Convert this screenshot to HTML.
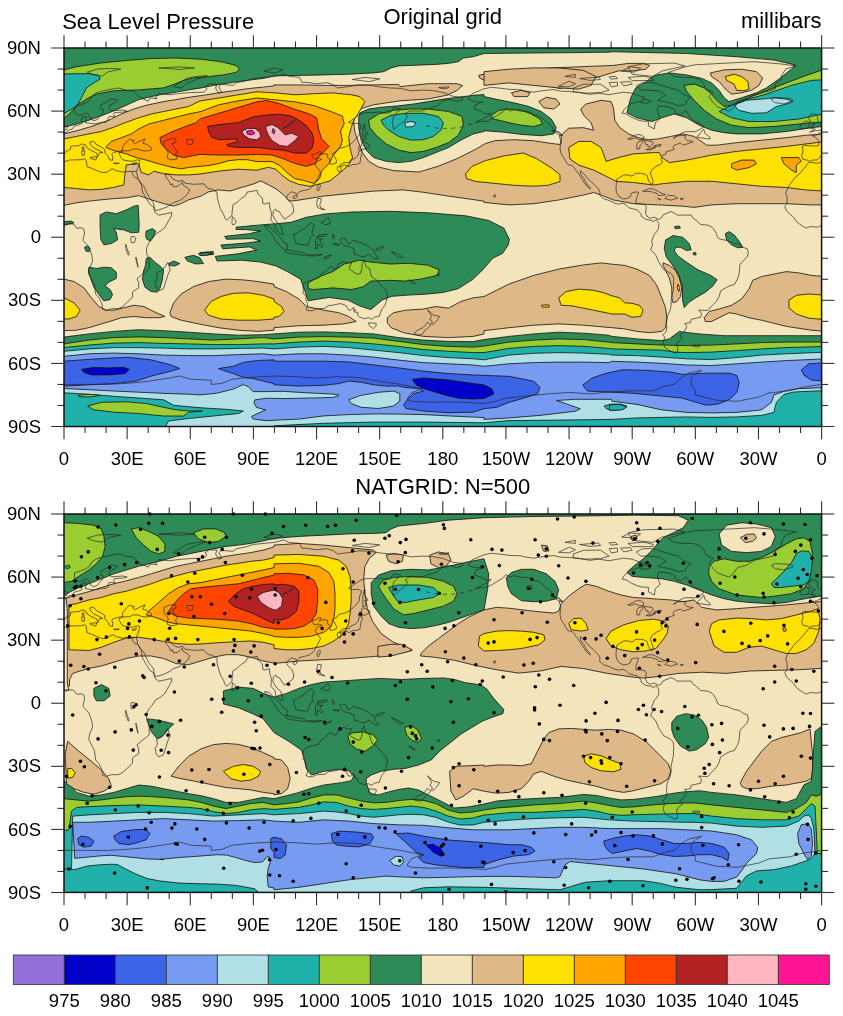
<!DOCTYPE html><html><head><meta charset="utf-8"><style>html,body{margin:0;padding:0;background:#fff}svg{display:block}</style></head><body><svg width="843" height="1016" viewBox="0 0 843 1016" style="font-family:'Liberation Sans',Arial,Helvetica,sans-serif" fill="#000">
<rect width="843" height="1016" fill="#fff"/>
<clipPath id="ct"><rect x="64.0" y="48.0" width="757.60" height="378.50"/></clipPath>
<g clip-path="url(#ct)">
<rect x="64.0" y="48.0" width="757.60" height="378.50" fill="#f3e4bc"/>
<path d="M60.0,40.0 L822.5,43.0 L822.5,126.5 L811.3,127.7 L786.4,131.5 L761.5,133.9 L736.6,133.9 L724.1,132.7 L711.6,130.2 L699.2,125.2 L686.7,117.8 L674.3,114.0 L661.8,117.8 L651.9,121.5 L636.9,117.8 L626.9,112.8 L630.7,97.8 L635.7,87.9 L644.4,82.9 L654.3,75.4 L669.3,72.9 L686.7,74.9 L701.7,78.4 L711.6,82.9 L719.1,90.3 L724.1,97.8 L729.1,101.6 L741.5,97.8 L756.5,92.8 L766.4,87.9 L778.9,79.1 L791.4,69.2 L795.1,64.9 L773.9,60.0 L736.6,56.7 L686.7,53.5 L612.0,51.7 L608.6,52.2 L583.6,52.5 L533.8,53.0 L484.0,53.5 L473.3,56.7 L463.3,58.0 L458.3,61.7 L448.4,63.4 L435.9,64.4 L423.5,64.9 L411.0,65.4 L398.6,65.9 L391.1,67.9 L383.6,71.7 L373.6,72.9 L348.7,74.2 L323.8,74.9 L298.9,75.4 L274.0,75.9 L263.3,78.4 L250.8,79.9 L238.4,81.6 L225.9,83.4 L213.5,85.4 L201.0,87.9 L188.6,89.9 L176.1,92.1 L163.6,94.1 L151.2,96.6 L138.7,99.6 L126.3,105.3 L113.8,110.8 L101.4,115.8 L88.9,120.2 L76.5,124.0 L64.0,127.2 L59.0,127.2 L59.0,43.0 Z" fill="#2e8b57" stroke="#111" stroke-width="0.8"/>
<path d="M59.0,69.9 L64.0,69.9 L76.5,66.7 L101.4,62.9 L126.3,60.5 L151.2,58.5 L176.1,58.0 L201.0,59.2 L220.9,61.7 L235.9,65.4 L239.6,69.2 L235.9,72.4 L223.4,74.9 L208.5,76.6 L193.5,77.9 L183.6,80.4 L174.9,84.1 L163.6,87.9 L138.7,89.9 L113.8,90.8 L96.4,94.1 L86.4,99.1 L78.9,104.0 L74.0,109.0 L69.0,114.0 L64.0,118.2 L59.0,118.2 Z" fill="#9acd32" stroke="#111" stroke-width="0.8"/>
<path d="M59.0,74.2 L74.0,73.7 L88.9,73.7 L98.9,75.4 L100.1,79.1 L93.9,82.9 L86.4,87.9 L82.7,95.3 L78.9,102.8 L74.0,107.8 L67.7,111.5 L64.0,113.3 L59.0,113.3 Z" fill="#20b2aa" stroke="#111" stroke-width="0.8"/>
<path d="M359.9,112.8 L368.7,109.0 L381.1,107.3 L398.6,105.8 L413.5,104.0 L428.4,101.6 L443.4,99.1 L458.3,97.3 L473.3,95.3 L484.0,94.6 L484.0,96.6 L498.9,99.8 L513.9,102.8 L528.8,106.5 L541.3,111.5 L551.3,119.0 L556.2,127.7 L553.8,133.9 L541.3,135.7 L521.4,134.4 L503.9,132.2 L484.0,130.7 L484.0,131.5 L473.3,133.9 L460.8,140.2 L448.4,147.6 L435.9,152.6 L423.5,157.6 L411.0,161.3 L398.6,162.6 L386.1,161.3 L373.6,157.6 L366.2,150.1 L361.2,140.2 L358.7,127.7 L358.7,117.8 Z" fill="#2e8b57" stroke="#111" stroke-width="0.8"/>
<path d="M368.7,120.2 L378.6,114.0 L393.6,110.3 L411.0,109.0 L428.4,109.0 L448.4,111.5 L462.1,116.5 L463.3,125.2 L458.3,135.2 L448.4,142.7 L435.9,147.6 L423.5,151.4 L411.0,152.6 L398.6,150.1 L386.1,143.9 L376.1,135.2 L369.9,127.7 Z" fill="#9acd32" stroke="#111" stroke-width="0.8"/>
<path d="M381.1,120.2 L391.1,115.3 L406.0,113.3 L423.5,113.3 L438.4,116.5 L443.4,122.7 L440.9,130.2 L433.4,136.4 L423.5,139.7 L411.0,140.2 L398.6,136.4 L388.6,130.2 L383.6,125.2 Z" fill="#20b2aa" stroke="#111" stroke-width="0.8"/>
<path d="M404.8,122.7 L411.0,121.5 L416.0,122.7 L413.5,126.5 L406.0,127.2 Z" fill="#b0e0e6" stroke="#111" stroke-width="0.8"/>
<path d="M491.5,115.3 L498.9,110.3 L508.9,109.0 L521.4,110.3 L531.3,114.0 L540.0,119.0 L542.5,124.0 L533.8,126.5 L521.4,125.2 L508.9,122.7 L498.9,120.2 L492.7,119.0 Z" fill="#9acd32" stroke="#111" stroke-width="0.8"/>
<path d="M684.2,85.4 L694.2,84.1 L704.2,87.9 L711.6,94.1 L716.6,100.3 L724.1,106.5 L731.6,105.3 L741.5,100.3 L761.5,92.8 L786.4,82.9 L806.3,75.4 L822.5,69.9 L822.5,122.0 L798.8,124.0 L773.9,126.5 L749.0,127.7 L731.6,125.2 L716.6,119.0 L704.2,110.3 L694.2,100.3 L686.7,91.6 Z" fill="#9acd32" stroke="#111" stroke-width="0.8"/>
<path d="M719.1,111.5 L729.1,106.5 L744.0,100.3 L766.4,94.1 L791.4,85.4 L811.3,80.4 L822.5,79.9 L822.5,114.0 L798.8,119.0 L773.9,121.5 L749.0,121.5 L731.6,117.8 Z" fill="#20b2aa" stroke="#111" stroke-width="0.8"/>
<path d="M736.6,104.0 L746.5,100.3 L761.5,99.1 L773.9,97.8 L786.4,99.1 L792.6,101.6 L786.4,104.0 L776.4,106.5 L766.4,112.8 L751.5,113.3 L739.0,110.3 L735.3,106.5 Z" fill="#b0e0e6" stroke="#111" stroke-width="0.8"/>
<path d="M710.4,72.9 L724.1,69.9 L741.5,69.2 L756.5,71.7 L762.7,77.9 L759.0,85.4 L751.5,90.3 L741.5,92.8 L731.6,94.1 L726.6,90.3 L719.1,81.6 L711.6,76.6 Z" fill="#deb887" stroke="#111" stroke-width="0.8"/>
<path d="M725.3,76.6 L734.1,74.2 L741.5,76.6 L747.8,81.6 L749.0,89.1 L744.0,90.8 L736.6,90.3 L734.1,84.1 L726.6,80.4 Z" fill="#ffe100" stroke="#111" stroke-width="0.8"/>
<path d="M478.8,75.2 L494.9,72.3 L523.4,69.5 L560.0,67.6 L613.5,65.4 L628.5,63.4 L643.4,63.4 L649.7,65.4 L645.9,69.2 L633.5,70.9 L618.5,70.9 L560.0,88.5 L532.9,82.8 L504.4,81.8 L485.4,80.9 L479.7,78.0 Z" fill="#deb887" stroke="#111" stroke-width="0.8"/>
<path d="M484.0,71.7 L508.9,69.2 L533.8,67.9 L558.7,67.9 L583.6,70.4 L596.1,76.6 L591.1,85.4 L578.7,89.1 L558.7,87.9 L533.8,85.4 L508.9,82.9 L484.0,85.4 Z" fill="#deb887" stroke="#111" stroke-width="0.8"/>
<path d="M511.4,92.8 L521.4,90.3 L530.1,92.8 L527.6,96.6 L513.9,96.6 Z" fill="#deb887" stroke="#111" stroke-width="0.8"/>
<path d="M538.8,101.6 L546.3,97.3 L556.2,99.1 L560.0,104.0 L553.8,109.0 L543.8,107.8 Z" fill="#deb887" stroke="#111" stroke-width="0.8"/>
<path d="M59.0,133.9 L64.0,133.9 L78.9,130.2 L93.9,125.7 L108.8,120.2 L121.3,114.0 L133.8,109.0 L146.2,105.3 L163.6,101.6 L176.1,99.6 L188.6,97.3 L203.5,95.3 L218.4,92.8 L233.4,90.8 L248.3,88.6 L263.3,87.1 L274.0,85.9 L274.0,84.9 L298.9,84.9 L323.8,85.4 L348.7,85.4 L373.6,84.9 L398.6,84.4 L400.0,86.6 L428.5,83.7 L456.9,83.7 L462.6,85.6 L456.9,90.4 L447.4,95.1 L428.5,98.9 L400.0,100.8 L373.6,104.8 L359.9,109.0 L355.0,115.3 L353.7,122.7 L355.0,132.7 L358.7,142.7 L362.4,152.6 L368.7,161.3 L378.6,167.1 L393.6,170.6 L419.0,172.0 L438.0,166.3 L456.9,158.7 L475.9,149.2 L485.4,143.5 L494.9,140.7 L513.9,139.7 L532.9,140.7 L551.8,143.5 L560.0,144.5 L561.2,143.9 L561.2,135.2 L568.7,128.2 L583.6,127.7 L593.6,130.2 L591.1,122.7 L583.6,115.3 L580.7,109.0 L586.1,104.0 L601.1,100.3 L611.0,101.6 L613.5,107.8 L614.8,120.2 L619.8,127.7 L628.5,133.9 L638.4,137.7 L648.4,139.7 L658.4,138.9 L670.8,136.4 L683.3,133.9 L694.2,136.4 L706.7,145.2 L716.6,145.2 L736.6,142.7 L761.5,140.2 L786.4,137.7 L806.3,135.2 L826.2,133.9 L826.2,204.9 L811.3,204.9 L786.4,203.7 L761.5,203.7 L736.6,203.7 L711.6,204.9 L694.0,207.4 L683.3,206.2 L658.4,204.9 L633.5,203.7 L613.5,200.0 L601.1,195.0 L593.6,192.5 L583.6,195.0 L558.7,200.0 L533.8,203.7 L508.9,204.9 L484.0,202.4 L484.0,201.1 L448.4,196.1 L423.5,192.3 L403.5,189.9 L373.6,191.1 L348.7,193.6 L323.8,196.1 L296.4,200.5 L289.3,201.1 L284.6,195.8 L277.4,189.8 L269.1,185.1 L260.8,180.9 L253.7,183.9 L241.9,187.4 L230.0,191.0 L218.4,189.9 L208.5,191.9 L201.0,196.1 L188.6,199.8 L181.1,203.6 L173.6,206.0 L163.6,203.6 L151.2,199.8 L138.7,195.6 L126.3,197.8 L113.8,198.6 L101.4,199.8 L88.9,201.1 L76.5,202.8 L64.0,205.3 L59.0,205.3 Z" fill="#deb887" stroke="#111" stroke-width="0.8"/>
<path d="M59.0,138.9 L64.0,138.9 L76.5,136.4 L88.9,133.9 L101.4,131.5 L113.8,127.2 L126.3,122.2 L138.7,117.8 L151.2,114.0 L163.6,111.5 L176.1,109.0 L188.6,106.5 L200.0,100.9 L219.0,98.0 L238.0,94.8 L256.9,91.8 L275.9,92.9 L294.9,94.8 L313.9,93.7 L332.9,92.9 L351.8,94.8 L360.0,96.7 L364.9,101.6 L358.7,112.8 L353.7,120.2 L351.2,127.7 L348.7,137.7 L350.0,147.6 L352.5,157.6 L348.7,165.1 L338.8,173.8 L330.0,180.8 L321.5,183.4 L310.1,186.3 L298.7,184.4 L289.2,180.6 L281.6,174.9 L275.9,169.2 L268.3,167.3 L256.9,170.2 L238.0,169.2 L219.0,171.1 L200.0,174.0 L188.6,174.9 L176.1,174.9 L163.6,173.7 L153.7,171.2 L148.7,174.9 L141.2,172.4 L138.7,163.7 L126.3,164.9 L125.0,173.7 L123.8,184.9 L113.8,187.4 L101.4,189.4 L88.9,189.9 L76.5,188.6 L64.0,187.4 L59.0,187.4 Z" fill="#ffe100" stroke="#111" stroke-width="0.8"/>
<path d="M106.3,146.4 L111.3,141.4 L121.3,137.7 L131.3,133.9 L138.7,129.0 L148.7,124.0 L158.7,121.5 L168.6,119.0 L178.6,116.5 L188.6,114.0 L201.0,111.5 L219.0,104.7 L238.0,100.9 L256.9,98.0 L275.9,99.9 L294.9,101.8 L313.9,105.6 L332.9,112.3 L342.3,116.1 L344.2,123.7 L340.5,131.2 L342.3,140.7 L340.5,146.4 L332.9,155.9 L329.1,163.5 L321.5,171.1 L319.6,178.7 L313.9,183.4 L304.4,180.6 L294.9,178.7 L287.3,173.0 L279.7,165.4 L272.1,161.6 L256.9,161.6 L247.4,159.7 L238.0,159.7 L228.5,160.7 L219.0,163.5 L209.5,165.4 L200.0,166.4 L191.0,167.1 L181.1,168.8 L171.1,167.1 L158.7,163.8 L146.2,160.1 L136.2,157.6 L126.3,153.9 L113.8,150.6 L106.3,147.6 Z" fill="#ffa500" stroke="#111" stroke-width="0.8"/>
<path d="M159.9,137.7 L171.1,132.2 L183.6,127.2 L196.0,122.7 L200.0,118.9 L219.0,113.2 L238.0,107.5 L256.9,101.8 L266.4,100.5 L279.7,103.7 L294.9,109.4 L310.1,114.2 L316.7,118.0 L318.6,129.3 L321.5,138.8 L329.1,146.4 L323.4,152.1 L317.7,157.8 L315.8,163.5 L306.3,166.4 L294.9,163.5 L283.5,158.8 L272.1,155.0 L256.9,154.4 L238.0,155.0 L219.0,155.0 L200.0,154.4 L193.5,155.6 L183.6,157.6 L173.6,155.1 L166.1,148.9 L161.2,143.9 Z" fill="#ff4500" stroke="#111" stroke-width="0.8"/>
<path d="M207.6,126.5 L219.0,124.6 L238.0,122.7 L253.1,117.0 L266.4,115.1 L279.7,114.2 L291.1,116.1 L298.7,119.9 L306.3,125.6 L312.0,133.1 L313.9,140.7 L312.0,148.3 L306.3,153.1 L294.9,153.1 L283.5,150.2 L272.1,149.3 L256.9,147.4 L238.0,147.4 L228.5,146.4 L226.6,144.5 L238.0,141.7 L236.1,138.8 L219.0,139.8 L211.4,136.9 L208.5,131.2 Z" fill="#b22222" stroke="#111" stroke-width="0.8"/>
<path d="M241.8,131.2 L247.4,128.4 L255.0,128.4 L259.8,132.2 L260.7,136.9 L256.9,139.8 L249.3,138.8 L243.7,135.0 Z" fill="#ffb6c1" stroke="#111" stroke-width="0.8"/>
<path d="M246.5,131.2 L252.2,130.3 L255.0,133.1 L251.2,135.0 L247.4,134.1 Z" fill="#ff1493" stroke="#111" stroke-width="0.8"/>
<path d="M265.5,126.5 L272.1,124.6 L277.8,127.4 L281.6,131.2 L285.4,135.0 L291.1,133.1 L298.7,136.0 L294.9,140.7 L287.3,146.4 L279.7,145.5 L272.1,140.7 L268.3,135.0 L266.4,130.3 Z" fill="#ffb6c1" stroke="#111" stroke-width="0.8"/>
<path d="M273.1,128.4 L275.0,131.2 L274.0,134.1 L272.1,132.2 Z" fill="#ff1493" stroke="#111" stroke-width="0.8"/>
<path d="M465.5,173.9 L472.1,166.3 L485.4,160.6 L504.4,155.8 L523.4,153.0 L536.7,158.7 L551.8,168.2 L560.0,174.8 L560.0,181.5 L548.0,185.3 L532.9,186.2 L513.9,185.3 L494.9,183.4 L475.9,181.5 L466.4,178.6 Z" fill="#ffe100" stroke="#111" stroke-width="0.8"/>
<path d="M568.7,147.6 L578.7,141.4 L591.1,141.4 L601.1,147.6 L606.1,161.3 L618.5,157.6 L633.5,153.9 L653.4,152.6 L659.3,152.6 L661.8,157.6 L669.3,162.6 L686.7,160.1 L711.6,155.1 L736.6,151.4 L761.5,148.9 L786.4,146.4 L806.3,143.9 L826.2,141.4 L826.2,191.2 L806.3,190.0 L786.4,187.5 L761.5,186.3 L736.6,183.8 L711.6,181.3 L686.7,181.3 L661.8,183.8 L653.4,185.0 L633.5,182.5 L616.0,181.3 L603.6,175.0 L593.6,170.1 L578.7,165.1 L569.9,158.9 Z" fill="#ffe100" stroke="#111" stroke-width="0.8"/>
<path d="M731.6,163.8 L741.5,160.1 L754.0,160.1 L756.5,163.8 L749.0,167.6 L736.6,170.1 L731.6,167.6 Z" fill="#ffa500" stroke="#111" stroke-width="0.8"/>
<path d="M781.4,157.6 L798.8,157.6 L801.3,161.3 L796.3,165.1 L796.3,172.6 L791.4,170.1 L783.9,163.8 Z" fill="#ffa500" stroke="#111" stroke-width="0.8"/>
<path d="M50.0,400.0 L64.0,337.1 L88.9,333.9 L113.8,331.4 L138.7,329.7 L163.6,330.7 L188.6,332.2 L213.5,333.9 L238.4,335.2 L263.3,334.7 L274.0,333.9 L298.9,332.2 L323.8,331.9 L348.7,332.7 L373.6,333.9 L398.6,337.6 L423.5,340.1 L448.4,341.4 L473.3,341.6 L484.0,339.6 L508.9,336.4 L533.8,333.9 L558.7,332.2 L583.6,333.2 L608.6,335.2 L612.0,336.4 L636.9,338.9 L661.8,340.6 L669.3,338.9 L679.3,331.4 L684.2,332.2 L699.2,333.9 L724.1,335.7 L749.0,335.7 L773.9,335.7 L798.8,335.7 L826.2,335.7 L830.0,440.0 L50.0,440.0 Z" fill="#2e8b57" stroke="#111" stroke-width="0.8"/>
<path d="M50.0,405.0 L64.0,343.9 L88.9,340.1 L113.8,337.6 L138.7,336.9 L163.6,337.6 L188.6,338.9 L213.5,340.1 L238.4,338.9 L263.3,337.6 L274.0,338.9 L298.9,337.1 L323.8,336.6 L348.7,337.1 L373.6,338.1 L398.6,341.4 L423.5,344.6 L448.4,346.4 L473.3,347.1 L484.0,346.1 L508.9,342.1 L533.8,340.1 L558.7,338.9 L583.6,339.6 L608.6,342.1 L612.0,342.6 L636.9,343.9 L661.8,345.1 L686.7,345.6 L711.6,345.1 L736.6,343.9 L761.5,342.6 L786.4,342.1 L826.2,342.1 L830.0,440.0 L50.0,440.0 Z" fill="#9acd32" stroke="#111" stroke-width="0.8"/>
<path d="M50.0,410.0 L64.0,347.6 L88.9,345.1 L113.8,343.1 L138.7,342.6 L163.6,343.4 L188.6,343.9 L213.5,344.6 L238.4,344.6 L263.3,343.9 L274.0,343.9 L298.9,342.1 L323.8,341.1 L348.7,342.1 L373.6,343.9 L398.6,346.4 L423.5,349.6 L448.4,351.3 L473.3,352.6 L484.0,352.6 L508.9,348.4 L533.8,346.4 L558.7,345.6 L583.6,346.4 L608.6,348.4 L612.0,348.9 L636.9,349.6 L661.8,350.1 L674.3,352.1 L686.7,352.6 L711.6,352.1 L736.6,350.6 L761.5,348.9 L786.4,347.6 L826.2,346.4 L830.0,440.0 L50.0,440.0 Z" fill="#20b2aa" stroke="#111" stroke-width="0.8"/>
<path d="M50.0,415.0 L64.0,351.3 L88.9,348.9 L113.8,347.6 L138.7,347.6 L163.6,348.1 L188.6,348.9 L213.5,348.9 L238.4,348.4 L263.3,348.1 L274.0,348.9 L298.9,347.1 L323.8,346.4 L348.7,347.6 L373.6,350.1 L398.6,352.6 L423.5,355.6 L448.4,357.6 L473.3,358.8 L484.0,359.8 L508.9,355.1 L533.8,353.3 L558.7,352.6 L583.6,353.1 L608.6,354.3 L612.0,355.1 L636.9,355.6 L661.8,357.1 L686.7,358.8 L711.6,359.6 L736.6,357.6 L761.5,355.1 L786.4,353.8 L826.2,352.1 L830.0,440.0 L50.0,440.0 Z" fill="#b0e0e6" stroke="#111" stroke-width="0.8"/>
<path d="M50.0,420.0 L64.0,356.3 L88.9,353.8 L113.8,353.1 L138.7,353.8 L163.6,355.1 L188.6,355.6 L213.5,355.6 L238.4,354.6 L263.3,353.8 L274.0,355.1 L298.9,353.8 L323.8,353.8 L348.7,355.1 L373.6,357.1 L398.6,360.1 L423.5,362.6 L448.4,363.8 L473.3,365.0 L484.0,366.3 L508.9,363.8 L533.8,362.6 L558.7,362.1 L583.6,362.1 L608.6,362.6 L612.0,361.3 L636.9,362.1 L661.8,363.3 L686.7,365.0 L711.6,365.5 L736.6,363.8 L761.5,362.1 L786.4,360.6 L826.2,358.8 L826.2,387.5 L798.8,388.7 L786.4,390.5 L773.9,394.9 L771.4,402.4 L761.5,409.9 L736.6,412.4 L711.6,412.9 L686.7,412.4 L661.8,409.9 L636.9,404.4 L612.0,401.2 L611.2,399.3 L599.3,399.3 L575.6,399.3 L556.6,400.5 L563.7,402.9 L580.3,408.8 L575.6,411.2 L540.0,415.4 L508.9,417.9 L484.0,419.4 L484.0,417.6 L473.3,417.1 L448.4,415.9 L423.5,414.6 L398.6,414.1 L373.6,413.9 L348.7,414.6 L323.8,415.9 L298.9,419.1 L283.0,419.8 L266.4,420.7 L253.1,419.0 L251.5,416.5 L258.1,413.2 L265.6,409.9 L256.5,407.4 L254.0,403.2 L254.8,399.9 L266.4,398.2 L283.0,398.6 L299.6,398.2 L316.3,397.9 L332.9,397.4 L338.7,395.7 L338.7,394.9 L332.9,394.1 L316.3,393.3 L299.6,392.4 L283.0,391.3 L266.4,391.6 L253.1,391.6 L248.2,386.6 L243.2,384.6 L233.2,389.1 L216.6,393.3 L200.0,394.9 L188.6,394.2 L163.6,393.4 L138.7,392.2 L113.8,391.0 L88.9,389.7 L64.0,388.5 L50.0,580.0 Z" fill="#789bf2" stroke="#111" stroke-width="0.8"/>
<path d="M59.0,361.2 L64.0,361.2 L88.9,359.4 L113.8,357.9 L128.8,357.4 L151.2,359.9 L171.1,364.9 L179.8,368.6 L171.1,371.1 L151.2,376.1 L136.2,381.1 L113.8,383.6 L88.9,384.8 L64.0,386.1 L59.0,386.1 Z" fill="#3c64e6" stroke="#111" stroke-width="0.8"/>
<path d="M218.4,368.6 L233.4,366.2 L243.4,362.4 L258.3,360.4 L274.0,359.9 L274.0,361.2 L298.9,361.2 L323.8,361.2 L348.7,361.9 L373.6,364.9 L398.6,367.9 L423.5,371.1 L448.4,373.6 L473.3,374.9 L484.0,375.4 L508.9,376.3 L533.8,381.2 L540.0,387.5 L537.6,393.7 L526.3,397.4 L508.9,402.4 L496.5,407.4 L484.0,408.6 L473.3,412.2 L448.4,412.7 L423.5,411.0 L406.0,408.5 L403.5,404.8 L408.5,398.5 L413.5,393.6 L423.5,391.1 L418.5,388.6 L403.5,387.3 L398.6,386.1 L386.1,386.1 L373.6,384.8 L361.2,382.3 L348.7,381.1 L338.8,383.6 L323.8,385.3 L298.9,386.1 L274.0,384.8 L274.0,383.6 L263.3,381.1 L253.3,378.6 L243.4,377.4 L233.4,373.6 L223.4,370.4 Z" fill="#3c64e6" stroke="#111" stroke-width="0.8"/>
<path d="M582.7,385.1 L592.2,378.0 L606.4,373.2 L623.0,369.7 L646.8,370.4 L670.5,372.0 L682.3,374.4 L706.1,373.2 L729.8,373.2 L736.9,375.6 L739.3,382.7 L736.9,392.2 L729.8,399.3 L717.9,404.1 L706.1,405.2 L694.2,401.7 L682.3,398.1 L658.6,395.8 L634.9,393.4 L611.2,392.2 L587.4,391.0 Z" fill="#3c64e6" stroke="#111" stroke-width="0.8"/>
<path d="M801.3,370.0 L808.8,363.8 L826.2,362.6 L826.2,381.2 L811.3,380.0 L803.8,375.0 Z" fill="#3c64e6" stroke="#111" stroke-width="0.8"/>
<path d="M81.4,369.4 L93.9,367.4 L108.8,367.9 L123.8,367.4 L129.3,369.4 L125.0,373.6 L108.8,374.9 L91.4,374.9 L83.9,372.4 Z" fill="#0000c8" stroke="#111" stroke-width="0.8"/>
<path d="M412.3,379.4 L423.5,377.9 L448.4,379.9 L473.3,383.6 L484.0,384.8 L491.5,388.7 L494.0,393.7 L489.0,396.2 L484.0,398.5 L473.3,399.0 L460.8,398.5 L448.4,396.0 L435.9,392.3 L423.5,388.6 L416.0,384.8 Z" fill="#0000c8" stroke="#111" stroke-width="0.8"/>
<path d="M348.7,399.8 L361.2,395.3 L378.6,392.3 L393.6,391.1 L399.8,393.6 L399.8,401.0 L393.6,406.0 L378.6,408.5 L361.2,407.3 L351.2,403.5 Z" fill="#b0e0e6" stroke="#111" stroke-width="0.8"/>
<path d="M604.1,406.0 L611.2,404.1 L620.7,404.1 L626.6,406.0 L623.0,409.3 L613.5,410.5 L606.4,408.8 Z" fill="#20b2aa" stroke="#111" stroke-width="0.8"/>
<path d="M59.0,392.8 L64.0,392.8 L88.9,394.3 L113.8,396.3 L138.7,398.0 L163.6,399.8 L173.6,405.3 L201.0,407.8 L225.9,409.3 L243.4,411.0 L238.4,413.5 L213.5,416.0 L188.6,418.5 L168.6,421.0 L163.6,429.7 L59.0,429.7 Z" fill="#20b2aa" stroke="#111" stroke-width="0.8"/>
<path d="M274.0,425.8 L323.8,423.3 L373.6,422.1 L423.5,422.1 L484.0,422.8 L508.9,420.6 L558.7,420.1 L612.0,419.4 L636.9,417.9 L661.8,417.4 L686.7,416.9 L711.6,417.4 L736.6,416.9 L761.5,415.4 L773.9,412.4 L776.4,402.4 L783.9,394.4 L793.9,392.0 L826.2,390.5 L826.2,437.3 L612.0,437.3 L274.0,437.3 Z" fill="#20b2aa" stroke="#111" stroke-width="0.8"/>
<path d="M609.5,404.9 L619.5,404.4 L626.9,406.9 L622.0,409.9 L609.5,410.4 Z" fill="#20b2aa" stroke="#111" stroke-width="0.8"/>
<path d="M87.7,406.0 L101.4,402.3 L126.3,401.8 L146.2,403.5 L163.6,407.3 L176.1,409.8 L188.6,411.0 L202.3,411.0 L188.6,412.2 L183.6,416.0 L163.6,416.0 L138.7,413.5 L113.8,412.2 L93.9,409.8 Z" fill="#9acd32" stroke="#111" stroke-width="0.8"/>
<path d="M77.7,395.3 L88.9,394.3 L100.1,395.3 L91.4,396.8 L80.2,396.8 Z" fill="#9acd32" stroke="#111" stroke-width="0.8"/>
<path d="M59.0,279.1 L64.0,279.1 L74.0,281.6 L83.9,287.8 L91.4,297.8 L98.9,306.5 L106.3,310.2 L113.8,310.2 L123.8,307.8 L133.8,305.3 L143.7,306.5 L153.7,311.5 L164.9,316.5 L158.7,317.7 L146.2,317.7 L133.8,316.5 L121.3,317.7 L113.8,320.2 L101.4,323.9 L88.9,327.7 L76.5,330.2 L64.0,330.7 L59.0,330.7 Z" fill="#deb887" stroke="#111" stroke-width="0.8"/>
<path d="M59.0,297.8 L64.0,297.8 L74.0,302.8 L80.2,310.2 L76.5,316.5 L69.0,319.0 L64.0,319.0 L59.0,319.0 Z" fill="#ffe100" stroke="#111" stroke-width="0.8"/>
<path d="M169.9,312.7 L173.6,302.8 L181.1,294.0 L193.5,286.6 L208.5,281.6 L225.9,279.1 L243.4,279.9 L258.3,281.6 L274.0,284.1 L274.0,286.6 L286.5,291.6 L298.9,299.0 L306.4,306.5 L323.8,310.2 L338.8,312.7 L348.7,316.5 L356.2,321.5 L343.8,323.9 L323.8,325.2 L298.9,325.7 L274.0,327.7 L274.0,330.2 L258.3,331.4 L238.4,330.2 L218.4,327.7 L198.5,323.9 L181.1,320.2 L171.1,316.5 Z" fill="#deb887" stroke="#111" stroke-width="0.8"/>
<path d="M204.7,310.2 L211.0,301.5 L220.9,296.5 L233.4,293.3 L248.3,292.8 L263.3,295.3 L274.0,299.0 L274.0,301.5 L281.5,306.5 L284.0,311.5 L279.0,316.5 L274.0,317.2 L274.0,319.0 L258.3,320.2 L238.4,320.2 L220.9,319.0 L208.5,315.2 Z" fill="#ffe100" stroke="#111" stroke-width="0.8"/>
<path d="M387.3,317.7 L393.6,312.7 L406.0,310.2 L423.5,309.0 L435.9,306.5 L448.4,308.2 L460.8,301.5 L473.3,297.8 L484.0,296.5 L484.0,296.5 L496.5,290.3 L508.9,284.1 L533.8,275.4 L558.7,269.1 L583.6,264.9 L601.1,262.9 L612.0,264.2 L624.5,265.4 L636.9,269.1 L649.4,275.4 L656.8,285.3 L661.8,297.8 L665.6,307.8 L666.8,317.7 L665.6,327.7 L661.8,331.4 L649.4,332.7 L636.9,331.4 L624.5,328.9 L612.0,327.7 L583.6,325.2 L558.7,323.9 L533.8,325.2 L508.9,327.7 L484.0,330.7 L484.0,333.9 L473.3,336.4 L448.4,337.6 L423.5,336.4 L403.5,332.7 L391.1,327.7 L387.3,322.7 Z" fill="#deb887" stroke="#111" stroke-width="0.8"/>
<path d="M558.7,297.8 L566.2,291.6 L578.7,289.1 L593.6,290.3 L603.6,292.8 L612.0,295.8 L619.5,297.8 L624.5,302.8 L631.9,303.3 L639.4,305.3 L643.1,310.2 L640.6,316.5 L631.9,317.2 L624.5,314.0 L617.0,314.0 L612.0,314.0 L593.6,310.2 L583.6,308.2 L571.2,305.8 L561.2,305.3 Z" fill="#ffe100" stroke="#111" stroke-width="0.8"/>
<path d="M541.3,305.3 L548.8,304.8 L549.3,307.0 L542.5,307.3 Z" fill="#ffe100" stroke="#111" stroke-width="0.8"/>
<path d="M704.2,317.7 L709.2,311.5 L719.1,309.0 L731.6,305.3 L741.5,299.0 L749.0,289.1 L752.7,280.3 L761.5,276.6 L773.9,274.1 L786.4,271.6 L798.8,272.9 L811.3,275.4 L826.2,276.6 L826.2,331.4 L811.3,330.2 L786.4,326.4 L761.5,320.2 L749.0,317.7 L736.6,314.0 L729.1,312.7 L719.1,317.7 L711.6,321.5 L705.4,321.5 Z" fill="#deb887" stroke="#111" stroke-width="0.8"/>
<path d="M788.9,300.3 L796.3,295.3 L808.8,294.0 L826.2,295.3 L826.2,319.7 L808.8,318.2 L796.3,314.0 L788.9,307.8 Z" fill="#ffe100" stroke="#111" stroke-width="0.8"/>
<path d="M663.1,262.9 L669.3,265.4 L675.5,270.4 L679.3,277.9 L681.8,287.8 L680.5,296.5 L676.8,301.5 L673.0,302.8 L671.8,297.8 L671.8,287.8 L669.3,277.9 L665.6,270.4 L663.1,265.4 Z" fill="#deb887" stroke="#111" stroke-width="0.8"/>
<path d="M678.0,284.1 L679.8,287.8 L678.8,291.6 L677.3,287.8 Z" fill="#ffe100" stroke="#111" stroke-width="0.8"/>
<path d="M665.6,239.9 L673.0,235.6 L683.0,237.4 L689.2,243.6 L691.2,249.8 L686.7,250.6 L680.5,247.3 L675.5,247.3 L674.3,251.1 L678.0,256.1 L686.7,262.3 L697.9,269.8 L710.4,275.2 L717.1,279.7 L712.9,286.0 L705.4,292.2 L696.7,297.2 L689.2,302.1 L684.2,307.6 L682.5,299.7 L682.5,287.2 L678.8,274.7 L673.0,266.0 L666.3,256.8 L664.3,248.6 Z" fill="#2e8b57" stroke="#111" stroke-width="0.8"/>
<path d="M725.3,233.6 L729.1,231.6 L734.1,234.9 L739.0,241.1 L742.8,247.3 L737.8,247.8 L731.6,244.9 L726.6,239.9 Z" fill="#2e8b57" stroke="#111" stroke-width="0.8"/>
<path d="M674.3,226.8 L679.3,226.0 L680.5,228.0 L675.5,228.8 Z" fill="#2e8b57" stroke="#111" stroke-width="0.8"/>
<path d="M693.0,252.9 L695.5,252.4 L696.2,254.9 L693.7,254.9 Z" fill="#2e8b57" stroke="#111" stroke-width="0.8"/>
<path d="M236.1,227.2 L260.7,224.9 L279.7,223.4 L291.1,222.3 L306.3,217.3 L325.3,213.9 L351.8,212.0 L389.8,211.3 L427.8,212.8 L465.7,215.8 L488.5,220.4 L503.7,228.0 L509.4,239.3 L508.2,245.0 L502.5,253.4 L492.7,258.3 L482.8,269.7 L472.6,279.6 L458.1,288.7 L442.9,292.5 L427.8,294.0 L408.8,295.1 L391.7,296.3 L382.2,300.1 L370.8,309.6 L359.4,305.8 L348.0,300.1 L329.1,297.4 L308.2,300.8 L304.4,289.5 L300.6,279.2 L287.3,271.6 L275.9,265.9 L260.7,262.1 L241.8,260.2 L217.1,261.0 L215.2,256.4 L238.0,253.8 L256.9,250.0 L249.3,246.9 L222.8,248.8 L220.9,245.0 L245.6,243.1 L260.7,241.2 L253.1,238.6 L226.6,239.3 L224.7,236.3 L249.3,233.7 L260.7,231.0 L245.6,229.5 L236.1,229.5 Z" fill="#2e8b57" stroke="#111" stroke-width="0.8"/>
<path d="M308.2,283.0 L317.7,277.3 L332.9,271.6 L344.2,264.0 L359.4,260.2 L370.8,262.1 L389.8,264.0 L408.8,263.3 L427.8,265.2 L439.1,269.7 L437.2,275.4 L420.2,279.2 L405.0,281.1 L389.8,280.3 L370.8,281.1 L363.2,286.8 L351.8,289.5 L332.9,287.9 L313.9,289.5 L308.2,288.7 Z" fill="#9acd32" stroke="#111" stroke-width="0.8"/>
<path d="M200.0,252.6 L213.3,251.5 L213.3,254.5 L200.0,255.3 Z" fill="#2e8b57" stroke="#111" stroke-width="0.8"/>
<path d="M100.1,214.9 L106.3,211.9 L116.3,213.7 L126.3,209.9 L133.8,206.2 L138.2,205.4 L138.7,214.9 L139.2,224.9 L138.7,232.3 L131.3,232.8 L123.8,229.9 L113.8,228.6 L116.3,232.3 L117.6,239.8 L111.3,243.6 L103.9,244.8 L100.9,239.8 L100.1,227.4 Z" fill="#2e8b57" stroke="#111" stroke-width="0.8"/>
<path d="M146.2,231.1 L152.4,228.6 L155.7,231.1 L153.7,236.1 L149.9,241.1 L146.2,238.6 L145.7,234.8 Z" fill="#2e8b57" stroke="#111" stroke-width="0.8"/>
<path d="M61.5,221.9 L71.5,221.1 L74.0,222.9 L66.5,224.4 L61.5,224.4 Z" fill="#2e8b57" stroke="#111" stroke-width="0.8"/>
<path d="M84.4,247.3 L87.7,246.0 L90.2,248.5 L88.9,251.8 L85.9,251.0 Z" fill="#2e8b57" stroke="#111" stroke-width="0.8"/>
<path d="M88.9,267.2 L96.4,268.5 L103.9,267.2 L111.3,267.7 L116.3,272.2 L116.3,278.4 L108.8,282.2 L105.1,285.9 L110.1,289.6 L112.6,294.6 L110.1,299.6 L103.9,300.9 L98.9,294.6 L93.9,287.2 L90.2,277.2 L88.4,272.2 Z" fill="#2e8b57" stroke="#111" stroke-width="0.8"/>
<path d="M146.2,258.5 L149.9,257.3 L154.9,262.2 L159.9,266.0 L163.6,269.7 L162.4,279.7 L159.9,288.4 L157.4,292.1 L151.2,291.6 L145.0,287.2 L142.5,279.7 L143.2,272.2 L145.7,264.7 Z" fill="#2e8b57" stroke="#111" stroke-width="0.8"/>
<path d="M168.6,263.5 L173.6,261.0 L179.8,263.5 L174.9,266.0 L169.9,265.5 Z" fill="#2e8b57" stroke="#111" stroke-width="0.8"/>
<path d="M184.8,257.3 L193.5,255.3 L199.8,257.8 L203.5,263.5 L196.0,264.0 L187.3,261.0 Z" fill="#2e8b57" stroke="#111" stroke-width="0.8"/>
<path d="M198.5,253.5 L206.0,252.3 L212.2,253.5 L207.2,255.3 L199.8,255.3 Z" fill="#2e8b57" stroke="#111" stroke-width="0.8"/>
<path d="M51.6,162.0 L43.4,172.1 L36.2,179.0 L30.3,187.4 L28.0,193.1 L29.3,196.2 L29.7,203.6 L27.2,206.3 L28.9,211.0 L32.4,214.1 L36.0,217.3 L38.7,221.5 L41.9,224.0 L48.2,228.0 L53.5,226.5 L59.8,227.2 L64.0,225.5 L69.3,224.0 L73.5,224.0 L76.6,228.2 L81.9,227.8 L84.0,229.3 L84.6,233.0 L83.6,237.2 L82.9,240.4 L88.8,246.7 L89.9,249.9 L92.0,255.8 L92.6,261.4 L89.7,267.7 L88.8,273.6 L94.5,284.6 L95.6,294.0 L98.7,297.4 L101.9,303.5 L102.7,309.2 L106.1,310.4 L111.3,308.7 L117.9,308.7 L121.9,307.1 L127.1,302.4 L132.4,297.4 L132.6,291.9 L138.7,287.7 L138.7,282.5 L137.0,278.9 L141.4,275.1 L149.2,268.8 L149.2,259.3 L146.7,254.1 L146.5,247.8 L149.2,242.5 L152.0,239.4 L155.5,234.1 L160.8,230.9 L165.0,227.2 L168.2,221.5 L171.7,215.2 L171.7,212.4 L167.1,213.5 L158.7,215.2 L155.1,212.4 L153.4,206.8 L150.3,204.7 L146.7,199.4 L142.5,192.0 L141.4,184.7 L137.7,178.4 L134.5,177.3 L132.4,174.2 L132.0,171.4 L127.1,171.6 L122.9,172.1 L116.6,170.8 L112.4,168.7 L106.1,172.5 L101.9,172.5 L96.6,170.4 L91.4,168.1 L87.1,166.8 L86.1,159.9 L84.6,158.8 L80.8,159.7 L74.5,159.9 L70.3,159.9 L64.0,161.8 L59.8,163.4 L51.6,162.0 M809.2,162.0 L801.0,172.1 L793.8,179.0 L787.9,187.4 L785.6,193.1 L786.9,196.2 L787.3,203.6 L784.8,206.3 L786.5,211.0 L790.0,214.1 L793.6,217.3 L796.3,221.5 L799.5,224.0 L805.8,228.0 L811.1,226.5 L817.4,227.2 L821.6,225.5 L826.9,224.0 L831.1,224.0 L834.2,228.2 L839.5,227.8 L841.6,229.3 L842.2,233.0 L841.2,237.2 L840.5,240.4 L846.4,246.7 L847.5,249.9 L849.6,255.8 L850.2,261.4 L847.3,267.7 L846.4,273.6 L852.1,284.6 L853.2,294.0 L856.3,297.4 L859.5,303.5 L860.3,309.2 L863.7,310.4 L869.0,308.7 L875.5,308.7 L879.5,307.1 L884.7,302.4 L890.0,297.4 L890.2,291.9 L896.3,287.7 L896.3,282.5 L894.6,278.9 L899.0,275.1 L906.8,268.8 L906.8,259.3 L904.3,254.1 L904.1,247.8 L906.8,242.5 L909.6,239.4 L913.1,234.1 L918.4,230.9 L922.6,227.2 L925.8,221.5 L929.3,215.2 L929.3,212.4 L924.7,213.5 L916.3,215.2 L912.7,212.4 L911.0,206.8 L907.9,204.7 L904.3,199.4 L900.1,192.0 L899.0,184.7 L895.3,178.4 L892.1,177.3 L890.0,174.2 L889.6,171.4 L884.7,171.6 L880.5,172.1 L874.2,170.8 L870.0,168.7 L863.7,172.5 L859.5,172.5 L854.2,170.4 L849.0,168.1 L844.7,166.8 L843.7,159.9 L842.2,158.8 L838.4,159.7 L832.1,159.9 L827.9,159.9 L821.6,161.8 L817.4,163.4 L809.2,162.0 M167.7,262.5 L170.3,269.8 L168.2,274.0 L166.1,280.4 L163.5,288.8 L158.7,290.9 L156.2,287.7 L155.1,282.5 L157.4,278.3 L156.6,273.0 L161.9,270.3 L165.0,266.7 L167.7,262.5 M132.0,171.4 L136.2,171.4 L137.7,168.3 L139.5,162.6 L139.8,160.3 L137.0,159.9 L132.4,161.3 L128.2,160.9 L122.9,159.9 L120.8,157.3 L119.3,154.2 L119.1,152.5 L122.9,151.0 L125.0,150.8 L129.2,150.8 L133.4,148.9 L137.7,148.9 L141.9,150.6 L147.1,151.0 L151.3,150.0 L151.5,147.9 L147.1,144.5 L142.9,143.3 L145.0,138.8 L137.7,142.2 L134.5,143.7 L132.4,141.8 L134.5,140.5 L129.2,139.3 L128.2,140.5 L126.3,142.2 L124.2,144.7 L122.3,147.7 L122.9,150.6 L118.7,151.2 L113.5,152.5 L111.8,154.2 L112.8,157.3 L112.4,160.5 L109.5,159.7 L108.2,156.3 L104.8,152.5 L104.8,149.4 L100.8,146.8 L96.0,144.3 L94.5,142.2 L92.6,141.2 L89.9,142.0 L90.3,144.3 L93.7,147.9 L99.6,150.6 L102.9,152.9 L99.8,152.1 L98.7,155.2 L97.0,157.3 L97.7,156.3 L96.8,153.1 L93.5,151.5 L90.3,150.0 L87.1,147.9 L85.5,144.9 L81.9,143.9 L78.7,145.6 L73.5,145.8 L70.5,146.6 L70.7,149.1 L65.1,152.1 L64.4,154.2 L62.9,156.7 L59.8,159.9 L54.7,160.1 L52.2,161.6 L50.7,160.3 L45.5,159.4 L44.0,155.9 L45.5,151.0 L44.4,146.8 L47.2,145.4 L55.6,146.0 L60.8,145.8 L61.3,141.6 L58.7,137.8 L54.1,135.5 L60.0,134.8 L61.3,133.0 L64.0,133.2 L67.4,131.7 L69.3,129.8 L72.4,129.0 L74.5,126.0 L78.7,125.0 L82.1,123.7 L81.3,120.5 L82.1,117.4 L86.1,116.1 L86.1,119.5 L85.0,122.6 L89.3,123.3 L94.5,123.9 L102.9,122.2 L105.0,122.6 L108.2,120.5 L108.2,118.4 L109.2,116.3 L115.1,117.0 L113.5,114.2 L114.5,112.6 L122.9,112.1 L127.1,111.1 L122.9,110.0 L116.6,110.5 L111.3,110.7 L109.2,109.0 L109.2,105.8 L116.6,101.6 L117.2,99.9 L110.3,98.9 L108.2,101.6 L100.8,104.8 L100.8,109.0 L103.8,110.0 L101.9,114.2 L98.7,117.4 L97.7,119.3 L93.9,120.8 L90.7,119.1 L89.3,115.3 L87.6,113.6 L86.1,112.8 L81.9,114.9 L78.7,115.3 L75.6,113.6 L74.5,111.1 L74.5,106.9 L80.8,104.8 L86.1,102.7 L90.3,99.5 L91.4,96.4 L95.6,93.2 L101.9,91.1 L110.3,89.4 L118.7,88.0 L127.1,90.5 L133.4,91.1 L139.8,97.4 L148.2,101.2 L150.3,97.8 L157.2,98.7 L155.5,97.4 L158.7,93.6 L169.2,94.7 L176.6,93.8 L179.7,93.4 L190.3,92.6 L203.9,92.2 L207.1,89.0 L205.0,86.9 L209.2,83.7 L217.2,84.2 L215.5,88.0 L218.7,93.2 L221.8,92.2 L218.7,86.9 L221.8,84.2 L228.1,85.0 L233.4,85.2 L236.6,82.7 L247.1,80.6 L253.4,78.5 L263.9,77.4 L274.4,76.4 L283.5,73.9 L289.2,76.4 L299.7,77.4 L301.8,82.3 L306.0,82.3 L316.5,83.7 L327.1,82.7 L333.4,84.8 L337.6,88.0 L348.1,86.7 L358.6,84.8 L369.1,85.2 L379.7,86.9 L390.2,88.0 L400.7,88.4 L411.2,90.9 L421.8,90.1 L432.3,90.5 L442.8,92.4 L453.3,96.4 L462.4,97.4 L462.8,99.9 L456.5,101.6 L450.2,99.5 L442.8,100.6 L437.5,105.8 L427.0,109.0 L421.8,111.1 L412.3,110.9 L408.1,111.5 L404.9,114.2 L407.7,115.7 L404.9,120.5 L400.7,123.7 L397.1,126.2 L393.8,130.0 L392.3,122.6 L393.8,115.7 L400.7,109.0 L393.8,107.7 L390.2,112.6 L384.9,113.2 L379.7,111.9 L373.4,112.6 L366.0,112.6 L360.7,114.2 L354.4,118.4 L348.5,122.2 L352.7,123.7 L358.2,123.3 L361.6,125.2 L359.7,130.0 L359.0,135.3 L353.4,141.6 L349.2,145.1 L343.9,147.3 L339.1,148.3 L336.9,151.0 L332.3,153.6 L334.4,156.3 L336.5,160.5 L336.1,163.0 L332.3,164.3 L329.8,163.7 L330.2,159.4 L327.7,158.0 L327.5,154.2 L323.9,153.6 L319.1,155.2 L321.4,152.1 L319.7,151.5 L314.4,154.2 L311.9,154.6 L312.3,156.3 L314.4,159.0 L318.6,158.0 L321.8,159.4 L317.6,161.1 L314.8,164.7 L318.2,168.9 L320.5,172.5 L317.6,178.4 L315.5,182.6 L313.4,185.7 L309.2,189.1 L304.3,190.4 L299.7,191.4 L296.5,194.6 L295.9,193.1 L291.3,191.8 L288.3,194.4 L286.4,197.3 L288.1,199.8 L291.9,203.6 L293.8,208.9 L293.0,213.1 L287.1,217.5 L284.5,219.2 L280.8,214.1 L279.3,211.6 L276.5,210.8 L275.5,208.9 L273.4,211.0 L272.8,215.2 L274.9,219.4 L277.6,222.7 L280.8,225.5 L281.6,228.8 L283.3,234.1 L281.6,234.5 L277.2,231.2 L275.5,228.8 L275.1,224.6 L270.9,220.4 L271.3,216.2 L271.3,212.0 L269.8,207.8 L269.4,202.6 L265.0,204.0 L262.9,203.6 L262.4,198.1 L258.2,194.1 L257.2,190.4 L253.4,191.0 L250.2,191.6 L247.1,192.0 L246.0,195.2 L240.8,198.8 L237.2,202.3 L233.0,204.7 L232.1,212.0 L231.9,215.6 L228.6,218.5 L227.1,220.2 L225.0,218.5 L223.5,214.1 L220.8,209.9 L218.7,203.6 L217.2,197.3 L217.0,192.0 L211.3,189.1 L208.2,188.3 L206.1,186.8 L203.9,183.8 L193.4,184.3 L185.0,183.2 L182.9,180.3 L177.6,181.3 L172.4,178.6 L170.3,175.8 L168.2,174.2 L165.0,174.2 L166.1,177.3 L169.2,181.5 L170.9,185.1 L172.4,183.6 L173.4,186.8 L177.6,186.4 L180.8,183.6 L182.5,181.9 L182.7,184.9 L187.1,187.6 L189.8,189.9 L187.7,194.1 L184.0,197.5 L179.7,200.5 L173.4,202.6 L169.2,205.7 L165.0,207.8 L158.7,209.9 L155.5,210.5 L154.5,208.9 L153.4,202.6 L149.2,197.3 L146.3,192.0 L144.0,186.8 L140.8,182.6 L137.7,178.4 L137.4,175.2 L136.2,171.4 M889.6,171.4 L893.8,171.4 L895.3,168.3 L897.1,162.6 L897.4,160.3 L894.6,159.9 L890.0,161.3 L885.8,160.9 L880.5,159.9 L878.4,157.3 L876.9,154.2 L876.7,152.5 L880.5,151.0 L882.6,150.8 L886.8,150.8 L891.0,148.9 L895.3,148.9 L899.5,150.6 L904.7,151.0 L908.9,150.0 L909.1,147.9 L904.7,144.5 L900.5,143.3 L902.6,138.8 L895.3,142.2 L892.1,143.7 L890.0,141.8 L892.1,140.5 L886.8,139.3 L885.8,140.5 L883.9,142.2 L881.8,144.7 L879.9,147.7 L880.5,150.6 L876.3,151.2 L871.1,152.5 L869.4,154.2 L870.4,157.3 L870.0,160.5 L867.1,159.7 L865.8,156.3 L862.4,152.5 L862.4,149.4 L858.4,146.8 L853.6,144.3 L852.1,142.2 L850.2,141.2 L847.5,142.0 L847.9,144.3 L851.3,147.9 L857.2,150.6 L860.5,152.9 L857.4,152.1 L856.3,155.2 L854.6,157.3 L855.3,156.3 L854.4,153.1 L851.1,151.5 L847.9,150.0 L844.7,147.9 L843.1,144.9 L839.5,143.9 L836.3,145.6 L831.1,145.8 L828.1,146.6 L828.3,149.1 L822.7,152.1 L822.0,154.2 L820.5,156.7 L817.4,159.9 L812.3,160.1 L809.8,161.6 L808.3,160.3 L803.1,159.4 L801.6,155.9 L803.1,151.0 L802.0,146.8 L804.8,145.4 L813.2,146.0 L818.4,145.8 L818.9,141.6 L816.3,137.8 L811.7,135.5 L817.6,134.8 L818.9,133.0 L821.6,133.2 L825.0,131.7 L826.9,129.8 L830.0,129.0 L832.1,126.0 L836.3,125.0 L839.7,123.7 L838.9,120.5 L839.7,117.4 L843.7,116.1 L843.7,119.5 L842.6,122.6 L846.9,123.3 L852.1,123.9 L860.5,122.2 L862.6,122.6 L865.8,120.5 L865.8,118.4 L866.8,116.3 L872.7,117.0 L871.1,114.2 L872.1,112.6 L880.5,112.1 L884.7,111.1 L880.5,110.0 L874.2,110.5 L869.0,110.7 L866.8,109.0 L866.8,105.8 L874.2,101.6 L874.8,99.9 L867.9,98.9 L865.8,101.6 L858.4,104.8 L858.4,109.0 L861.4,110.0 L859.5,114.2 L856.3,117.4 L855.3,119.3 L851.5,120.8 L848.3,119.1 L846.9,115.3 L845.2,113.6 L843.7,112.8 L839.5,114.9 L836.3,115.3 L833.2,113.6 L832.1,111.1 L832.1,106.9 L838.4,104.8 L843.7,102.7 L847.9,99.5 L849.0,96.4 L853.2,93.2 L859.5,91.1 L867.9,89.4 L876.3,88.0 L884.7,90.5 L891.0,91.1 L897.4,97.4 L905.8,101.2 L907.9,97.8 L914.8,98.7 L913.1,97.4 L916.3,93.6 L926.8,94.7 L934.2,93.8 L937.3,93.4 L947.9,92.6 L961.5,92.2 L964.7,89.0 L962.6,86.9 L966.8,83.7 L974.8,84.2 L973.1,88.0 L976.3,93.2 L979.4,92.2 L976.3,86.9 L979.4,84.2 L985.7,85.0 L991.0,85.2 L994.2,82.7 L1004.7,80.6 L1011.0,78.5 L1021.5,77.4 L1032.0,76.4 L1041.1,73.9 L1046.8,76.4 L1057.3,77.4 L1059.4,82.3 L1063.6,82.3 L1074.1,83.7 L1084.7,82.7 L1091.0,84.8 L1095.2,88.0 L1105.7,86.7 L1116.2,84.8 L1126.7,85.2 L1137.3,86.9 L1147.8,88.0 L1158.3,88.4 L1168.8,90.9 L1179.4,90.1 L1189.9,90.5 L1200.4,92.4 L1210.9,96.4 L1220.0,97.4 L1220.4,99.9 L1214.1,101.6 L1207.8,99.5 L1200.4,100.6 L1195.1,105.8 L1184.6,109.0 L1179.4,111.1 L1169.9,110.9 L1165.7,111.5 L1162.5,114.2 L1165.3,115.7 L1162.5,120.5 L1158.3,123.7 L1154.7,126.2 L1151.4,130.0 L1149.9,122.6 L1151.4,115.7 L1158.3,109.0 L1151.4,107.7 L1147.8,112.6 L1142.5,113.2 L1137.3,111.9 L1131.0,112.6 L1123.6,112.6 L1118.3,114.2 L1112.0,118.4 L1106.1,122.2 L1110.3,123.7 L1115.8,123.3 L1119.2,125.2 L1117.3,130.0 L1116.6,135.3 L1111.0,141.6 L1106.8,145.1 L1101.5,147.3 L1096.7,148.3 L1094.5,151.0 L1089.9,153.6 L1092.0,156.3 L1094.1,160.5 L1093.7,163.0 L1089.9,164.3 L1087.4,163.7 L1087.8,159.4 L1085.3,158.0 L1085.1,154.2 L1081.5,153.6 L1076.7,155.2 L1079.0,152.1 L1077.3,151.5 L1072.0,154.2 L1069.5,154.6 L1069.9,156.3 L1072.0,159.0 L1076.2,158.0 L1079.4,159.4 L1075.2,161.1 L1072.4,164.7 L1075.8,168.9 L1078.1,172.5 L1075.2,178.4 L1073.1,182.6 L1071.0,185.7 L1066.8,189.1 L1061.9,190.4 L1057.3,191.4 L1054.1,194.6 L1053.5,193.1 L1048.9,191.8 L1045.9,194.4 L1044.0,197.3 L1045.7,199.8 L1049.5,203.6 L1051.4,208.9 L1050.6,213.1 L1044.7,217.5 L1042.1,219.2 L1038.4,214.1 L1036.9,211.6 L1034.1,210.8 L1033.1,208.9 L1031.0,211.0 L1030.4,215.2 L1032.5,219.4 L1035.2,222.7 L1038.4,225.5 L1039.2,228.8 L1040.9,234.1 L1039.2,234.5 L1034.8,231.2 L1033.1,228.8 L1032.7,224.6 L1028.5,220.4 L1028.9,216.2 L1028.9,212.0 L1027.4,207.8 L1027.0,202.6 L1022.6,204.0 L1020.5,203.6 L1020.0,198.1 L1015.8,194.1 L1014.8,190.4 L1011.0,191.0 L1007.8,191.6 L1004.7,192.0 L1003.6,195.2 L998.4,198.8 L994.8,202.3 L990.6,204.7 L989.7,212.0 L989.5,215.6 L986.2,218.5 L984.7,220.2 L982.6,218.5 L981.1,214.1 L978.4,209.9 L976.3,203.6 L974.8,197.3 L974.6,192.0 L968.9,189.1 L965.8,188.3 L963.6,186.8 L961.5,183.8 L951.0,184.3 L942.6,183.2 L940.5,180.3 L935.2,181.3 L930.0,178.6 L927.9,175.8 L925.8,174.2 L922.6,174.2 L923.7,177.3 L926.8,181.5 L928.5,185.1 L930.0,183.6 L931.0,186.8 L935.2,186.4 L938.4,183.6 L940.1,181.9 L940.3,184.9 L944.7,187.6 L947.4,189.9 L945.3,194.1 L941.6,197.5 L937.3,200.5 L931.0,202.6 L926.8,205.7 L922.6,207.8 L916.3,209.9 L913.1,210.5 L912.1,208.9 L911.0,202.6 L906.8,197.3 L903.9,192.0 L901.6,186.8 L898.4,182.6 L895.3,178.4 L895.0,175.2 L893.8,171.4 M164.0,141.6 L168.2,139.7 L172.4,138.4 L175.5,138.8 L176.0,142.2 L172.0,143.7 L175.1,148.9 L177.6,151.5 L175.5,154.2 L177.4,158.8 L171.3,159.9 L167.1,158.2 L168.2,152.5 L166.1,149.4 L164.0,146.8 L164.0,141.6 M339.5,165.8 L340.7,164.7 L343.9,162.6 L349.2,162.4 L350.2,160.5 L352.3,159.4 L355.5,158.2 L358.6,154.2 L358.6,151.7 L361.6,150.2 L362.4,153.1 L360.7,156.7 L360.5,159.7 L359.9,163.2 L358.2,163.7 L355.9,164.5 L352.3,164.5 L349.2,166.8 L347.0,165.3 L343.9,165.1 L341.8,166.2 L339.5,165.8 M337.6,166.8 L340.7,166.6 L341.4,170.0 L339.7,172.1 L338.0,171.4 L337.2,168.5 L337.6,166.8 M358.6,150.0 L360.7,149.4 L365.6,148.9 L370.2,146.2 L369.1,144.3 L362.8,141.6 L362.0,142.4 L361.6,145.8 L359.5,146.2 L358.6,147.9 L358.6,150.0 M362.8,140.5 L366.0,139.5 L364.9,134.2 L368.1,134.2 L364.9,129.0 L364.9,123.1 L363.9,124.8 L362.8,130.0 L362.8,136.3 L362.8,140.5 M316.7,188.9 L318.4,191.0 L320.5,185.7 L319.7,184.0 L317.8,185.7 L316.7,188.9 M292.8,196.9 L294.4,199.0 L296.5,197.7 L297.6,195.6 L295.9,195.0 L292.8,196.9 M317.8,198.3 L321.4,198.8 L320.7,202.6 L319.7,204.7 L320.7,207.8 L325.0,209.9 L320.7,208.9 L317.6,207.4 L316.5,203.6 L317.8,198.3 M320.7,222.5 L325.0,220.4 L328.1,217.3 L330.2,221.5 L329.2,224.2 L325.0,224.6 L320.7,222.5 M293.4,234.1 L294.6,239.4 L295.9,243.3 L299.7,244.4 L305.0,245.2 L308.1,244.6 L309.2,240.4 L311.3,236.2 L314.0,235.1 L311.9,233.0 L313.4,226.7 L314.8,225.9 L311.3,222.7 L308.1,224.6 L306.0,227.2 L302.9,229.3 L298.6,232.0 L295.5,233.7 L293.4,234.1 M264.6,225.5 L269.2,226.3 L274.4,232.0 L281.8,238.9 L283.9,242.5 L287.1,244.0 L287.1,249.4 L284.1,249.7 L279.3,245.7 L275.5,240.4 L271.7,233.7 L267.1,229.5 L264.6,225.5 M285.4,251.5 L287.1,249.7 L291.9,250.5 L296.3,251.8 L301.0,251.8 L304.7,253.4 L305.0,255.5 L297.6,254.5 L291.3,253.7 L287.9,252.8 L285.4,251.5 M315.5,248.8 L317.2,248.8 L317.6,243.6 L321.8,247.3 L322.8,245.7 L319.7,241.0 L322.8,239.4 L318.6,239.4 L317.8,236.0 L318.6,234.9 L326.0,234.1 L327.1,233.9 L325.0,236.4 L317.0,236.6 L316.1,237.7 L315.5,243.6 L315.5,248.8 M339.7,239.4 L342.8,238.1 L346.0,239.1 L348.1,244.2 L353.4,240.4 L360.7,242.7 L369.1,246.7 L371.2,248.8 L374.4,249.9 L375.0,254.1 L379.0,258.9 L374.4,258.7 L369.1,254.1 L364.9,256.6 L360.7,256.4 L356.5,254.3 L354.4,254.9 L354.0,248.8 L348.1,246.5 L343.9,245.7 L341.8,243.1 L339.7,239.4 M231.9,222.7 L232.4,216.6 L235.1,219.4 L236.1,222.5 L234.5,224.6 L232.4,224.6 L231.9,222.7 M304.3,283.1 L309.6,280.6 L314.4,279.3 L318.6,278.3 L321.4,273.4 L323.9,273.0 L327.1,269.4 L330.8,266.3 L333.8,268.8 L336.5,268.6 L338.6,263.5 L342.8,262.5 L343.3,261.4 L348.1,262.9 L351.9,262.9 L350.2,265.6 L349.2,268.8 L352.9,271.5 L357.1,274.0 L360.3,273.8 L362.0,268.8 L362.0,263.7 L363.9,259.7 L366.0,266.7 L369.8,268.8 L370.2,271.9 L371.9,277.2 L377.1,280.4 L380.1,284.6 L382.8,287.7 L386.4,290.9 L387.2,296.5 L386.0,302.4 L384.9,305.6 L382.2,308.7 L379.9,314.0 L379.5,316.1 L374.4,317.2 L371.9,319.3 L368.1,317.6 L364.9,318.8 L359.7,317.2 L357.8,315.5 L357.8,312.3 L354.4,312.1 L355.5,309.6 L353.4,310.8 L354.0,307.1 L350.2,310.4 L348.5,310.0 L346.4,305.8 L340.7,303.5 L333.4,305.0 L328.1,305.8 L325.0,308.3 L316.5,308.7 L312.3,310.8 L308.1,310.6 L306.0,309.4 L307.3,307.3 L307.5,303.7 L306.0,300.3 L305.8,296.1 L302.9,293.0 L303.5,289.8 L302.9,286.7 L304.3,283.1 M368.5,322.8 L376.1,323.3 L376.1,326.0 L373.4,328.7 L369.6,326.0 L368.5,322.8 M427.4,309.8 L431.2,312.9 L433.3,315.1 L439.6,316.5 L437.5,319.9 L435.4,322.4 L432.7,324.5 L431.6,324.1 L432.3,321.4 L429.8,319.7 L431.4,317.2 L430.6,314.0 L427.4,309.8 M427.4,322.4 L430.8,324.9 L428.5,327.7 L424.5,330.8 L422.8,333.8 L419.7,335.2 L414.4,334.0 L415.4,331.9 L418.2,329.8 L423.0,327.7 L426.0,324.5 L427.4,322.4 M468.1,99.3 L472.3,93.6 L478.6,91.1 L483.8,88.8 L491.6,87.3 L501.7,88.4 L510.1,89.4 L520.7,89.8 L524.9,90.9 L533.3,92.2 L539.6,91.1 L548.0,90.1 L553.3,89.6 L560.6,91.1 L569.1,91.5 L579.6,92.6 L590.1,94.3 L598.5,93.2 L609.1,94.7 L617.5,93.2 L623.8,92.2 L632.2,93.2 L640.6,96.4 L644.8,97.4 L639.6,101.6 L636.4,102.3 L631.1,103.7 L626.9,106.9 L623.8,110.0 L622.1,113.2 L625.9,113.8 L631.1,117.0 L637.5,119.9 L642.7,121.2 L648.4,121.2 L648.4,125.8 L654.3,129.0 L655.3,122.6 L660.2,118.4 L658.5,114.2 L657.5,110.0 L658.5,105.8 L668.0,106.9 L674.3,109.0 L675.3,113.2 L680.6,114.7 L685.9,110.5 L689.0,115.3 L692.2,119.5 L695.3,121.6 L701.0,123.7 L703.8,126.9 L700.6,129.0 L695.3,131.7 L684.8,131.7 L680.6,133.6 L675.3,137.4 L673.2,138.4 L676.4,135.9 L685.9,135.3 L684.8,138.4 L686.9,140.5 L693.2,141.6 L688.0,143.7 L682.7,145.1 L680.6,143.0 L674.3,145.1 L673.0,147.7 L674.3,149.4 L671.1,150.4 L665.9,151.9 L665.9,154.2 L662.7,155.2 L661.7,157.3 L661.0,159.4 L662.5,162.6 L660.6,164.3 L656.4,166.2 L652.2,169.3 L650.3,173.1 L652.2,178.4 L653.2,181.5 L652.4,184.3 L650.5,183.6 L648.0,179.4 L647.4,175.8 L644.8,174.2 L640.6,173.3 L635.4,173.3 L633.3,175.2 L631.1,176.1 L628.0,174.8 L623.8,175.0 L620.6,176.9 L616.8,179.4 L616.4,183.0 L616.0,187.8 L616.4,192.0 L618.5,196.2 L621.7,198.1 L623.8,199.0 L628.0,198.1 L630.1,196.9 L631.4,193.1 L635.4,192.0 L638.5,192.0 L637.5,196.2 L636.4,198.3 L635.8,203.6 L640.6,203.8 L644.8,204.7 L646.3,206.8 L645.5,213.1 L646.9,216.2 L650.1,218.3 L654.3,217.1 L658.5,219.4 L661.7,217.7 L662.7,215.2 L665.9,213.7 L670.1,212.0 L670.5,211.4 L674.3,213.1 L677.4,215.2 L682.7,215.0 L686.9,215.2 L691.1,215.0 L693.2,218.3 L696.4,220.4 L700.6,224.6 L708.0,225.1 L712.2,227.4 L714.3,229.9 L716.4,233.5 L717.4,237.2 L720.6,239.4 L726.9,240.4 L733.2,243.1 L739.5,244.6 L743.7,247.6 L747.3,248.8 L748.4,253.0 L746.9,257.2 L742.7,261.4 L739.9,264.6 L739.1,274.0 L737.4,279.3 L734.3,284.6 L730.1,285.6 L726.9,287.1 L720.6,290.9 L719.3,296.1 L716.4,301.4 L711.1,306.6 L708.0,310.4 L702.7,310.4 L698.7,310.0 L701.6,313.6 L700.6,317.2 L691.1,319.3 L690.5,322.6 L684.8,323.5 L686.9,326.6 L684.2,331.9 L679.6,335.0 L682.7,337.8 L677.4,342.4 L676.4,345.5 L677.7,347.4 L677.4,352.5 L674.3,352.9 L670.1,350.8 L664.8,347.6 L663.1,342.4 L664.8,337.1 L662.7,335.0 L665.9,331.9 L666.9,327.7 L666.5,324.5 L666.9,319.3 L667.6,315.7 L670.1,310.8 L671.1,305.6 L671.1,300.3 L672.2,295.1 L673.4,289.8 L673.7,279.3 L673.2,275.7 L670.1,273.0 L663.8,269.8 L661.0,265.6 L658.5,261.4 L655.8,255.1 L653.2,252.0 L650.7,249.9 L652.6,244.6 L651.6,241.5 L653.2,237.2 L654.3,234.1 L656.4,232.0 L658.5,228.8 L658.9,223.6 L657.5,221.5 L656.4,219.4 L653.2,221.9 L652.2,220.4 L649.0,220.0 L645.9,219.4 L641.2,216.2 L641.0,214.1 L637.5,210.1 L633.3,208.9 L629.0,207.8 L625.9,204.7 L622.7,203.2 L618.5,204.2 L614.3,203.0 L609.1,200.5 L603.8,198.8 L599.6,195.2 L600.0,192.0 L598.5,188.9 L594.3,184.7 L591.2,181.5 L588.0,178.8 L584.2,174.2 L580.2,170.6 L580.6,174.2 L583.8,178.4 L585.9,182.6 L590.1,187.8 L590.3,189.1 L585.9,185.1 L581.7,178.8 L579.6,175.2 L576.0,170.4 L575.0,168.5 L572.2,165.8 L567.8,164.5 L565.3,160.5 L563.8,157.8 L561.1,153.6 L560.0,148.9 L560.6,140.5 L559.2,135.5 L562.8,135.3 L558.5,132.1 L553.3,130.0 L552.2,126.9 L548.0,123.1 L543.8,119.5 L538.6,115.3 L534.3,114.7 L528.0,111.5 L520.7,111.1 L514.4,109.6 L510.1,111.1 L505.9,108.6 L502.8,112.1 L497.5,115.3 L492.3,118.4 L487.0,121.2 L480.7,121.6 L475.4,122.6 L480.7,119.9 L488.0,116.3 L491.2,113.6 L484.9,113.8 L480.7,111.1 L474.4,109.0 L475.4,104.8 L482.8,102.0 L474.4,101.6 L468.1,99.3 M668.0,72.6 L674.3,76.4 L682.7,77.4 L693.2,77.4 L699.5,79.5 L703.8,83.7 L705.9,89.0 L713.2,92.2 L709.0,96.4 L713.2,102.7 L717.4,106.9 L729.0,111.1 L733.2,107.9 L737.4,101.6 L745.8,99.5 L754.3,94.3 L769.0,91.1 L775.3,89.0 L775.3,83.7 L781.6,79.5 L781.6,75.3 L785.8,69.0 L796.3,65.9 L779.5,63.8 L754.3,61.7 L726.9,63.1 L695.3,64.8 L684.8,66.9 L668.0,72.6 M775.3,102.7 L771.1,99.5 L775.3,97.6 L783.7,98.0 L791.1,98.5 L793.0,100.6 L790.0,102.0 L783.7,103.9 L775.3,102.7 M52.0,132.1 L57.7,130.8 L66.9,129.6 L67.6,126.4 L64.0,124.8 L60.8,121.6 L59.8,119.5 L60.2,116.3 L57.7,114.0 L53.5,114.0 L51.0,117.4 L52.4,121.0 L53.9,122.0 L57.7,123.7 L54.5,125.0 L55.2,126.9 L52.8,128.3 L57.7,129.2 L52.0,132.1 M809.6,132.1 L815.3,130.8 L824.5,129.6 L825.2,126.4 L821.6,124.8 L818.4,121.6 L817.4,119.5 L817.8,116.3 L815.3,114.0 L811.1,114.0 L808.6,117.4 L810.0,121.0 L811.5,122.0 L815.3,123.7 L812.1,125.0 L812.8,126.9 L810.4,128.3 L815.3,129.2 L809.6,132.1 M809.0,127.9 L809.0,124.8 L809.6,122.4 L805.8,121.0 L803.7,122.6 L800.6,124.8 L799.9,127.9 L801.6,129.0 L804.8,128.5 L809.0,127.9 M642.7,191.4 L649.0,188.7 L653.2,188.9 L658.5,191.6 L665.5,194.8 L658.5,195.6 L657.5,193.7 L651.1,191.6 L644.8,191.2 L642.7,191.4 M664.8,198.6 L668.4,195.4 L674.3,195.8 L677.7,198.1 L674.3,199.0 L671.1,200.2 L668.0,199.4 L664.8,198.6 M87.1,72.2 L97.7,69.0 L110.3,68.4 L120.8,69.0 L108.2,71.8 L101.9,76.2 L93.5,74.7 L87.1,72.2 M173.4,86.9 L179.7,82.7 L186.1,78.5 L194.5,76.8 L207.1,75.5 L196.6,79.5 L186.1,83.7 L181.8,88.0 L173.4,86.9 M653.2,82.7 L659.6,84.8 L670.1,88.0 L678.5,90.1 L682.7,94.3 L691.1,97.4 L686.9,100.6 L684.8,104.8 L678.5,105.8 L670.1,102.7 L663.8,101.6 L657.5,100.6 L665.9,95.3 L659.6,91.1 L649.0,90.1 L640.6,90.1 L636.4,85.8 L642.7,82.7 L653.2,82.7 M573.3,88.0 L583.8,84.2 L600.6,84.2 L609.1,90.1 L600.6,92.6 L585.9,93.2 L573.3,91.7 L573.3,88.0 M653.2,76.4 L661.7,71.1 L684.8,65.9 L674.3,63.1 L642.7,63.8 L628.0,66.9 L632.2,74.3 L653.2,76.4 M558.5,86.3 L569.1,81.2 L575.4,83.7 L569.1,86.9 L558.5,86.3 M653.2,80.6 L632.2,80.6 L628.0,77.4 L644.8,76.2 L653.2,78.5 L653.2,80.6 M-693.6,384.4 L-672.6,384.4 L-651.5,384.4 L-630.5,383.4 L-609.4,381.3 L-588.4,378.1 L-577.9,376.0 L-567.3,379.2 L-546.3,380.2 L-546.3,384.4 L-535.8,383.4 L-525.2,379.2 L-504.2,377.1 L-483.2,376.0 L-462.1,376.7 L-441.1,378.1 L-420.0,376.7 L-399.0,377.5 L-377.9,381.3 L-356.9,384.4 L-346.4,386.5 L-335.8,388.7 L-346.4,392.9 L-350.6,399.2 L-346.4,401.3 L-325.3,402.3 L-314.8,401.9 L-293.8,402.3 L-272.7,403.4 L-262.2,401.3 L-251.7,398.1 L-230.6,396.0 L-209.6,393.9 L-188.5,392.4 L-167.5,393.9 L-146.4,391.8 L-125.4,390.8 L-104.4,390.8 L-93.8,386.5 L-83.3,384.4 L-77.0,378.1 L-68.6,372.9 L-56.0,370.4 L-62.3,373.9 L-66.5,378.1 L-66.5,384.4 L-62.3,390.8 L-62.3,395.0 L-41.2,400.2 L-20.2,401.3 L-9.7,399.2 L0.9,397.1 L11.4,392.9 L32.4,390.8 L43.0,387.6 L64.0,384.4 M64.0,384.4 L85.0,384.4 L106.1,384.4 L127.1,383.4 L148.2,381.3 L169.2,378.1 L179.7,376.0 L190.3,379.2 L211.3,380.2 L211.3,384.4 L221.8,383.4 L232.4,379.2 L253.4,377.1 L274.4,376.0 L295.5,376.7 L316.5,378.1 L337.6,376.7 L358.6,377.5 L379.7,381.3 L400.7,384.4 L411.2,386.5 L421.8,388.7 L411.2,392.9 L407.0,399.2 L411.2,401.3 L432.3,402.3 L442.8,401.9 L463.8,402.3 L484.9,403.4 L495.4,401.3 L505.9,398.1 L527.0,396.0 L548.0,393.9 L569.1,392.4 L590.1,393.9 L611.2,391.8 L632.2,390.8 L653.2,390.8 L663.8,386.5 L674.3,384.4 L680.6,378.1 L689.0,372.9 L701.6,370.4 L695.3,373.9 L691.1,378.1 L691.1,384.4 L695.3,390.8 L695.3,395.0 L716.4,400.2 L737.4,401.3 L747.9,399.2 L758.5,397.1 L769.0,392.9 L790.0,390.8 L800.6,387.6 L821.6,384.4 M821.6,384.4 L842.6,384.4 L863.7,384.4 L884.7,383.4 L905.8,381.3 L926.8,378.1 L937.3,376.0 L947.9,379.2 L968.9,380.2 L968.9,384.4 L979.4,383.4 L990.0,379.2 L1011.0,377.1 L1032.0,376.0 L1053.1,376.7 L1074.1,378.1 L1095.2,376.7 L1116.2,377.5 L1137.3,381.3 L1158.3,384.4 L1168.8,386.5 L1179.4,388.7 L1168.8,392.9 L1164.6,399.2 L1168.8,401.3 L1189.9,402.3 L1200.4,401.9 L1221.4,402.3 L1242.5,403.4 L1253.0,401.3 L1263.5,398.1 L1284.6,396.0 L1305.6,393.9 L1326.7,392.4 L1347.7,393.9 L1368.8,391.8 L1389.8,390.8 L1410.8,390.8 L1421.4,386.5 L1431.9,384.4 L1438.2,378.1 L1446.6,372.9 L1459.2,370.4 L1452.9,373.9 L1448.7,378.1 L1448.7,384.4 L1452.9,390.8 L1452.9,395.0 L1474.0,400.2 L1495.0,401.3 L1505.5,399.2 L1516.1,397.1 L1526.6,392.9 L1547.6,390.8 L1558.2,387.6 L1579.2,384.4 M627.8,139.1 L633.3,136.3 L636.4,134.6 L640.6,134.8 L643.6,136.7 L643.6,139.5 L639.4,139.7 L635.4,137.8 L631.1,139.3 L627.8,139.1 M636.8,148.9 L636.8,144.7 L638.5,141.6 L642.7,140.5 L642.7,142.6 L640.0,145.8 L639.6,148.9 L636.8,148.9 M643.4,140.7 L648.0,140.7 L652.2,141.6 L653.2,143.7 L649.7,146.8 L648.0,146.8 L648.0,144.7 L645.9,144.7 L644.8,141.6 L643.4,140.7 M645.9,149.6 L651.1,148.3 L655.3,147.0 L655.3,147.9 L650.1,150.0 L645.9,149.6 M653.7,146.2 L660.6,146.2 L661.2,144.3 L655.3,145.4 L653.7,146.2 M130.7,239.4 L131.3,236.6 L134.5,236.6 L135.8,238.3 L134.5,242.5 L131.3,242.7 L130.7,239.4 M125.4,244.2 L126.1,249.9 L128.2,255.1 L129.4,254.5 L127.1,248.8 L125.9,244.2 M135.6,257.2 L136.6,262.5 L138.1,267.3 L137.2,262.5 L136.2,257.2 M186.7,139.5 L193.4,139.5 L192.4,144.1 L188.2,144.7 L186.7,141.6 L186.7,139.5 M282.9,128.5 L287.1,126.9 L292.3,123.7 L295.1,120.1 L293.4,120.5 L289.2,124.8 L282.9,127.9 L282.9,128.5 M640.6,102.7 L644.8,98.9 L651.1,101.6 L646.9,103.3 L640.6,102.7 M609.1,82.7 L617.5,82.1 L617.5,85.8 L611.2,86.9 L609.1,82.7 M620.6,82.1 L630.1,81.6 L632.2,84.2 L623.8,85.8 L620.6,82.1 M579.6,78.5 L598.5,77.0 L600.6,79.5 L590.1,80.4 L579.6,78.5 M609.1,76.8 L615.4,76.4 L617.5,78.5 L611.2,79.1 L609.1,76.8 M621.7,71.1 L630.1,66.9 L640.6,68.0 L634.3,72.2 L621.7,71.1 M564.9,76.4 L575.4,74.3 L575.4,77.4 L564.9,76.4 M263.9,71.1 L274.4,68.0 L282.9,70.1 L274.4,73.2 L263.9,71.1 M158.7,68.0 L179.7,66.9 L194.5,68.0 L179.7,69.4 L158.7,68.0 M352.3,79.5 L364.9,77.4 L379.7,78.9 L369.1,81.6 L352.3,79.5 M438.6,87.5 L449.1,86.9 L447.0,88.4 L440.7,88.4 L438.6,87.5 M90.1,157.3 L96.8,156.7 L95.8,160.1 L90.1,158.2 L90.1,157.3 M81.7,151.0 L84.6,151.0 L84.2,155.2 L81.9,155.2 L81.7,151.0 M82.1,147.0 L83.8,146.8 L84.0,150.2 L82.5,149.8 L82.1,147.0 M113.5,163.0 L119.3,163.2 L115.6,163.9 L113.5,163.0 M132.0,163.7 L136.6,162.4 L135.1,164.3 L132.4,164.3 L132.0,163.7 M696.8,137.2 L703.8,129.0 L704.8,133.2 L710.1,137.4 L710.1,139.1 L704.8,138.4 L696.8,137.2 M551.6,130.4 L558.5,132.1 L562.1,135.5 L558.5,134.6 L551.6,130.4 M692.6,345.1 L699.5,345.1 L699.5,347.0 L693.2,346.6 L692.6,345.1 M325.0,256.6 L331.7,254.9 L327.1,258.3 L323.9,258.9 L325.0,256.6 M306.0,254.7 L316.5,254.9 L322.4,254.5 L316.5,256.0 L308.1,255.8 L306.0,254.7 M332.9,234.1 L334.4,236.2 L333.4,238.9 L332.3,236.2 L332.9,234.1 M333.4,243.6 L339.7,244.0 L338.6,245.2 L333.4,244.6 L333.4,243.6 M376.1,248.8 L382.8,246.1 L384.5,246.7 L380.7,249.9 L376.1,249.9 L376.1,248.8 M391.2,250.9 L394.4,253.0 L399.7,255.1 L402.8,257.2 L400.7,258.3 L396.5,256.2 L391.2,251.5 M409.1,279.7 L413.3,281.8 L415.4,284.1 L411.2,282.5 L409.1,279.7 M437.1,274.0 L439.6,273.6 L439.2,275.5 L437.1,275.1 L437.1,274.0 M493.3,195.6 L495.4,194.8 L495.8,196.2 L494.1,197.5 L493.3,195.6 M472.3,123.9 L468.1,125.2 M463.8,126.4 L459.6,127.3 M455.4,127.9 L451.2,128.3 M447.0,128.3 L442.8,128.3 M438.6,128.3 L434.4,127.7 M430.2,126.6 L426.0,125.8 M657.5,198.3 L661.2,199.4 L659.6,199.8 L657.5,198.3 M680.2,198.3 L683.5,198.6 L682.7,199.4 L680.2,199.4" fill="none" stroke="#2a2a2a" stroke-width="0.7" stroke-linejoin="round"/>
</g>
<clipPath id="cb"><rect x="64.0" y="514.0" width="757.60" height="378.40"/></clipPath>
<g clip-path="url(#cb)">
<rect x="64.0" y="514.0" width="757.60" height="378.40" fill="#f3e4bc"/>
<path d="M55.0,505.0 L830.0,505.0 L826.2,595.0 L811.3,597.5 L798.8,599.9 L786.4,602.4 L773.9,603.7 L761.5,603.2 L749.0,602.4 L736.6,601.2 L724.1,598.7 L711.6,595.0 L699.2,590.0 L686.7,585.0 L674.3,581.3 L661.8,578.8 L644.4,577.5 L631.9,576.3 L626.9,572.5 L633.5,566.3 L643.4,558.8 L653.4,548.9 L658.4,542.6 L663.4,537.7 L673.3,532.7 L683.3,527.7 L688.3,520.2 L678.3,515.7 L633.5,515.2 L583.6,516.0 L533.8,516.5 L484.0,517.7 L473.3,518.5 L448.4,520.2 L423.5,523.5 L398.6,526.0 L391.1,528.9 L386.1,532.7 L373.6,533.4 L348.7,533.9 L323.8,535.2 L298.9,536.4 L274.0,538.4 L263.3,540.9 L250.8,543.4 L238.4,545.1 L225.9,546.4 L213.5,548.9 L201.0,551.4 L188.6,553.9 L176.1,556.3 L163.6,560.1 L151.2,563.3 L138.7,566.3 L126.3,570.0 L113.8,573.8 L101.4,578.8 L88.9,583.8 L76.5,588.7 L64.0,595.0 L59.0,595.0 Z" fill="#2e8b57" stroke="#111" stroke-width="0.8"/>
<path d="M719.1,533.9 L726.6,525.2 L741.5,522.7 L756.5,524.0 L771.4,527.7 L775.2,536.4 L771.4,546.4 L761.5,551.4 L746.5,552.6 L731.6,551.4 L721.6,545.1 Z" fill="#f3e4bc" stroke="#111" stroke-width="0.8"/>
<path d="M740.3,537.7 L746.5,534.4 L754.0,533.9 L756.5,537.7 L752.7,541.4 L745.3,542.6 Z" fill="#deb887" stroke="#111" stroke-width="0.8"/>
<path d="M541.3,545.1 L547.5,545.9 L548.8,550.9 L543.8,551.4 Z" fill="#deb887" stroke="#111" stroke-width="0.8"/>
<path d="M631.0,536.4 L636.0,535.2 L637.2,538.9 L632.2,540.2 Z" fill="#deb887" stroke="#111" stroke-width="0.8"/>
<path d="M59.0,522.7 L64.0,522.7 L78.9,523.5 L93.9,525.2 L101.4,528.9 L103.9,536.4 L105.1,546.4 L102.6,556.3 L96.4,563.8 L88.9,570.0 L78.9,576.3 L71.5,581.3 L64.0,582.5 L59.0,582.5 Z" fill="#9acd32" stroke="#111" stroke-width="0.8"/>
<path d="M65.2,566.3 L69.0,565.1 L70.2,567.6 L66.5,568.8 Z" fill="#20b2aa" stroke="#111" stroke-width="0.8"/>
<path d="M131.3,528.9 L138.7,527.7 L148.7,531.4 L158.7,536.4 L164.9,543.9 L164.9,551.4 L158.7,553.9 L151.2,551.4 L143.7,545.1 L136.2,537.7 Z" fill="#9acd32" stroke="#111" stroke-width="0.8"/>
<path d="M193.5,532.7 L203.5,528.9 L216.0,528.9 L224.7,532.7 L225.9,536.4 L218.4,541.4 L208.5,542.6 L198.5,538.9 Z" fill="#9acd32" stroke="#111" stroke-width="0.8"/>
<path d="M371.2,582.5 L378.6,575.0 L391.1,570.8 L411.0,569.3 L428.4,570.0 L448.4,566.3 L468.3,561.8 L484.0,558.8 L488.7,573.8 L487.7,588.7 L485.7,599.9 L484.0,609.9 L473.3,613.6 L460.8,618.1 L448.4,622.4 L435.9,625.6 L423.5,627.8 L411.0,628.6 L398.6,627.3 L388.6,623.6 L381.1,616.1 L373.6,606.2 L371.2,593.7 Z" fill="#2e8b57" stroke="#111" stroke-width="0.8"/>
<path d="M386.1,555.1 L393.6,553.4 L403.5,555.1 L402.3,561.3 L396.1,563.8 L388.6,561.3 Z" fill="#deb887" stroke="#111" stroke-width="0.8"/>
<path d="M429.7,555.1 L438.4,551.9 L448.4,553.9 L450.9,560.1 L445.9,566.3 L438.4,567.6 L430.9,563.8 Z" fill="#deb887" stroke="#111" stroke-width="0.8"/>
<path d="M378.6,586.2 L383.6,580.0 L393.6,577.5 L411.0,576.3 L428.4,577.5 L443.4,581.3 L453.4,586.2 L457.1,593.7 L453.4,601.2 L443.4,606.2 L428.4,609.9 L413.5,613.6 L403.5,614.9 L393.6,608.7 L386.1,598.7 L381.1,591.2 Z" fill="#9acd32" stroke="#111" stroke-width="0.8"/>
<path d="M388.6,587.5 L398.6,585.0 L418.5,585.0 L433.4,587.5 L439.7,593.7 L433.4,597.5 L418.5,599.9 L406.0,602.4 L398.6,602.4 L393.6,596.2 Z" fill="#20b2aa" stroke="#111" stroke-width="0.8"/>
<path d="M506.4,577.5 L511.4,572.5 L521.4,569.3 L533.8,569.3 L546.3,573.8 L555.0,581.3 L558.7,590.0 L556.2,598.7 L546.3,601.2 L533.8,601.7 L521.4,600.7 L511.4,593.7 L507.7,586.2 Z" fill="#2e8b57" stroke="#111" stroke-width="0.8"/>
<path d="M526.8,586.2 L531.3,585.7 L531.8,588.7 L527.6,589.5 Z" fill="#9acd32" stroke="#111" stroke-width="0.8"/>
<path d="M709.2,566.3 L714.1,561.3 L724.1,558.8 L736.6,561.3 L749.0,561.3 L761.5,557.6 L773.9,551.4 L786.4,543.9 L796.3,538.9 L803.8,537.7 L810.0,541.4 L812.5,553.9 L811.3,568.8 L808.8,581.3 L803.8,588.7 L791.4,593.7 L773.9,596.2 L761.5,597.5 L736.6,595.0 L719.1,588.7 L711.6,581.3 L708.7,573.8 Z" fill="#9acd32" stroke="#111" stroke-width="0.8"/>
<path d="M771.4,583.8 L776.4,578.8 L783.9,571.3 L791.4,562.6 L796.3,553.9 L801.3,550.9 L808.8,551.4 L812.5,557.6 L811.3,571.3 L808.8,581.3 L803.8,585.0 L791.4,586.2 L781.4,587.5 L773.9,587.5 Z" fill="#20b2aa" stroke="#111" stroke-width="0.8"/>
<path d="M59.0,598.7 L64.0,598.7 L76.5,595.0 L88.9,591.7 L101.4,587.5 L113.8,583.8 L126.3,580.8 L138.7,577.5 L151.2,573.8 L163.6,570.0 L176.1,566.3 L188.6,563.8 L201.0,561.3 L213.5,558.8 L225.9,556.3 L238.4,554.4 L250.8,552.6 L263.3,550.1 L274.0,546.9 L274.0,545.1 L298.9,543.4 L323.8,545.1 L348.7,547.6 L373.6,550.1 L376.1,552.6 L369.9,557.6 L364.9,566.3 L363.7,578.8 L364.9,593.7 L367.4,608.7 L372.4,621.1 L381.1,633.6 L393.6,642.3 L406.0,647.3 L412.3,650.5 L403.5,652.3 L391.1,654.7 L373.6,656.5 L348.7,658.5 L323.8,659.7 L298.9,661.0 L286.5,662.2 L274.0,663.5 L274.0,663.0 L263.3,661.0 L250.8,657.2 L238.4,654.7 L225.9,654.7 L213.5,657.2 L201.0,661.0 L188.6,664.7 L176.1,663.5 L163.6,658.5 L151.2,656.0 L138.7,656.0 L126.3,658.5 L113.8,662.2 L101.4,666.0 L88.9,668.4 L78.9,671.4 L72.7,673.4 L69.5,679.7 L69.5,685.9 L59.0,685.9 Z" fill="#deb887" stroke="#111" stroke-width="0.8"/>
<path d="M60.0,596.0 L66.0,598.0 L67.3,610.0 L67.3,684.0 L69.0,690.0 L60.0,690.0 Z" fill="#f3e4bc" stroke="#111" stroke-width="0.8"/>
<path d="M69.0,604.9 L76.5,603.7 L88.9,599.9 L101.4,597.5 L113.8,593.7 L126.3,591.2 L138.7,587.5 L151.2,583.8 L163.6,579.3 L176.1,575.8 L188.6,572.5 L201.0,570.0 L213.5,567.6 L225.9,565.1 L238.4,563.3 L250.8,561.3 L263.3,560.1 L274.0,557.6 L274.0,555.1 L298.9,554.4 L323.8,556.3 L338.8,560.1 L346.2,566.3 L350.0,576.3 L351.2,588.7 L351.2,601.2 L350.0,613.6 L348.7,623.6 L343.8,633.6 L333.8,641.0 L323.8,646.0 L311.4,648.5 L298.9,649.8 L286.5,649.8 L274.0,648.5 L274.0,644.8 L263.3,642.3 L250.8,641.0 L238.4,641.5 L225.9,642.3 L213.5,643.0 L201.0,644.0 L188.6,644.3 L176.1,643.5 L163.6,641.5 L151.2,639.1 L138.7,637.3 L126.3,638.1 L113.8,642.3 L101.4,647.3 L88.9,650.5 L69.0,649.8 Z" fill="#ffe100" stroke="#111" stroke-width="0.8"/>
<path d="M146.2,614.9 L148.7,611.2 L158.7,602.4 L168.6,593.7 L178.6,587.5 L188.6,583.8 L201.0,582.5 L213.5,580.0 L225.9,577.5 L238.4,575.0 L250.8,572.5 L263.3,570.0 L274.0,567.6 L274.0,563.8 L298.9,563.3 L318.8,566.3 L328.8,572.5 L333.8,581.3 L335.0,593.7 L335.0,608.7 L333.8,618.6 L331.3,626.1 L323.8,632.3 L311.4,636.1 L298.9,637.3 L286.5,637.3 L274.0,636.6 L274.0,636.1 L263.3,633.6 L250.8,631.1 L238.4,629.8 L225.9,628.6 L213.5,627.3 L201.0,626.1 L188.6,624.9 L176.1,623.6 L168.6,622.4 L158.7,618.6 L151.2,616.1 Z" fill="#ffa500" stroke="#111" stroke-width="0.8"/>
<path d="M168.6,611.2 L176.1,601.2 L183.6,593.7 L191.0,588.7 L201.0,587.5 L213.5,586.2 L225.9,585.0 L238.4,583.8 L250.8,580.8 L263.3,577.5 L274.0,575.0 L274.0,573.8 L288.9,573.3 L303.9,575.0 L313.9,580.0 L317.6,588.7 L317.6,601.2 L316.3,613.6 L311.4,621.1 L303.9,626.1 L293.9,628.6 L284.0,629.1 L274.0,629.1 L274.0,628.6 L263.3,627.3 L250.8,623.6 L238.4,621.1 L225.9,619.9 L213.5,619.1 L201.0,618.6 L188.6,618.1 L176.1,616.1 L171.1,613.6 Z" fill="#ff4500" stroke="#111" stroke-width="0.8"/>
<path d="M228.4,601.2 L235.9,593.7 L243.4,588.7 L253.3,586.2 L263.3,584.5 L274.0,583.8 L274.0,585.0 L284.0,584.2 L293.9,586.2 L298.9,591.2 L298.9,601.2 L296.4,611.2 L288.9,617.4 L281.5,619.9 L274.0,619.9 L274.0,623.6 L263.3,618.6 L253.3,613.6 L243.4,609.9 L233.4,606.2 Z" fill="#b22222" stroke="#111" stroke-width="0.8"/>
<path d="M257.1,596.2 L263.3,592.5 L274.0,590.0 L274.0,590.0 L279.0,592.5 L282.7,598.7 L281.5,606.2 L276.5,609.9 L274.0,609.9 L274.0,609.9 L268.3,607.4 L260.8,602.4 Z" fill="#ffb6c1" stroke="#111" stroke-width="0.8"/>
<path d="M421.0,653.5 L428.4,646.0 L438.4,638.6 L448.4,631.1 L458.3,623.6 L468.3,617.4 L478.3,612.4 L484.0,609.9 L496.5,607.4 L508.9,608.2 L533.8,611.2 L553.8,613.1 L558.7,611.2 L561.2,603.7 L568.7,596.2 L578.7,588.7 L586.1,584.2 L596.1,586.2 L608.6,591.2 L621.0,595.0 L633.5,597.5 L645.9,598.2 L658.4,599.2 L670.8,599.9 L683.3,601.7 L694.2,599.9 L701.7,607.4 L716.6,609.9 L736.6,608.7 L761.5,606.7 L786.4,604.9 L811.3,602.4 L826.2,601.2 L826.2,668.4 L821.5,668.4 L798.8,669.7 L773.9,670.4 L749.8,671.0 L726.1,673.4 L702.3,672.2 L678.6,673.4 L654.9,676.9 L643.0,678.1 L631.2,676.9 L607.4,673.4 L583.7,668.6 L560.0,666.3 L560.0,666.7 L540.1,671.0 L518.8,673.1 L497.4,669.9 L476.1,665.6 L454.7,660.3 L433.4,657.1 L420.6,656.0 Z" fill="#deb887" stroke="#111" stroke-width="0.8"/>
<path d="M377.9,646.4 L390.7,644.3 L401.4,644.3 L412.0,649.6 L407.8,651.7 L390.7,656.0 L377.9,657.1 Z" fill="#deb887" stroke="#111" stroke-width="0.8"/>
<path d="M484.0,633.6 L496.5,631.1 L508.9,630.6 L521.4,631.1 L533.8,632.3 L543.8,634.8 L545.0,639.8 L538.8,644.8 L521.4,648.5 L508.9,649.8 L496.5,650.5 L484.0,651.0 L484.0,651.0 L478.3,646.0 L479.5,636.1 L484.0,633.6 Z" fill="#ffe100" stroke="#111" stroke-width="0.8"/>
<path d="M568.7,623.6 L573.7,618.6 L581.2,618.1 L586.1,623.6 L588.1,629.8 L581.2,631.1 L571.2,629.8 Z" fill="#ffe100" stroke="#111" stroke-width="0.8"/>
<path d="M606.1,638.6 L611.0,631.1 L623.5,624.9 L638.4,620.6 L653.4,619.1 L663.4,621.1 L668.3,626.1 L667.1,633.6 L662.1,641.0 L655.9,648.5 L645.9,651.0 L633.5,651.8 L621.0,649.8 L611.0,646.0 Z" fill="#ffe100" stroke="#111" stroke-width="0.8"/>
<path d="M709.2,631.1 L711.6,623.6 L719.1,619.9 L736.6,618.1 L751.5,618.6 L766.4,619.9 L781.4,618.6 L796.3,614.9 L811.3,611.2 L817.5,608.7 L820.0,618.6 L818.8,631.1 L813.8,643.5 L806.3,649.8 L796.3,653.5 L786.4,653.5 L773.9,649.8 L761.5,646.0 L749.0,647.3 L736.6,652.3 L724.1,652.3 L714.1,646.0 Z" fill="#ffe100" stroke="#111" stroke-width="0.8"/>
<path d="M782.6,628.1 L785.1,627.3 L786.4,630.6 L783.9,631.6 Z" fill="#ffa500" stroke="#111" stroke-width="0.8"/>
<path d="M223.4,690.9 L238.4,687.1 L253.3,688.4 L263.3,693.4 L274.0,697.1 L286.5,693.4 L298.9,688.4 L311.4,684.6 L323.8,682.1 L380.0,678.4 L401.4,679.5 L422.7,678.4 L444.1,678.0 L454.7,679.5 L465.4,682.7 L480.4,684.8 L486.8,689.1 L493.2,697.7 L499.6,705.1 L503.8,709.4 L502.8,713.7 L493.2,716.9 L482.5,721.1 L471.8,727.5 L461.1,734.0 L450.5,742.5 L439.8,751.0 L431.2,760.0 L418.5,765.0 L406.0,768.3 L393.6,769.3 L381.1,771.3 L371.2,775.0 L366.2,778.7 L366.2,782.5 L369.9,793.7 L378.6,794.9 L388.6,791.9 L398.6,789.5 L408.5,788.0 L418.5,790.0 L431.0,796.2 L443.4,802.4 L454.0,808.0 L468.0,807.0 L484.0,804.0 L497.0,801.0 L514.0,799.5 L533.8,798.6 L558.7,797.4 L583.7,794.4 L596.1,795.4 L608.6,797.9 L621.0,799.9 L633.5,799.4 L645.9,797.9 L658.4,796.2 L670.8,793.7 L683.3,791.9 L694.0,791.2 L699.2,790.7 L711.6,792.4 L736.6,794.9 L761.5,798.7 L786.4,802.4 L796.3,798.7 L803.8,785.0 L811.3,781.2 L815.0,731.4 L821.5,726.4 L826.2,726.4 L826.2,903.3 L50.0,900.0 L59.0,903.3 L59.0,781.2 L64.0,781.2 L69.0,783.7 L76.5,792.4 L88.9,796.2 L101.4,794.9 L113.8,792.4 L126.3,788.7 L138.7,785.0 L151.2,786.2 L163.6,788.7 L176.1,791.2 L188.6,793.7 L201.0,795.7 L213.5,798.7 L225.9,802.4 L238.4,802.4 L250.8,799.9 L263.3,797.4 L274.0,798.7 L286.5,795.7 L298.9,792.4 L311.4,788.2 L323.8,785.0 L341.3,782.7 L351.2,780.7 L353.7,776.2 L348.7,770.8 L338.8,769.3 L323.8,771.3 L311.4,775.0 L306.4,768.8 L303.9,757.6 L301.4,750.1 L288.9,741.4 L274.0,732.6 L263.3,718.9 L253.3,714.0 L238.4,707.7 L223.4,704.0 Z" fill="#2e8b57" stroke="#111" stroke-width="0.8"/>
<path d="M671.8,722.4 L676.8,716.2 L685.5,713.7 L694.2,715.0 L701.7,719.9 L706.7,727.4 L708.7,737.4 L705.4,743.6 L696.7,749.8 L689.2,751.1 L680.5,746.1 L674.3,737.4 L671.8,729.9 Z" fill="#2e8b57" stroke="#111" stroke-width="0.8"/>
<path d="M147.5,718.9 L158.7,720.2 L173.6,723.9 L168.6,728.9 L162.4,736.4 L157.4,738.9 L151.2,731.4 L148.7,725.2 Z" fill="#2e8b57" stroke="#111" stroke-width="0.8"/>
<path d="M93.9,688.4 L101.4,684.6 L108.8,688.4 L110.1,695.9 L103.9,700.8 L96.4,700.8 L93.9,695.9 Z" fill="#2e8b57" stroke="#111" stroke-width="0.8"/>
<path d="M404.6,727.5 L411.0,725.4 L417.4,729.7 L421.6,738.2 L418.4,742.5 L412.0,740.4 L406.7,735.0 Z" fill="#9acd32" stroke="#111" stroke-width="0.8"/>
<path d="M347.5,735.1 L353.7,732.6 L363.7,731.9 L373.6,735.1 L377.4,740.1 L372.4,746.3 L364.9,751.3 L356.2,748.8 L350.0,743.9 Z" fill="#9acd32" stroke="#111" stroke-width="0.8"/>
<path d="M67.7,741.4 L78.9,751.3 L91.4,761.3 L101.4,770.0 L108.8,778.7 L111.3,786.2 L103.9,791.2 L93.9,794.2 L83.9,792.4 L74.0,788.7 L66.5,783.7 L65.2,753.8 Z" fill="#deb887" stroke="#111" stroke-width="0.8"/>
<path d="M67.7,768.8 L71.5,768.3 L75.2,772.5 L72.7,777.5 L67.7,778.2 Z" fill="#ffe100" stroke="#111" stroke-width="0.8"/>
<path d="M171.1,776.2 L178.6,766.3 L188.6,756.3 L201.0,748.8 L213.5,744.6 L225.9,743.4 L238.4,744.4 L250.8,747.6 L263.3,752.6 L274.0,757.6 L274.0,758.8 L281.5,760.0 L287.7,767.5 L290.2,778.7 L287.7,788.7 L281.5,793.7 L274.0,794.9 L274.0,793.7 L263.3,792.4 L250.8,789.9 L238.4,788.7 L225.9,787.5 L213.5,785.0 L201.0,782.5 L188.6,780.0 L178.6,778.2 Z" fill="#deb887" stroke="#111" stroke-width="0.8"/>
<path d="M223.4,771.3 L233.4,766.3 L243.4,764.5 L253.3,766.3 L260.8,771.3 L258.3,776.2 L250.8,780.0 L240.9,781.2 L230.9,778.7 Z" fill="#ffe100" stroke="#111" stroke-width="0.8"/>
<path d="M449.6,771.3 L455.9,766.3 L468.3,765.8 L484.0,765.0 L484.0,766.3 L496.5,765.0 L508.9,765.0 L521.4,765.8 L531.3,763.8 L536.3,753.8 L543.8,738.9 L548.8,732.6 L558.7,728.9 L571.2,728.4 L583.6,729.4 L596.1,730.2 L608.6,729.4 L621.0,730.2 L633.5,733.9 L645.9,741.4 L658.4,753.8 L668.3,763.8 L670.8,771.3 L668.3,778.7 L660.9,783.7 L645.9,787.5 L633.5,790.7 L623.5,792.4 L608.6,789.9 L596.1,786.2 L583.6,783.7 L566.2,780.0 L553.8,776.2 L541.3,771.3 L533.8,773.8 L528.8,781.2 L521.4,788.7 L508.9,792.4 L496.5,793.2 L484.0,791.2 L473.3,788.7 L463.3,796.2 L455.9,799.9 L450.9,791.2 Z" fill="#deb887" stroke="#111" stroke-width="0.8"/>
<path d="M583.6,756.3 L591.1,753.8 L601.1,755.8 L611.0,760.0 L619.8,763.3 L621.0,769.3 L613.5,771.8 L601.1,770.8 L591.1,767.5 L584.9,762.5 Z" fill="#ffe100" stroke="#111" stroke-width="0.8"/>
<path d="M740.3,782.5 L746.5,771.3 L754.0,761.3 L761.5,751.3 L771.4,741.4 L781.4,737.6 L791.4,735.1 L801.3,732.6 L810.0,728.9 L811.3,741.4 L812.5,753.8 L812.5,768.8 L811.3,778.7 L806.3,781.2 L786.4,785.0 L771.4,786.2 L756.5,788.7 L746.5,788.7 L741.5,786.2 Z" fill="#deb887" stroke="#111" stroke-width="0.8"/>
<path d="M59.0,798.7 L64.0,798.7 L76.5,799.9 L88.9,801.2 L101.4,799.9 L113.8,798.2 L126.3,796.7 L138.7,796.2 L151.2,796.7 L163.6,797.4 L176.1,798.7 L188.6,799.9 L201.0,802.4 L213.5,806.1 L225.9,808.6 L238.4,806.1 L250.8,803.6 L263.3,802.4 L274.0,804.9 L286.5,803.6 L298.9,801.9 L311.4,797.9 L323.8,794.9 L336.3,794.9 L348.7,797.9 L361.2,801.1 L373.6,802.9 L386.1,802.4 L398.6,800.6 L411.0,799.4 L423.5,800.4 L435.9,803.6 L448.0,810.0 L460.0,813.0 L473.0,812.0 L484.0,810.0 L497.0,808.0 L514.0,806.7 L533.8,804.9 L558.7,803.6 L583.7,801.1 L596.1,802.9 L608.6,805.4 L621.0,807.4 L633.5,806.9 L645.9,805.6 L658.4,804.4 L670.8,803.6 L683.3,803.1 L694.0,802.9 L711.6,804.9 L736.6,807.4 L761.5,809.9 L786.4,812.4 L796.3,808.6 L806.3,802.4 L811.3,794.9 L816.3,796.2 L826.2,792.4 L826.2,903.3 L50.0,900.0 L59.0,903.3 Z" fill="#9acd32" stroke="#111" stroke-width="0.8"/>
<path d="M59.0,831.0 L69.0,829.8 L71.5,811.1 L76.5,807.4 L88.9,806.6 L101.4,806.1 L113.8,805.6 L138.7,804.9 L163.6,806.1 L188.6,807.4 L201.0,808.6 L213.5,811.6 L225.9,813.6 L238.4,812.4 L250.8,809.9 L263.3,808.6 L274.0,809.4 L298.9,807.4 L311.4,804.9 L323.8,801.9 L336.3,802.4 L348.7,806.1 L361.2,808.6 L373.6,809.4 L386.1,808.6 L398.6,807.4 L411.0,806.1 L423.5,807.4 L435.9,811.1 L448.0,816.0 L460.0,819.0 L473.0,818.0 L484.0,815.0 L497.0,813.8 L514.0,812.3 L533.8,812.4 L558.7,811.1 L583.7,809.4 L596.1,811.1 L608.6,814.1 L621.0,815.3 L633.5,814.8 L658.4,814.1 L683.3,813.6 L694.0,813.6 L711.6,816.1 L736.6,818.6 L761.5,819.8 L786.4,819.8 L798.8,816.1 L806.3,808.6 L811.3,803.6 L815.0,806.1 L817.5,853.5 L826.2,853.5 L826.2,903.3 L50.0,900.0 L59.0,903.3 Z" fill="#20b2aa" stroke="#111" stroke-width="0.8"/>
<path d="M71.5,868.4 L72.7,816.1 L88.9,814.9 L113.8,813.6 L138.7,812.4 L163.6,812.4 L188.6,813.6 L213.5,816.1 L238.4,814.9 L263.3,813.6 L274.0,814.8 L298.9,813.6 L311.4,812.4 L323.8,811.1 L336.3,811.9 L348.7,813.6 L361.2,816.1 L373.6,817.3 L386.1,816.1 L398.6,814.8 L411.0,814.3 L423.5,814.8 L435.9,817.3 L448.0,822.0 L460.0,825.0 L473.0,825.0 L484.0,822.3 L514.0,819.8 L533.8,818.6 L558.7,817.8 L583.7,817.3 L608.6,819.8 L633.5,821.1 L658.4,821.6 L683.3,822.3 L694.0,822.3 L711.6,823.1 L736.6,826.1 L761.5,827.3 L786.4,826.1 L798.8,821.1 L803.8,816.1 L808.8,814.9 L811.3,818.6 L813.8,828.6 L815.0,853.5 L813.8,878.4 L811.3,903.3 L71.5,903.3 Z" fill="#b0e0e6" stroke="#111" stroke-width="0.8"/>
<path d="M72.7,822.3 L88.9,822.3 L113.8,821.1 L138.7,819.8 L163.6,818.6 L188.6,819.8 L213.5,821.1 L238.4,820.6 L263.3,819.8 L274.0,821.1 L298.9,822.3 L323.8,819.8 L348.7,821.1 L373.6,823.6 L398.6,824.8 L423.5,825.3 L448.4,827.8 L473.3,829.8 L484.0,829.8 L508.9,829.8 L533.8,828.6 L558.7,827.3 L583.7,827.3 L608.6,828.6 L636.9,828.6 L661.8,828.6 L686.7,829.8 L711.6,831.0 L736.6,834.8 L751.5,839.8 L757.7,847.2 L756.5,853.5 L751.5,858.4 L746.5,863.4 L741.5,870.9 L736.6,877.1 L724.1,881.4 L711.6,881.4 L699.9,879.9 L676.8,873.9 L643.1,868.9 L570.0,861.6 L565.0,864.9 L560.0,876.5 L556.3,877.8 L534.9,877.1 L511.2,876.4 L499.3,876.4 L483.9,876.4 L484.0,876.6 L473.3,876.6 L448.4,877.3 L423.5,877.8 L398.6,876.8 L386.1,876.1 L373.6,877.3 L348.7,879.8 L323.8,883.6 L298.9,887.3 L274.0,889.8 L273.9,887.9 L268.2,886.9 L267.2,875.6 L268.2,868.0 L271.0,860.4 L269.1,856.6 L266.3,857.5 L262.5,861.9 L254.9,862.6 L245.4,860.4 L235.9,857.5 L226.4,855.1 L216.9,854.7 L198.0,856.2 L179.0,857.5 L160.0,859.4 L164.0,859.5 L147.0,858.9 L135.2,857.7 L123.3,856.5 L111.4,855.3 L99.6,855.9 L87.7,857.1 L74.7,858.3 Z" fill="#789bf2" stroke="#111" stroke-width="0.8"/>
<path d="M797.6,833.5 L801.3,824.8 L807.6,823.6 L811.3,828.6 L812.5,843.5 L811.3,856.0 L807.6,859.7 L803.8,853.5 L798.8,843.5 Z" fill="#789bf2" stroke="#111" stroke-width="0.8"/>
<path d="M77.7,838.5 L81.4,836.0 L88.9,837.3 L93.9,841.0 L91.4,846.0 L83.9,847.2 L78.9,844.7 Z" fill="#3c64e6" stroke="#111" stroke-width="0.8"/>
<path d="M113.8,836.0 L121.3,831.5 L133.8,829.8 L146.2,829.3 L149.9,833.5 L146.2,839.8 L138.7,842.3 L128.8,844.7 L118.8,843.5 L115.1,839.8 Z" fill="#3c64e6" stroke="#111" stroke-width="0.8"/>
<path d="M270.8,838.5 L274.0,837.3 L281.5,838.7 L286.5,844.9 L285.2,854.9 L280.2,858.6 L274.0,857.4 L274.0,852.2 L270.8,848.5 Z" fill="#3c64e6" stroke="#111" stroke-width="0.8"/>
<path d="M331.3,833.7 L338.8,831.2 L356.2,832.0 L371.2,833.7 L373.6,837.5 L369.9,843.7 L358.7,846.9 L346.2,846.2 L336.3,844.9 L332.5,841.2 Z" fill="#3c64e6" stroke="#111" stroke-width="0.8"/>
<path d="M396.1,833.7 L408.5,833.0 L423.5,836.2 L448.4,840.0 L484.0,842.5 L496.5,843.5 L508.9,844.7 L521.4,844.7 L531.3,847.2 L535.1,851.0 L528.8,854.7 L513.9,856.0 L498.9,859.7 L484.0,864.7 L484.0,867.4 L460.8,867.4 L435.9,864.9 L423.5,862.4 L418.5,857.4 L423.5,854.9 L416.0,852.4 L408.5,844.9 Z" fill="#3c64e6" stroke="#111" stroke-width="0.8"/>
<path d="M603.6,841.0 L611.0,839.0 L612.0,838.5 L624.5,836.0 L636.9,834.8 L649.4,836.0 L661.8,839.8 L674.3,843.5 L686.7,843.5 L699.2,842.3 L711.6,843.5 L724.1,847.2 L729.1,853.5 L727.8,860.9 L721.6,857.2 L711.6,854.7 L699.2,854.7 L686.7,856.0 L674.3,856.5 L661.8,854.7 L649.4,851.0 L636.9,848.5 L624.5,851.0 L612.0,853.5 L611.0,852.2 L608.6,851.0 L604.8,846.0 Z" fill="#3c64e6" stroke="#111" stroke-width="0.8"/>
<path d="M426.0,844.9 L433.4,844.4 L440.9,848.7 L444.6,854.9 L440.9,856.2 L433.4,852.4 Z" fill="#0000c8" stroke="#111" stroke-width="0.8"/>
<path d="M389.8,860.4 L396.1,856.2 L402.3,856.9 L403.5,861.9 L399.8,866.1 L393.6,864.9 Z" fill="#b0e0e6" stroke="#111" stroke-width="0.8"/>
<path d="M59.0,868.4 L74.7,869.6 L87.7,866.0 L99.6,864.8 L111.4,864.2 L117.4,864.5 L123.3,867.8 L135.2,873.7 L147.0,878.5 L158.9,880.8 L164.0,881.4 L179.0,883.1 L198.0,883.7 L216.9,884.1 L235.9,885.4 L254.9,888.8 L258.7,892.6 L260.6,898.3 L408.5,904.7 L411.0,891.0 L423.5,887.8 L448.4,886.8 L484.0,887.3 L560.0,889.8 L584.9,882.3 L609.8,880.7 L643.0,880.7 L659.6,883.2 L676.3,887.3 L700.0,889.8 L711.6,889.6 L736.6,888.3 L746.5,875.9 L756.5,870.9 L773.9,869.7 L791.4,865.9 L806.3,860.9 L811.3,858.4 L815.0,853.5 L826.2,853.5 L826.2,903.3 L607.0,903.3 L59.0,903.3 Z" fill="#20b2aa" stroke="#111" stroke-width="0.8"/>
<path d="M51.6,628.0 L43.4,638.1 L36.2,645.0 L30.3,653.4 L28.0,659.1 L29.3,662.2 L29.7,669.6 L27.2,672.3 L28.9,677.0 L32.4,680.1 L36.0,683.3 L38.7,687.5 L41.9,690.0 L48.2,694.0 L53.5,692.5 L59.8,693.2 L64.0,691.5 L69.3,690.0 L73.5,690.0 L76.6,694.2 L81.9,693.8 L84.0,695.3 L84.6,699.0 L83.6,703.2 L82.9,706.4 L88.8,712.7 L89.9,715.9 L92.0,721.8 L92.6,727.4 L89.7,733.7 L88.8,739.6 L94.5,750.6 L95.6,760.0 L98.7,763.4 L101.9,769.5 L102.7,775.2 L106.1,776.4 L111.3,774.7 L117.9,774.7 L121.9,773.1 L127.1,768.4 L132.4,763.4 L132.6,757.9 L138.7,753.7 L138.7,748.5 L137.0,744.9 L141.4,741.1 L149.2,734.8 L149.2,725.3 L146.7,720.1 L146.5,713.8 L149.2,708.5 L152.0,705.4 L155.5,700.1 L160.8,696.9 L165.0,693.2 L168.2,687.5 L171.7,681.2 L171.7,678.4 L167.1,679.5 L158.7,681.2 L155.1,678.4 L153.4,672.8 L150.3,670.7 L146.7,665.4 L142.5,658.0 L141.4,650.7 L137.7,644.4 L134.5,643.3 L132.4,640.2 L132.0,637.4 L127.1,637.6 L122.9,638.1 L116.6,636.8 L112.4,634.7 L106.1,638.5 L101.9,638.5 L96.6,636.4 L91.4,634.1 L87.1,632.8 L86.1,625.9 L84.6,624.8 L80.8,625.7 L74.5,625.9 L70.3,625.9 L64.0,627.8 L59.8,629.4 L51.6,628.0 M809.2,628.0 L801.0,638.1 L793.8,645.0 L787.9,653.4 L785.6,659.1 L786.9,662.2 L787.3,669.6 L784.8,672.3 L786.5,677.0 L790.0,680.1 L793.6,683.3 L796.3,687.5 L799.5,690.0 L805.8,694.0 L811.1,692.5 L817.4,693.2 L821.6,691.5 L826.9,690.0 L831.1,690.0 L834.2,694.2 L839.5,693.8 L841.6,695.3 L842.2,699.0 L841.2,703.2 L840.5,706.4 L846.4,712.7 L847.5,715.9 L849.6,721.8 L850.2,727.4 L847.3,733.7 L846.4,739.6 L852.1,750.6 L853.2,760.0 L856.3,763.4 L859.5,769.5 L860.3,775.2 L863.7,776.4 L869.0,774.7 L875.5,774.7 L879.5,773.1 L884.7,768.4 L890.0,763.4 L890.2,757.9 L896.3,753.7 L896.3,748.5 L894.6,744.9 L899.0,741.1 L906.8,734.8 L906.8,725.3 L904.3,720.1 L904.1,713.8 L906.8,708.5 L909.6,705.4 L913.1,700.1 L918.4,696.9 L922.6,693.2 L925.8,687.5 L929.3,681.2 L929.3,678.4 L924.7,679.5 L916.3,681.2 L912.7,678.4 L911.0,672.8 L907.9,670.7 L904.3,665.4 L900.1,658.0 L899.0,650.7 L895.3,644.4 L892.1,643.3 L890.0,640.2 L889.6,637.4 L884.7,637.6 L880.5,638.1 L874.2,636.8 L870.0,634.7 L863.7,638.5 L859.5,638.5 L854.2,636.4 L849.0,634.1 L844.7,632.8 L843.7,625.9 L842.2,624.8 L838.4,625.7 L832.1,625.9 L827.9,625.9 L821.6,627.8 L817.4,629.4 L809.2,628.0 M167.7,728.5 L170.3,735.8 L168.2,740.0 L166.1,746.4 L163.5,754.8 L158.7,756.9 L156.2,753.7 L155.1,748.5 L157.4,744.3 L156.6,739.0 L161.9,736.3 L165.0,732.7 L167.7,728.5 M132.0,637.4 L136.2,637.4 L137.7,634.3 L139.5,628.6 L139.8,626.3 L137.0,625.9 L132.4,627.3 L128.2,626.9 L122.9,625.9 L120.8,623.3 L119.3,620.2 L119.1,618.5 L122.9,617.0 L125.0,616.8 L129.2,616.8 L133.4,614.9 L137.7,614.9 L141.9,616.6 L147.1,617.0 L151.3,616.0 L151.5,613.9 L147.1,610.5 L142.9,609.3 L145.0,604.8 L137.7,608.2 L134.5,609.7 L132.4,607.8 L134.5,606.5 L129.2,605.3 L128.2,606.5 L126.3,608.2 L124.2,610.7 L122.3,613.7 L122.9,616.6 L118.7,617.2 L113.5,618.5 L111.8,620.2 L112.8,623.3 L112.4,626.5 L109.5,625.7 L108.2,622.3 L104.8,618.5 L104.8,615.4 L100.8,612.8 L96.0,610.3 L94.5,608.2 L92.6,607.2 L89.9,608.0 L90.3,610.3 L93.7,613.9 L99.6,616.6 L102.9,618.9 L99.8,618.1 L98.7,621.2 L97.0,623.3 L97.7,622.3 L96.8,619.1 L93.5,617.5 L90.3,616.0 L87.1,613.9 L85.5,610.9 L81.9,609.9 L78.7,611.6 L73.5,611.8 L70.5,612.6 L70.7,615.1 L65.1,618.1 L64.4,620.2 L62.9,622.7 L59.8,625.9 L54.7,626.1 L52.2,627.5 L50.7,626.3 L45.5,625.4 L44.0,621.9 L45.5,617.0 L44.4,612.8 L47.2,611.4 L55.6,612.0 L60.8,611.8 L61.3,607.6 L58.7,603.8 L54.1,601.5 L60.0,600.8 L61.3,599.0 L64.0,599.2 L67.4,597.7 L69.3,595.8 L72.4,595.0 L74.5,592.0 L78.7,591.0 L82.1,589.7 L81.3,586.5 L82.1,583.4 L86.1,582.1 L86.1,585.5 L85.0,588.6 L89.3,589.3 L94.5,589.9 L102.9,588.2 L105.0,588.6 L108.2,586.5 L108.2,584.4 L109.2,582.3 L115.1,583.0 L113.5,580.2 L114.5,578.6 L122.9,578.1 L127.1,577.1 L122.9,576.0 L116.6,576.5 L111.3,576.7 L109.2,575.0 L109.2,571.8 L116.6,567.6 L117.2,565.9 L110.3,564.9 L108.2,567.6 L100.8,570.8 L100.8,575.0 L103.8,576.0 L101.9,580.2 L98.7,583.4 L97.7,585.3 L93.9,586.8 L90.7,585.1 L89.3,581.3 L87.6,579.6 L86.1,578.8 L81.9,580.9 L78.7,581.3 L75.6,579.6 L74.5,577.1 L74.5,572.9 L80.8,570.8 L86.1,568.7 L90.3,565.5 L91.4,562.4 L95.6,559.2 L101.9,557.1 L110.3,555.4 L118.7,554.0 L127.1,556.5 L133.4,557.1 L139.8,563.4 L148.2,567.2 L150.3,563.8 L157.2,564.7 L155.5,563.4 L158.7,559.6 L169.2,560.7 L176.6,559.8 L179.7,559.4 L190.3,558.6 L203.9,558.2 L207.1,555.0 L205.0,552.9 L209.2,549.7 L217.2,550.2 L215.5,554.0 L218.7,559.2 L221.8,558.2 L218.7,552.9 L221.8,550.2 L228.1,551.0 L233.4,551.2 L236.6,548.7 L247.1,546.6 L253.4,544.5 L263.9,543.4 L274.4,542.4 L283.5,539.9 L289.2,542.4 L299.7,543.4 L301.8,548.3 L306.0,548.3 L316.5,549.7 L327.1,548.7 L333.4,550.8 L337.6,554.0 L348.1,552.7 L358.6,550.8 L369.1,551.2 L379.7,552.9 L390.2,554.0 L400.7,554.4 L411.2,556.9 L421.8,556.1 L432.3,556.5 L442.8,558.4 L453.3,562.4 L462.4,563.4 L462.8,565.9 L456.5,567.6 L450.2,565.5 L442.8,566.6 L437.5,571.8 L427.0,575.0 L421.8,577.1 L412.3,576.9 L408.1,577.5 L404.9,580.2 L407.7,581.7 L404.9,586.5 L400.7,589.7 L397.1,592.2 L393.8,596.0 L392.3,588.6 L393.8,581.7 L400.7,575.0 L393.8,573.7 L390.2,578.6 L384.9,579.2 L379.7,577.9 L373.4,578.6 L366.0,578.6 L360.7,580.2 L354.4,584.4 L348.5,588.2 L352.7,589.7 L358.2,589.3 L361.6,591.2 L359.7,596.0 L359.0,601.3 L353.4,607.6 L349.2,611.1 L343.9,613.3 L339.1,614.3 L336.9,617.0 L332.3,619.6 L334.4,622.3 L336.5,626.5 L336.1,629.0 L332.3,630.3 L329.8,629.7 L330.2,625.4 L327.7,624.0 L327.5,620.2 L323.9,619.6 L319.1,621.2 L321.4,618.1 L319.7,617.5 L314.4,620.2 L311.9,620.6 L312.3,622.3 L314.4,625.0 L318.6,624.0 L321.8,625.4 L317.6,627.1 L314.8,630.7 L318.2,634.9 L320.5,638.5 L317.6,644.4 L315.5,648.6 L313.4,651.7 L309.2,655.1 L304.3,656.4 L299.7,657.4 L296.5,660.6 L295.9,659.1 L291.3,657.8 L288.3,660.4 L286.4,663.3 L288.1,665.8 L291.9,669.6 L293.8,674.9 L293.0,679.1 L287.1,683.5 L284.5,685.2 L280.8,680.1 L279.3,677.6 L276.5,676.8 L275.5,674.9 L273.4,677.0 L272.8,681.2 L274.9,685.4 L277.6,688.7 L280.8,691.5 L281.6,694.8 L283.3,700.1 L281.6,700.5 L277.2,697.2 L275.5,694.8 L275.1,690.6 L270.9,686.4 L271.3,682.2 L271.3,678.0 L269.8,673.8 L269.4,668.6 L265.0,670.0 L262.9,669.6 L262.4,664.1 L258.2,660.1 L257.2,656.4 L253.4,657.0 L250.2,657.6 L247.1,658.0 L246.0,661.2 L240.8,664.8 L237.2,668.3 L233.0,670.7 L232.1,678.0 L231.9,681.6 L228.6,684.5 L227.1,686.2 L225.0,684.5 L223.5,680.1 L220.8,675.9 L218.7,669.6 L217.2,663.3 L217.0,658.0 L211.3,655.1 L208.2,654.3 L206.1,652.8 L203.9,649.8 L193.4,650.3 L185.0,649.2 L182.9,646.3 L177.6,647.3 L172.4,644.6 L170.3,641.8 L168.2,640.2 L165.0,640.2 L166.1,643.3 L169.2,647.5 L170.9,651.1 L172.4,649.6 L173.4,652.8 L177.6,652.4 L180.8,649.6 L182.5,647.9 L182.7,650.9 L187.1,653.6 L189.8,655.9 L187.7,660.1 L184.0,663.5 L179.7,666.5 L173.4,668.6 L169.2,671.7 L165.0,673.8 L158.7,675.9 L155.5,676.5 L154.5,674.9 L153.4,668.6 L149.2,663.3 L146.3,658.0 L144.0,652.8 L140.8,648.6 L137.7,644.4 L137.4,641.2 L136.2,637.4 M889.6,637.4 L893.8,637.4 L895.3,634.3 L897.1,628.6 L897.4,626.3 L894.6,625.9 L890.0,627.3 L885.8,626.9 L880.5,625.9 L878.4,623.3 L876.9,620.2 L876.7,618.5 L880.5,617.0 L882.6,616.8 L886.8,616.8 L891.0,614.9 L895.3,614.9 L899.5,616.6 L904.7,617.0 L908.9,616.0 L909.1,613.9 L904.7,610.5 L900.5,609.3 L902.6,604.8 L895.3,608.2 L892.1,609.7 L890.0,607.8 L892.1,606.5 L886.8,605.3 L885.8,606.5 L883.9,608.2 L881.8,610.7 L879.9,613.7 L880.5,616.6 L876.3,617.2 L871.1,618.5 L869.4,620.2 L870.4,623.3 L870.0,626.5 L867.1,625.7 L865.8,622.3 L862.4,618.5 L862.4,615.4 L858.4,612.8 L853.6,610.3 L852.1,608.2 L850.2,607.2 L847.5,608.0 L847.9,610.3 L851.3,613.9 L857.2,616.6 L860.5,618.9 L857.4,618.1 L856.3,621.2 L854.6,623.3 L855.3,622.3 L854.4,619.1 L851.1,617.5 L847.9,616.0 L844.7,613.9 L843.1,610.9 L839.5,609.9 L836.3,611.6 L831.1,611.8 L828.1,612.6 L828.3,615.1 L822.7,618.1 L822.0,620.2 L820.5,622.7 L817.4,625.9 L812.3,626.1 L809.8,627.5 L808.3,626.3 L803.1,625.4 L801.6,621.9 L803.1,617.0 L802.0,612.8 L804.8,611.4 L813.2,612.0 L818.4,611.8 L818.9,607.6 L816.3,603.8 L811.7,601.5 L817.6,600.8 L818.9,599.0 L821.6,599.2 L825.0,597.7 L826.9,595.8 L830.0,595.0 L832.1,592.0 L836.3,591.0 L839.7,589.7 L838.9,586.5 L839.7,583.4 L843.7,582.1 L843.7,585.5 L842.6,588.6 L846.9,589.3 L852.1,589.9 L860.5,588.2 L862.6,588.6 L865.8,586.5 L865.8,584.4 L866.8,582.3 L872.7,583.0 L871.1,580.2 L872.1,578.6 L880.5,578.1 L884.7,577.1 L880.5,576.0 L874.2,576.5 L869.0,576.7 L866.8,575.0 L866.8,571.8 L874.2,567.6 L874.8,565.9 L867.9,564.9 L865.8,567.6 L858.4,570.8 L858.4,575.0 L861.4,576.0 L859.5,580.2 L856.3,583.4 L855.3,585.3 L851.5,586.8 L848.3,585.1 L846.9,581.3 L845.2,579.6 L843.7,578.8 L839.5,580.9 L836.3,581.3 L833.2,579.6 L832.1,577.1 L832.1,572.9 L838.4,570.8 L843.7,568.7 L847.9,565.5 L849.0,562.4 L853.2,559.2 L859.5,557.1 L867.9,555.4 L876.3,554.0 L884.7,556.5 L891.0,557.1 L897.4,563.4 L905.8,567.2 L907.9,563.8 L914.8,564.7 L913.1,563.4 L916.3,559.6 L926.8,560.7 L934.2,559.8 L937.3,559.4 L947.9,558.6 L961.5,558.2 L964.7,555.0 L962.6,552.9 L966.8,549.7 L974.8,550.2 L973.1,554.0 L976.3,559.2 L979.4,558.2 L976.3,552.9 L979.4,550.2 L985.7,551.0 L991.0,551.2 L994.2,548.7 L1004.7,546.6 L1011.0,544.5 L1021.5,543.4 L1032.0,542.4 L1041.1,539.9 L1046.8,542.4 L1057.3,543.4 L1059.4,548.3 L1063.6,548.3 L1074.1,549.7 L1084.7,548.7 L1091.0,550.8 L1095.2,554.0 L1105.7,552.7 L1116.2,550.8 L1126.7,551.2 L1137.3,552.9 L1147.8,554.0 L1158.3,554.4 L1168.8,556.9 L1179.4,556.1 L1189.9,556.5 L1200.4,558.4 L1210.9,562.4 L1220.0,563.4 L1220.4,565.9 L1214.1,567.6 L1207.8,565.5 L1200.4,566.6 L1195.1,571.8 L1184.6,575.0 L1179.4,577.1 L1169.9,576.9 L1165.7,577.5 L1162.5,580.2 L1165.3,581.7 L1162.5,586.5 L1158.3,589.7 L1154.7,592.2 L1151.4,596.0 L1149.9,588.6 L1151.4,581.7 L1158.3,575.0 L1151.4,573.7 L1147.8,578.6 L1142.5,579.2 L1137.3,577.9 L1131.0,578.6 L1123.6,578.6 L1118.3,580.2 L1112.0,584.4 L1106.1,588.2 L1110.3,589.7 L1115.8,589.3 L1119.2,591.2 L1117.3,596.0 L1116.6,601.3 L1111.0,607.6 L1106.8,611.1 L1101.5,613.3 L1096.7,614.3 L1094.5,617.0 L1089.9,619.6 L1092.0,622.3 L1094.1,626.5 L1093.7,629.0 L1089.9,630.3 L1087.4,629.7 L1087.8,625.4 L1085.3,624.0 L1085.1,620.2 L1081.5,619.6 L1076.7,621.2 L1079.0,618.1 L1077.3,617.5 L1072.0,620.2 L1069.5,620.6 L1069.9,622.3 L1072.0,625.0 L1076.2,624.0 L1079.4,625.4 L1075.2,627.1 L1072.4,630.7 L1075.8,634.9 L1078.1,638.5 L1075.2,644.4 L1073.1,648.6 L1071.0,651.7 L1066.8,655.1 L1061.9,656.4 L1057.3,657.4 L1054.1,660.6 L1053.5,659.1 L1048.9,657.8 L1045.9,660.4 L1044.0,663.3 L1045.7,665.8 L1049.5,669.6 L1051.4,674.9 L1050.6,679.1 L1044.7,683.5 L1042.1,685.2 L1038.4,680.1 L1036.9,677.6 L1034.1,676.8 L1033.1,674.9 L1031.0,677.0 L1030.4,681.2 L1032.5,685.4 L1035.2,688.7 L1038.4,691.5 L1039.2,694.8 L1040.9,700.1 L1039.2,700.5 L1034.8,697.2 L1033.1,694.8 L1032.7,690.6 L1028.5,686.4 L1028.9,682.2 L1028.9,678.0 L1027.4,673.8 L1027.0,668.6 L1022.6,670.0 L1020.5,669.6 L1020.0,664.1 L1015.8,660.1 L1014.8,656.4 L1011.0,657.0 L1007.8,657.6 L1004.7,658.0 L1003.6,661.2 L998.4,664.8 L994.8,668.3 L990.6,670.7 L989.7,678.0 L989.5,681.6 L986.2,684.5 L984.7,686.2 L982.6,684.5 L981.1,680.1 L978.4,675.9 L976.3,669.6 L974.8,663.3 L974.6,658.0 L968.9,655.1 L965.8,654.3 L963.6,652.8 L961.5,649.8 L951.0,650.3 L942.6,649.2 L940.5,646.3 L935.2,647.3 L930.0,644.6 L927.9,641.8 L925.8,640.2 L922.6,640.2 L923.7,643.3 L926.8,647.5 L928.5,651.1 L930.0,649.6 L931.0,652.8 L935.2,652.4 L938.4,649.6 L940.1,647.9 L940.3,650.9 L944.7,653.6 L947.4,655.9 L945.3,660.1 L941.6,663.5 L937.3,666.5 L931.0,668.6 L926.8,671.7 L922.6,673.8 L916.3,675.9 L913.1,676.5 L912.1,674.9 L911.0,668.6 L906.8,663.3 L903.9,658.0 L901.6,652.8 L898.4,648.6 L895.3,644.4 L895.0,641.2 L893.8,637.4 M164.0,607.6 L168.2,605.7 L172.4,604.4 L175.5,604.8 L176.0,608.2 L172.0,609.7 L175.1,614.9 L177.6,617.5 L175.5,620.2 L177.4,624.8 L171.3,625.9 L167.1,624.2 L168.2,618.5 L166.1,615.4 L164.0,612.8 L164.0,607.6 M339.5,631.8 L340.7,630.7 L343.9,628.6 L349.2,628.4 L350.2,626.5 L352.3,625.4 L355.5,624.2 L358.6,620.2 L358.6,617.7 L361.6,616.2 L362.4,619.1 L360.7,622.7 L360.5,625.7 L359.9,629.2 L358.2,629.7 L355.9,630.5 L352.3,630.5 L349.2,632.8 L347.0,631.3 L343.9,631.1 L341.8,632.2 L339.5,631.8 M337.6,632.8 L340.7,632.6 L341.4,636.0 L339.7,638.1 L338.0,637.4 L337.2,634.5 L337.6,632.8 M358.6,616.0 L360.7,615.4 L365.6,614.9 L370.2,612.2 L369.1,610.3 L362.8,607.6 L362.0,608.4 L361.6,611.8 L359.5,612.2 L358.6,613.9 L358.6,616.0 M362.8,606.5 L366.0,605.5 L364.9,600.2 L368.1,600.2 L364.9,595.0 L364.9,589.1 L363.9,590.8 L362.8,596.0 L362.8,602.3 L362.8,606.5 M316.7,654.9 L318.4,657.0 L320.5,651.7 L319.7,650.0 L317.8,651.7 L316.7,654.9 M292.8,662.9 L294.4,665.0 L296.5,663.7 L297.6,661.6 L295.9,661.0 L292.8,662.9 M317.8,664.3 L321.4,664.8 L320.7,668.6 L319.7,670.7 L320.7,673.8 L325.0,675.9 L320.7,674.9 L317.6,673.4 L316.5,669.6 L317.8,664.3 M320.7,688.5 L325.0,686.4 L328.1,683.3 L330.2,687.5 L329.2,690.2 L325.0,690.6 L320.7,688.5 M293.4,700.1 L294.6,705.4 L295.9,709.3 L299.7,710.4 L305.0,711.2 L308.1,710.6 L309.2,706.4 L311.3,702.2 L314.0,701.1 L311.9,699.0 L313.4,692.7 L314.8,691.9 L311.3,688.7 L308.1,690.6 L306.0,693.2 L302.9,695.3 L298.6,698.0 L295.5,699.7 L293.4,700.1 M264.6,691.5 L269.2,692.3 L274.4,698.0 L281.8,704.9 L283.9,708.5 L287.1,710.0 L287.1,715.4 L284.1,715.7 L279.3,711.7 L275.5,706.4 L271.7,699.7 L267.1,695.5 L264.6,691.5 M285.4,717.5 L287.1,715.7 L291.9,716.5 L296.3,717.8 L301.0,717.8 L304.7,719.4 L305.0,721.5 L297.6,720.5 L291.3,719.7 L287.9,718.8 L285.4,717.5 M315.5,714.8 L317.2,714.8 L317.6,709.6 L321.8,713.3 L322.8,711.7 L319.7,707.0 L322.8,705.4 L318.6,705.4 L317.8,702.0 L318.6,700.9 L326.0,700.1 L327.1,699.9 L325.0,702.4 L317.0,702.6 L316.1,703.7 L315.5,709.6 L315.5,714.8 M339.7,705.4 L342.8,704.1 L346.0,705.1 L348.1,710.2 L353.4,706.4 L360.7,708.7 L369.1,712.7 L371.2,714.8 L374.4,715.9 L375.0,720.1 L379.0,724.9 L374.4,724.7 L369.1,720.1 L364.9,722.6 L360.7,722.4 L356.5,720.3 L354.4,720.9 L354.0,714.8 L348.1,712.5 L343.9,711.7 L341.8,709.1 L339.7,705.4 M231.9,688.7 L232.4,682.6 L235.1,685.4 L236.1,688.5 L234.5,690.6 L232.4,690.6 L231.9,688.7 M304.3,749.1 L309.6,746.6 L314.4,745.3 L318.6,744.3 L321.4,739.4 L323.9,739.0 L327.1,735.4 L330.8,732.3 L333.8,734.8 L336.5,734.6 L338.6,729.5 L342.8,728.5 L343.3,727.4 L348.1,728.9 L351.9,728.9 L350.2,731.6 L349.2,734.8 L352.9,737.5 L357.1,740.0 L360.3,739.8 L362.0,734.8 L362.0,729.7 L363.9,725.7 L366.0,732.7 L369.8,734.8 L370.2,737.9 L371.9,743.2 L377.1,746.4 L380.1,750.6 L382.8,753.7 L386.4,756.9 L387.2,762.5 L386.0,768.4 L384.9,771.6 L382.2,774.7 L379.9,780.0 L379.5,782.1 L374.4,783.2 L371.9,785.3 L368.1,783.6 L364.9,784.8 L359.7,783.2 L357.8,781.5 L357.8,778.3 L354.4,778.1 L355.5,775.6 L353.4,776.8 L354.0,773.1 L350.2,776.4 L348.5,776.0 L346.4,771.8 L340.7,769.5 L333.4,771.0 L328.1,771.8 L325.0,774.3 L316.5,774.7 L312.3,776.8 L308.1,776.6 L306.0,775.4 L307.3,773.3 L307.5,769.7 L306.0,766.3 L305.8,762.1 L302.9,759.0 L303.5,755.8 L302.9,752.7 L304.3,749.1 M368.5,788.8 L376.1,789.3 L376.1,792.0 L373.4,794.7 L369.6,792.0 L368.5,788.8 M427.4,775.8 L431.2,779.0 L433.3,781.1 L439.6,782.5 L437.5,785.9 L435.4,788.4 L432.7,790.5 L431.6,790.1 L432.3,787.4 L429.8,785.7 L431.4,783.2 L430.6,780.0 L427.4,775.8 M427.4,788.4 L430.8,790.9 L428.5,793.7 L424.5,796.8 L422.8,799.8 L419.7,801.2 L414.4,800.0 L415.4,797.9 L418.2,795.8 L423.0,793.7 L426.0,790.5 L427.4,788.4 M468.1,565.3 L472.3,559.6 L478.6,557.1 L483.8,554.8 L491.6,553.3 L501.7,554.4 L510.1,555.4 L520.7,555.8 L524.9,556.9 L533.3,558.2 L539.6,557.1 L548.0,556.1 L553.3,555.6 L560.6,557.1 L569.1,557.5 L579.6,558.6 L590.1,560.3 L598.5,559.2 L609.1,560.7 L617.5,559.2 L623.8,558.2 L632.2,559.2 L640.6,562.4 L644.8,563.4 L639.6,567.6 L636.4,568.3 L631.1,569.7 L626.9,572.9 L623.8,576.0 L622.1,579.2 L625.9,579.8 L631.1,583.0 L637.5,585.9 L642.7,587.2 L648.4,587.2 L648.4,591.8 L654.3,595.0 L655.3,588.6 L660.2,584.4 L658.5,580.2 L657.5,576.0 L658.5,571.8 L668.0,572.9 L674.3,575.0 L675.3,579.2 L680.6,580.7 L685.9,576.5 L689.0,581.3 L692.2,585.5 L695.3,587.6 L701.0,589.7 L703.8,592.9 L700.6,595.0 L695.3,597.7 L684.8,597.7 L680.6,599.6 L675.3,603.4 L673.2,604.4 L676.4,601.9 L685.9,601.3 L684.8,604.4 L686.9,606.5 L693.2,607.6 L688.0,609.7 L682.7,611.1 L680.6,609.0 L674.3,611.1 L673.0,613.7 L674.3,615.4 L671.1,616.4 L665.9,617.9 L665.9,620.2 L662.7,621.2 L661.7,623.3 L661.0,625.4 L662.5,628.6 L660.6,630.3 L656.4,632.2 L652.2,635.3 L650.3,639.1 L652.2,644.4 L653.2,647.5 L652.4,650.3 L650.5,649.6 L648.0,645.4 L647.4,641.8 L644.8,640.2 L640.6,639.3 L635.4,639.3 L633.3,641.2 L631.1,642.1 L628.0,640.8 L623.8,641.0 L620.6,642.9 L616.8,645.4 L616.4,649.0 L616.0,653.8 L616.4,658.0 L618.5,662.2 L621.7,664.1 L623.8,665.0 L628.0,664.1 L630.1,662.9 L631.4,659.1 L635.4,658.0 L638.5,658.0 L637.5,662.2 L636.4,664.3 L635.8,669.6 L640.6,669.8 L644.8,670.7 L646.3,672.8 L645.5,679.1 L646.9,682.2 L650.1,684.3 L654.3,683.1 L658.5,685.4 L661.7,683.7 L662.7,681.2 L665.9,679.7 L670.1,678.0 L670.5,677.4 L674.3,679.1 L677.4,681.2 L682.7,681.0 L686.9,681.2 L691.1,681.0 L693.2,684.3 L696.4,686.4 L700.6,690.6 L708.0,691.1 L712.2,693.4 L714.3,695.9 L716.4,699.5 L717.4,703.2 L720.6,705.4 L726.9,706.4 L733.2,709.1 L739.5,710.6 L743.7,713.6 L747.3,714.8 L748.4,719.0 L746.9,723.2 L742.7,727.4 L739.9,730.6 L739.1,740.0 L737.4,745.3 L734.3,750.6 L730.1,751.6 L726.9,753.1 L720.6,756.9 L719.3,762.1 L716.4,767.4 L711.1,772.6 L708.0,776.4 L702.7,776.4 L698.7,776.0 L701.6,779.6 L700.6,783.2 L691.1,785.3 L690.5,788.6 L684.8,789.5 L686.9,792.6 L684.2,797.9 L679.6,801.0 L682.7,803.8 L677.4,808.4 L676.4,811.5 L677.7,813.4 L677.4,818.5 L674.3,818.9 L670.1,816.8 L664.8,813.6 L663.1,808.4 L664.8,803.1 L662.7,801.0 L665.9,797.9 L666.9,793.7 L666.5,790.5 L666.9,785.3 L667.6,781.7 L670.1,776.8 L671.1,771.6 L671.1,766.3 L672.2,761.1 L673.4,755.8 L673.7,745.3 L673.2,741.7 L670.1,739.0 L663.8,735.8 L661.0,731.6 L658.5,727.4 L655.8,721.1 L653.2,718.0 L650.7,715.9 L652.6,710.6 L651.6,707.5 L653.2,703.2 L654.3,700.1 L656.4,698.0 L658.5,694.8 L658.9,689.6 L657.5,687.5 L656.4,685.4 L653.2,687.9 L652.2,686.4 L649.0,686.0 L645.9,685.4 L641.2,682.2 L641.0,680.1 L637.5,676.1 L633.3,674.9 L629.0,673.8 L625.9,670.7 L622.7,669.2 L618.5,670.2 L614.3,669.0 L609.1,666.5 L603.8,664.8 L599.6,661.2 L600.0,658.0 L598.5,654.9 L594.3,650.7 L591.2,647.5 L588.0,644.8 L584.2,640.2 L580.2,636.6 L580.6,640.2 L583.8,644.4 L585.9,648.6 L590.1,653.8 L590.3,655.1 L585.9,651.1 L581.7,644.8 L579.6,641.2 L576.0,636.4 L575.0,634.5 L572.2,631.8 L567.8,630.5 L565.3,626.5 L563.8,623.8 L561.1,619.6 L560.0,614.9 L560.6,606.5 L559.2,601.5 L562.8,601.3 L558.5,598.1 L553.3,596.0 L552.2,592.9 L548.0,589.1 L543.8,585.5 L538.6,581.3 L534.3,580.7 L528.0,577.5 L520.7,577.1 L514.4,575.6 L510.1,577.1 L505.9,574.6 L502.8,578.1 L497.5,581.3 L492.3,584.4 L487.0,587.2 L480.7,587.6 L475.4,588.6 L480.7,585.9 L488.0,582.3 L491.2,579.6 L484.9,579.8 L480.7,577.1 L474.4,575.0 L475.4,570.8 L482.8,568.0 L474.4,567.6 L468.1,565.3 M668.0,538.6 L674.3,542.4 L682.7,543.4 L693.2,543.4 L699.5,545.5 L703.8,549.7 L705.9,555.0 L713.2,558.2 L709.0,562.4 L713.2,568.7 L717.4,572.9 L729.0,577.1 L733.2,573.9 L737.4,567.6 L745.8,565.5 L754.3,560.3 L769.0,557.1 L775.3,555.0 L775.3,549.7 L781.6,545.5 L781.6,541.3 L785.8,535.0 L796.3,531.9 L779.5,529.8 L754.3,527.7 L726.9,529.1 L695.3,530.8 L684.8,532.9 L668.0,538.6 M775.3,568.7 L771.1,565.5 L775.3,563.6 L783.7,564.0 L791.1,564.5 L793.0,566.6 L790.0,568.0 L783.7,569.9 L775.3,568.7 M52.0,598.1 L57.7,596.8 L66.9,595.6 L67.6,592.4 L64.0,590.8 L60.8,587.6 L59.8,585.5 L60.2,582.3 L57.7,580.0 L53.5,580.0 L51.0,583.4 L52.4,587.0 L53.9,588.0 L57.7,589.7 L54.5,591.0 L55.2,592.9 L52.8,594.3 L57.7,595.2 L52.0,598.1 M809.6,598.1 L815.3,596.8 L824.5,595.6 L825.2,592.4 L821.6,590.8 L818.4,587.6 L817.4,585.5 L817.8,582.3 L815.3,580.0 L811.1,580.0 L808.6,583.4 L810.0,587.0 L811.5,588.0 L815.3,589.7 L812.1,591.0 L812.8,592.9 L810.4,594.3 L815.3,595.2 L809.6,598.1 M809.0,593.9 L809.0,590.8 L809.6,588.4 L805.8,587.0 L803.7,588.6 L800.6,590.8 L799.9,593.9 L801.6,595.0 L804.8,594.5 L809.0,593.9 M642.7,657.4 L649.0,654.7 L653.2,654.9 L658.5,657.6 L665.5,660.8 L658.5,661.6 L657.5,659.7 L651.1,657.6 L644.8,657.2 L642.7,657.4 M664.8,664.6 L668.4,661.4 L674.3,661.8 L677.7,664.1 L674.3,665.0 L671.1,666.2 L668.0,665.4 L664.8,664.6 M87.1,538.2 L97.7,535.0 L110.3,534.4 L120.8,535.0 L108.2,537.8 L101.9,542.2 L93.5,540.7 L87.1,538.2 M173.4,552.9 L179.7,548.7 L186.1,544.5 L194.5,542.8 L207.1,541.5 L196.6,545.5 L186.1,549.7 L181.8,554.0 L173.4,552.9 M653.2,548.7 L659.6,550.8 L670.1,554.0 L678.5,556.1 L682.7,560.3 L691.1,563.4 L686.9,566.6 L684.8,570.8 L678.5,571.8 L670.1,568.7 L663.8,567.6 L657.5,566.6 L665.9,561.3 L659.6,557.1 L649.0,556.1 L640.6,556.1 L636.4,551.9 L642.7,548.7 L653.2,548.7 M573.3,554.0 L583.8,550.2 L600.6,550.2 L609.1,556.1 L600.6,558.6 L585.9,559.2 L573.3,557.7 L573.3,554.0 M653.2,542.4 L661.7,537.1 L684.8,531.9 L674.3,529.1 L642.7,529.8 L628.0,532.9 L632.2,540.3 L653.2,542.4 M558.5,552.3 L569.1,547.2 L575.4,549.7 L569.1,552.9 L558.5,552.3 M653.2,546.6 L632.2,546.6 L628.0,543.4 L644.8,542.2 L653.2,544.5 L653.2,546.6 M-693.6,850.4 L-672.6,850.4 L-651.5,850.4 L-630.5,849.4 L-609.4,847.3 L-588.4,844.1 L-577.9,842.0 L-567.3,845.2 L-546.3,846.2 L-546.3,850.4 L-535.8,849.4 L-525.2,845.2 L-504.2,843.1 L-483.2,842.0 L-462.1,842.7 L-441.1,844.1 L-420.0,842.7 L-399.0,843.5 L-377.9,847.3 L-356.9,850.4 L-346.4,852.5 L-335.8,854.7 L-346.4,858.9 L-350.6,865.2 L-346.4,867.3 L-325.3,868.3 L-314.8,867.9 L-293.8,868.3 L-272.7,869.4 L-262.2,867.3 L-251.7,864.1 L-230.6,862.0 L-209.6,859.9 L-188.5,858.4 L-167.5,859.9 L-146.4,857.8 L-125.4,856.8 L-104.4,856.8 L-93.8,852.5 L-83.3,850.4 L-77.0,844.1 L-68.6,838.9 L-56.0,836.4 L-62.3,839.9 L-66.5,844.1 L-66.5,850.4 L-62.3,856.8 L-62.3,861.0 L-41.2,866.2 L-20.2,867.3 L-9.7,865.2 L0.9,863.1 L11.4,858.9 L32.4,856.8 L43.0,853.6 L64.0,850.4 M64.0,850.4 L85.0,850.4 L106.1,850.4 L127.1,849.4 L148.2,847.3 L169.2,844.1 L179.7,842.0 L190.3,845.2 L211.3,846.2 L211.3,850.4 L221.8,849.4 L232.4,845.2 L253.4,843.1 L274.4,842.0 L295.5,842.7 L316.5,844.1 L337.6,842.7 L358.6,843.5 L379.7,847.3 L400.7,850.4 L411.2,852.5 L421.8,854.7 L411.2,858.9 L407.0,865.2 L411.2,867.3 L432.3,868.3 L442.8,867.9 L463.8,868.3 L484.9,869.4 L495.4,867.3 L505.9,864.1 L527.0,862.0 L548.0,859.9 L569.1,858.4 L590.1,859.9 L611.2,857.8 L632.2,856.8 L653.2,856.8 L663.8,852.5 L674.3,850.4 L680.6,844.1 L689.0,838.9 L701.6,836.4 L695.3,839.9 L691.1,844.1 L691.1,850.4 L695.3,856.8 L695.3,861.0 L716.4,866.2 L737.4,867.3 L747.9,865.2 L758.5,863.1 L769.0,858.9 L790.0,856.8 L800.6,853.6 L821.6,850.4 M821.6,850.4 L842.6,850.4 L863.7,850.4 L884.7,849.4 L905.8,847.3 L926.8,844.1 L937.3,842.0 L947.9,845.2 L968.9,846.2 L968.9,850.4 L979.4,849.4 L990.0,845.2 L1011.0,843.1 L1032.0,842.0 L1053.1,842.7 L1074.1,844.1 L1095.2,842.7 L1116.2,843.5 L1137.3,847.3 L1158.3,850.4 L1168.8,852.5 L1179.4,854.7 L1168.8,858.9 L1164.6,865.2 L1168.8,867.3 L1189.9,868.3 L1200.4,867.9 L1221.4,868.3 L1242.5,869.4 L1253.0,867.3 L1263.5,864.1 L1284.6,862.0 L1305.6,859.9 L1326.7,858.4 L1347.7,859.9 L1368.8,857.8 L1389.8,856.8 L1410.8,856.8 L1421.4,852.5 L1431.9,850.4 L1438.2,844.1 L1446.6,838.9 L1459.2,836.4 L1452.9,839.9 L1448.7,844.1 L1448.7,850.4 L1452.9,856.8 L1452.9,861.0 L1474.0,866.2 L1495.0,867.3 L1505.5,865.2 L1516.1,863.1 L1526.6,858.9 L1547.6,856.8 L1558.2,853.6 L1579.2,850.4 M627.8,605.1 L633.3,602.3 L636.4,600.6 L640.6,600.8 L643.6,602.7 L643.6,605.5 L639.4,605.7 L635.4,603.8 L631.1,605.3 L627.8,605.1 M636.8,614.9 L636.8,610.7 L638.5,607.6 L642.7,606.5 L642.7,608.6 L640.0,611.8 L639.6,614.9 L636.8,614.9 M643.4,606.7 L648.0,606.7 L652.2,607.6 L653.2,609.7 L649.7,612.8 L648.0,612.8 L648.0,610.7 L645.9,610.7 L644.8,607.6 L643.4,606.7 M645.9,615.6 L651.1,614.3 L655.3,613.0 L655.3,613.9 L650.1,616.0 L645.9,615.6 M653.7,612.2 L660.6,612.2 L661.2,610.3 L655.3,611.4 L653.7,612.2 M130.7,705.4 L131.3,702.6 L134.5,702.6 L135.8,704.3 L134.5,708.5 L131.3,708.7 L130.7,705.4 M125.4,710.2 L126.1,715.9 L128.2,721.1 L129.4,720.5 L127.1,714.8 L125.9,710.2 M135.6,723.2 L136.6,728.5 L138.1,733.3 L137.2,728.5 L136.2,723.2 M186.7,605.5 L193.4,605.5 L192.4,610.1 L188.2,610.7 L186.7,607.6 L186.7,605.5 M282.9,594.5 L287.1,592.9 L292.3,589.7 L295.1,586.1 L293.4,586.5 L289.2,590.8 L282.9,593.9 L282.9,594.5 M640.6,568.7 L644.8,564.9 L651.1,567.6 L646.9,569.3 L640.6,568.7 M609.1,548.7 L617.5,548.1 L617.5,551.9 L611.2,552.9 L609.1,548.7 M620.6,548.1 L630.1,547.6 L632.2,550.2 L623.8,551.9 L620.6,548.1 M579.6,544.5 L598.5,543.0 L600.6,545.5 L590.1,546.4 L579.6,544.5 M609.1,542.8 L615.4,542.4 L617.5,544.5 L611.2,545.1 L609.1,542.8 M621.7,537.1 L630.1,532.9 L640.6,534.0 L634.3,538.2 L621.7,537.1 M564.9,542.4 L575.4,540.3 L575.4,543.4 L564.9,542.4 M263.9,537.1 L274.4,534.0 L282.9,536.1 L274.4,539.2 L263.9,537.1 M158.7,534.0 L179.7,532.9 L194.5,534.0 L179.7,535.4 L158.7,534.0 M352.3,545.5 L364.9,543.4 L379.7,544.9 L369.1,547.6 L352.3,545.5 M438.6,553.5 L449.1,552.9 L447.0,554.4 L440.7,554.4 L438.6,553.5 M90.1,623.3 L96.8,622.7 L95.8,626.1 L90.1,624.2 L90.1,623.3 M81.7,617.0 L84.6,617.0 L84.2,621.2 L81.9,621.2 L81.7,617.0 M82.1,613.0 L83.8,612.8 L84.0,616.2 L82.5,615.8 L82.1,613.0 M113.5,629.0 L119.3,629.2 L115.6,629.9 L113.5,629.0 M132.0,629.7 L136.6,628.4 L135.1,630.3 L132.4,630.3 L132.0,629.7 M696.8,603.2 L703.8,595.0 L704.8,599.2 L710.1,603.4 L710.1,605.1 L704.8,604.4 L696.8,603.2 M551.6,596.4 L558.5,598.1 L562.1,601.5 L558.5,600.6 L551.6,596.4 M692.6,811.1 L699.5,811.1 L699.5,813.0 L693.2,812.6 L692.6,811.1 M325.0,722.6 L331.7,720.9 L327.1,724.3 L323.9,724.9 L325.0,722.6 M306.0,720.7 L316.5,720.9 L322.4,720.5 L316.5,722.0 L308.1,721.8 L306.0,720.7 M332.9,700.1 L334.4,702.2 L333.4,704.9 L332.3,702.2 L332.9,700.1 M333.4,709.6 L339.7,710.0 L338.6,711.2 L333.4,710.6 L333.4,709.6 M376.1,714.8 L382.8,712.1 L384.5,712.7 L380.7,715.9 L376.1,715.9 L376.1,714.8 M391.2,716.9 L394.4,719.0 L399.7,721.1 L402.8,723.2 L400.7,724.3 L396.5,722.2 L391.2,717.5 M409.1,745.7 L413.3,747.8 L415.4,750.1 L411.2,748.5 L409.1,745.7 M437.1,740.0 L439.6,739.6 L439.2,741.5 L437.1,741.1 L437.1,740.0 M493.3,661.6 L495.4,660.8 L495.8,662.2 L494.1,663.5 L493.3,661.6 M472.3,589.9 L468.1,591.2 M463.8,592.4 L459.6,593.3 M455.4,593.9 L451.2,594.3 M447.0,594.3 L442.8,594.3 M438.6,594.3 L434.4,593.7 M430.2,592.6 L426.0,591.8 M657.5,664.3 L661.2,665.4 L659.6,665.8 L657.5,664.3 M680.2,664.3 L683.5,664.6 L682.7,665.4 L680.2,665.4" fill="none" stroke="#2a2a2a" stroke-width="0.7" stroke-linejoin="round"/>
</g>
<circle cx="98.1" cy="527.0" r="1.8"/><circle cx="115.8" cy="525.0" r="1.8"/><circle cx="148.7" cy="523.2" r="1.8"/><circle cx="162.6" cy="523.2" r="1.8"/><circle cx="149.9" cy="514.0" r="1.8"/><circle cx="233.4" cy="514.0" r="1.8"/><circle cx="265.3" cy="514.0" r="1.8"/><circle cx="140.5" cy="529.4" r="1.8"/><circle cx="204.7" cy="537.2" r="1.8"/><circle cx="226.4" cy="537.2" r="1.8"/><circle cx="209.7" cy="542.6" r="1.8"/><circle cx="272.0" cy="533.4" r="1.8"/><circle cx="88.2" cy="551.9" r="1.8"/><circle cx="81.4" cy="556.8" r="1.8"/><circle cx="157.2" cy="549.4" r="1.8"/><circle cx="178.6" cy="553.9" r="1.8"/><circle cx="222.2" cy="549.4" r="1.8"/><circle cx="198.5" cy="559.6" r="1.8"/><circle cx="202.5" cy="556.8" r="1.8"/><circle cx="225.4" cy="562.6" r="1.8"/><circle cx="109.6" cy="567.6" r="1.8"/><circle cx="124.5" cy="564.6" r="1.8"/><circle cx="136.7" cy="562.6" r="1.8"/><circle cx="97.6" cy="577.5" r="1.8"/><circle cx="75.2" cy="581.3" r="1.8"/><circle cx="74.5" cy="587.5" r="1.8"/><circle cx="76.5" cy="586.2" r="1.8"/><circle cx="80.9" cy="586.2" r="1.8"/><circle cx="73.5" cy="595.7" r="1.8"/><circle cx="80.9" cy="598.7" r="1.8"/><circle cx="171.6" cy="575.8" r="1.8"/><circle cx="194.8" cy="573.3" r="1.8"/><circle cx="187.8" cy="582.0" r="1.8"/><circle cx="242.4" cy="575.3" r="1.8"/><circle cx="251.6" cy="589.2" r="1.8"/><circle cx="235.9" cy="596.7" r="1.8"/><circle cx="249.8" cy="597.7" r="1.8"/><circle cx="191.8" cy="596.7" r="1.8"/><circle cx="200.3" cy="596.7" r="1.8"/><circle cx="211.5" cy="604.2" r="1.8"/><circle cx="121.3" cy="603.7" r="1.8"/><circle cx="70.2" cy="605.7" r="1.8"/><circle cx="67.7" cy="625.9" r="1.8"/><circle cx="128.8" cy="623.9" r="1.8"/><circle cx="139.5" cy="621.0" r="1.8"/><circle cx="127.5" cy="628.4" r="1.8"/><circle cx="168.6" cy="613.5" r="1.8"/><circle cx="194.0" cy="616.5" r="1.8"/><circle cx="224.7" cy="613.5" r="1.8"/><circle cx="169.6" cy="628.2" r="1.8"/><circle cx="96.9" cy="639.6" r="1.8"/><circle cx="106.3" cy="637.1" r="1.8"/><circle cx="129.3" cy="636.9" r="1.8"/><circle cx="154.2" cy="639.6" r="1.8"/><circle cx="168.1" cy="639.4" r="1.8"/><circle cx="175.6" cy="638.4" r="1.8"/><circle cx="197.8" cy="639.6" r="1.8"/><circle cx="234.1" cy="639.6" r="1.8"/><circle cx="234.9" cy="645.4" r="1.8"/><circle cx="254.1" cy="645.9" r="1.8"/><circle cx="233.4" cy="650.9" r="1.8"/><circle cx="250.8" cy="652.1" r="1.8"/><circle cx="99.6" cy="654.3" r="1.8"/><circle cx="136.2" cy="654.1" r="1.8"/><circle cx="179.3" cy="661.1" r="1.8"/><circle cx="184.3" cy="667.0" r="1.8"/><circle cx="70.7" cy="665.3" r="1.8"/><circle cx="83.9" cy="666.5" r="1.8"/><circle cx="88.2" cy="669.0" r="1.8"/><circle cx="114.8" cy="667.3" r="1.8"/><circle cx="213.5" cy="664.8" r="1.8"/><circle cx="267.0" cy="665.3" r="1.8"/><circle cx="142.7" cy="675.8" r="1.8"/><circle cx="144.2" cy="677.5" r="1.8"/><circle cx="230.2" cy="676.3" r="1.8"/><circle cx="95.9" cy="682.7" r="1.8"/><circle cx="251.3" cy="683.2" r="1.8"/><circle cx="105.9" cy="690.7" r="1.8"/><circle cx="174.4" cy="692.0" r="1.8"/><circle cx="237.6" cy="687.7" r="1.8"/><circle cx="261.5" cy="695.7" r="1.8"/><circle cx="211.7" cy="699.2" r="1.8"/><circle cx="223.4" cy="699.2" r="1.8"/><circle cx="248.3" cy="700.7" r="1.8"/><circle cx="283.5" cy="526.5" r="1.8"/><circle cx="305.6" cy="525.2" r="1.8"/><circle cx="327.6" cy="526.5" r="1.8"/><circle cx="335.5" cy="525.2" r="1.8"/><circle cx="356.2" cy="520.2" r="1.8"/><circle cx="396.6" cy="515.2" r="1.8"/><circle cx="443.4" cy="524.7" r="1.8"/><circle cx="444.4" cy="528.4" r="1.8"/><circle cx="354.2" cy="540.2" r="1.8"/><circle cx="384.9" cy="538.2" r="1.8"/><circle cx="389.3" cy="535.7" r="1.8"/><circle cx="400.3" cy="542.6" r="1.8"/><circle cx="406.0" cy="539.4" r="1.8"/><circle cx="470.8" cy="539.7" r="1.8"/><circle cx="352.5" cy="550.9" r="1.8"/><circle cx="368.9" cy="553.1" r="1.8"/><circle cx="405.3" cy="552.6" r="1.8"/><circle cx="398.1" cy="561.8" r="1.8"/><circle cx="441.4" cy="564.3" r="1.8"/><circle cx="482.3" cy="566.8" r="1.8"/><circle cx="343.0" cy="568.8" r="1.8"/><circle cx="307.9" cy="577.5" r="1.8"/><circle cx="353.2" cy="582.0" r="1.8"/><circle cx="472.5" cy="577.5" r="1.8"/><circle cx="384.9" cy="583.3" r="1.8"/><circle cx="395.3" cy="589.2" r="1.8"/><circle cx="418.5" cy="589.5" r="1.8"/><circle cx="439.2" cy="593.2" r="1.8"/><circle cx="275.2" cy="588.7" r="1.8"/><circle cx="275.2" cy="595.0" r="1.8"/><circle cx="325.8" cy="602.4" r="1.8"/><circle cx="373.6" cy="603.2" r="1.8"/><circle cx="400.0" cy="602.4" r="1.8"/><circle cx="278.2" cy="622.7" r="1.8"/><circle cx="322.1" cy="628.4" r="1.8"/><circle cx="345.7" cy="621.0" r="1.8"/><circle cx="360.7" cy="614.0" r="1.8"/><circle cx="344.2" cy="633.9" r="1.8"/><circle cx="353.2" cy="633.9" r="1.8"/><circle cx="344.5" cy="642.1" r="1.8"/><circle cx="458.8" cy="612.7" r="1.8"/><circle cx="405.5" cy="622.7" r="1.8"/><circle cx="445.1" cy="628.4" r="1.8"/><circle cx="453.9" cy="625.9" r="1.8"/><circle cx="404.0" cy="645.9" r="1.8"/><circle cx="390.3" cy="655.3" r="1.8"/><circle cx="445.4" cy="651.8" r="1.8"/><circle cx="463.8" cy="658.1" r="1.8"/><circle cx="447.6" cy="661.8" r="1.8"/><circle cx="475.8" cy="664.8" r="1.8"/><circle cx="275.2" cy="663.8" r="1.8"/><circle cx="421.7" cy="664.8" r="1.8"/><circle cx="427.2" cy="671.3" r="1.8"/><circle cx="407.3" cy="671.8" r="1.8"/><circle cx="318.3" cy="671.3" r="1.8"/><circle cx="332.0" cy="677.5" r="1.8"/><circle cx="304.6" cy="682.0" r="1.8"/><circle cx="288.4" cy="684.2" r="1.8"/><circle cx="347.7" cy="683.0" r="1.8"/><circle cx="395.3" cy="685.5" r="1.8"/><circle cx="400.5" cy="681.7" r="1.8"/><circle cx="432.7" cy="687.0" r="1.8"/><circle cx="452.4" cy="680.5" r="1.8"/><circle cx="480.3" cy="684.5" r="1.8"/><circle cx="482.3" cy="681.0" r="1.8"/><circle cx="407.3" cy="699.2" r="1.8"/><circle cx="450.9" cy="701.7" r="1.8"/><circle cx="468.3" cy="698.7" r="1.8"/><circle cx="557.5" cy="519.0" r="1.8"/><circle cx="574.2" cy="517.0" r="1.8"/><circle cx="636.7" cy="522.7" r="1.8"/><circle cx="638.0" cy="529.4" r="1.8"/><circle cx="659.9" cy="528.2" r="1.8"/><circle cx="692.3" cy="518.5" r="1.8"/><circle cx="535.1" cy="539.7" r="1.8"/><circle cx="546.3" cy="548.9" r="1.8"/><circle cx="592.9" cy="543.1" r="1.8"/><circle cx="634.7" cy="538.9" r="1.8"/><circle cx="657.9" cy="541.4" r="1.8"/><circle cx="492.0" cy="549.4" r="1.8"/><circle cx="501.9" cy="550.1" r="1.8"/><circle cx="538.3" cy="555.1" r="1.8"/><circle cx="546.3" cy="556.3" r="1.8"/><circle cx="499.4" cy="565.6" r="1.8"/><circle cx="558.7" cy="565.8" r="1.8"/><circle cx="640.4" cy="565.1" r="1.8"/><circle cx="647.2" cy="562.6" r="1.8"/><circle cx="649.7" cy="565.8" r="1.8"/><circle cx="633.5" cy="573.0" r="1.8"/><circle cx="683.3" cy="563.3" r="1.8"/><circle cx="531.8" cy="579.3" r="1.8"/><circle cx="528.8" cy="588.2" r="1.8"/><circle cx="552.5" cy="595.0" r="1.8"/><circle cx="540.5" cy="601.7" r="1.8"/><circle cx="568.0" cy="578.0" r="1.8"/><circle cx="585.9" cy="581.3" r="1.8"/><circle cx="642.7" cy="593.7" r="1.8"/><circle cx="684.0" cy="589.2" r="1.8"/><circle cx="690.3" cy="582.0" r="1.8"/><circle cx="522.1" cy="612.7" r="1.8"/><circle cx="494.0" cy="619.7" r="1.8"/><circle cx="547.3" cy="622.2" r="1.8"/><circle cx="574.9" cy="622.7" r="1.8"/><circle cx="658.9" cy="612.0" r="1.8"/><circle cx="667.1" cy="619.0" r="1.8"/><circle cx="662.1" cy="622.7" r="1.8"/><circle cx="665.9" cy="625.9" r="1.8"/><circle cx="488.2" cy="643.1" r="1.8"/><circle cx="494.0" cy="641.9" r="1.8"/><circle cx="530.1" cy="639.4" r="1.8"/><circle cx="537.1" cy="637.6" r="1.8"/><circle cx="584.9" cy="638.4" r="1.8"/><circle cx="596.1" cy="638.9" r="1.8"/><circle cx="601.1" cy="635.2" r="1.8"/><circle cx="636.5" cy="631.9" r="1.8"/><circle cx="654.6" cy="640.1" r="1.8"/><circle cx="613.0" cy="646.4" r="1.8"/><circle cx="642.2" cy="644.6" r="1.8"/><circle cx="637.7" cy="648.4" r="1.8"/><circle cx="607.3" cy="658.3" r="1.8"/><circle cx="624.7" cy="655.6" r="1.8"/><circle cx="657.6" cy="652.6" r="1.8"/><circle cx="667.8" cy="660.1" r="1.8"/><circle cx="523.9" cy="665.0" r="1.8"/><circle cx="533.3" cy="663.3" r="1.8"/><circle cx="639.4" cy="668.3" r="1.8"/><circle cx="503.2" cy="677.0" r="1.8"/><circle cx="538.8" cy="675.0" r="1.8"/><circle cx="549.5" cy="679.2" r="1.8"/><circle cx="535.3" cy="686.7" r="1.8"/><circle cx="573.7" cy="685.5" r="1.8"/><circle cx="659.6" cy="676.3" r="1.8"/><circle cx="606.1" cy="702.4" r="1.8"/><circle cx="750.5" cy="522.7" r="1.8"/><circle cx="783.4" cy="524.0" r="1.8"/><circle cx="805.1" cy="524.5" r="1.8"/><circle cx="745.8" cy="538.2" r="1.8"/><circle cx="764.0" cy="533.9" r="1.8"/><circle cx="810.5" cy="539.7" r="1.8"/><circle cx="719.1" cy="548.9" r="1.8"/><circle cx="800.8" cy="545.1" r="1.8"/><circle cx="795.3" cy="551.4" r="1.8"/><circle cx="775.2" cy="554.4" r="1.8"/><circle cx="719.1" cy="557.6" r="1.8"/><circle cx="812.0" cy="558.3" r="1.8"/><circle cx="734.8" cy="577.0" r="1.8"/><circle cx="720.1" cy="583.3" r="1.8"/><circle cx="803.3" cy="569.6" r="1.8"/><circle cx="807.1" cy="574.5" r="1.8"/><circle cx="798.1" cy="578.3" r="1.8"/><circle cx="776.9" cy="584.0" r="1.8"/><circle cx="800.8" cy="586.7" r="1.8"/><circle cx="817.0" cy="575.8" r="1.8"/><circle cx="697.9" cy="596.2" r="1.8"/><circle cx="737.1" cy="595.0" r="1.8"/><circle cx="763.2" cy="593.2" r="1.8"/><circle cx="764.0" cy="597.0" r="1.8"/><circle cx="773.9" cy="602.7" r="1.8"/><circle cx="810.5" cy="601.2" r="1.8"/><circle cx="697.2" cy="624.4" r="1.8"/><circle cx="723.9" cy="631.4" r="1.8"/><circle cx="750.8" cy="623.2" r="1.8"/><circle cx="783.9" cy="625.2" r="1.8"/><circle cx="767.7" cy="635.9" r="1.8"/><circle cx="760.2" cy="640.6" r="1.8"/><circle cx="742.0" cy="643.4" r="1.8"/><circle cx="749.0" cy="646.4" r="1.8"/><circle cx="787.6" cy="643.9" r="1.8"/><circle cx="818.3" cy="611.0" r="1.8"/><circle cx="695.7" cy="662.6" r="1.8"/><circle cx="774.7" cy="666.3" r="1.8"/><circle cx="791.9" cy="669.5" r="1.8"/><circle cx="813.8" cy="671.3" r="1.8"/><circle cx="774.7" cy="682.0" r="1.8"/><circle cx="796.3" cy="681.0" r="1.8"/><circle cx="763.2" cy="688.7" r="1.8"/><circle cx="133.8" cy="706.5" r="1.8"/><circle cx="136.2" cy="704.7" r="1.8"/><circle cx="72.7" cy="715.0" r="1.8"/><circle cx="146.2" cy="714.5" r="1.8"/><circle cx="159.4" cy="721.4" r="1.8"/><circle cx="180.6" cy="720.2" r="1.8"/><circle cx="221.7" cy="712.2" r="1.8"/><circle cx="261.3" cy="716.0" r="1.8"/><circle cx="254.6" cy="722.2" r="1.8"/><circle cx="256.3" cy="730.7" r="1.8"/><circle cx="151.9" cy="726.4" r="1.8"/><circle cx="167.9" cy="735.1" r="1.8"/><circle cx="115.1" cy="731.9" r="1.8"/><circle cx="131.3" cy="729.9" r="1.8"/><circle cx="98.1" cy="738.9" r="1.8"/><circle cx="133.3" cy="750.1" r="1.8"/><circle cx="161.2" cy="750.3" r="1.8"/><circle cx="168.6" cy="752.6" r="1.8"/><circle cx="252.1" cy="748.3" r="1.8"/><circle cx="254.6" cy="748.8" r="1.8"/><circle cx="260.0" cy="748.1" r="1.8"/><circle cx="80.4" cy="761.3" r="1.8"/><circle cx="84.4" cy="766.8" r="1.8"/><circle cx="66.5" cy="776.2" r="1.8"/><circle cx="191.8" cy="770.0" r="1.8"/><circle cx="209.0" cy="769.5" r="1.8"/><circle cx="243.9" cy="774.2" r="1.8"/><circle cx="269.8" cy="764.5" r="1.8"/><circle cx="159.4" cy="777.0" r="1.8"/><circle cx="201.8" cy="782.0" r="1.8"/><circle cx="109.6" cy="787.2" r="1.8"/><circle cx="186.1" cy="790.7" r="1.8"/><circle cx="92.1" cy="795.7" r="1.8"/><circle cx="87.2" cy="803.2" r="1.8"/><circle cx="138.2" cy="806.0" r="1.8"/><circle cx="115.3" cy="810.0" r="1.8"/><circle cx="149.2" cy="812.7" r="1.8"/><circle cx="207.2" cy="810.0" r="1.8"/><circle cx="223.4" cy="813.4" r="1.8"/><circle cx="230.2" cy="803.5" r="1.8"/><circle cx="70.2" cy="826.4" r="1.8"/><circle cx="151.2" cy="822.2" r="1.8"/><circle cx="174.9" cy="823.9" r="1.8"/><circle cx="171.9" cy="828.1" r="1.8"/><circle cx="145.5" cy="829.1" r="1.8"/><circle cx="196.8" cy="829.1" r="1.8"/><circle cx="226.4" cy="822.9" r="1.8"/><circle cx="249.1" cy="828.1" r="1.8"/><circle cx="264.0" cy="822.2" r="1.8"/><circle cx="128.3" cy="837.1" r="1.8"/><circle cx="204.7" cy="839.4" r="1.8"/><circle cx="82.9" cy="844.3" r="1.8"/><circle cx="175.6" cy="843.8" r="1.8"/><circle cx="177.3" cy="844.3" r="1.8"/><circle cx="259.8" cy="851.1" r="1.8"/><circle cx="262.5" cy="850.3" r="1.8"/><circle cx="269.5" cy="859.8" r="1.8"/><circle cx="69.0" cy="869.0" r="1.8"/><circle cx="114.6" cy="873.0" r="1.8"/><circle cx="223.7" cy="868.3" r="1.8"/><circle cx="269.8" cy="875.0" r="1.8"/><circle cx="147.2" cy="887.9" r="1.8"/><circle cx="324.6" cy="722.2" r="1.8"/><circle cx="340.0" cy="728.9" r="1.8"/><circle cx="305.1" cy="737.6" r="1.8"/><circle cx="308.9" cy="739.6" r="1.8"/><circle cx="353.2" cy="742.1" r="1.8"/><circle cx="361.7" cy="752.1" r="1.8"/><circle cx="410.5" cy="726.9" r="1.8"/><circle cx="412.3" cy="733.4" r="1.8"/><circle cx="415.5" cy="735.9" r="1.8"/><circle cx="416.7" cy="738.9" r="1.8"/><circle cx="453.4" cy="722.2" r="1.8"/><circle cx="432.2" cy="748.1" r="1.8"/><circle cx="408.5" cy="757.6" r="1.8"/><circle cx="296.4" cy="772.5" r="1.8"/><circle cx="342.5" cy="776.2" r="1.8"/><circle cx="344.5" cy="769.3" r="1.8"/><circle cx="360.7" cy="771.8" r="1.8"/><circle cx="401.5" cy="771.3" r="1.8"/><circle cx="453.4" cy="767.5" r="1.8"/><circle cx="459.1" cy="763.8" r="1.8"/><circle cx="473.8" cy="769.8" r="1.8"/><circle cx="459.1" cy="785.7" r="1.8"/><circle cx="385.4" cy="788.0" r="1.8"/><circle cx="278.2" cy="791.9" r="1.8"/><circle cx="303.9" cy="794.2" r="1.8"/><circle cx="308.9" cy="793.7" r="1.8"/><circle cx="318.8" cy="803.2" r="1.8"/><circle cx="361.2" cy="805.2" r="1.8"/><circle cx="451.4" cy="805.2" r="1.8"/><circle cx="479.5" cy="801.5" r="1.8"/><circle cx="346.2" cy="811.0" r="1.8"/><circle cx="358.7" cy="816.4" r="1.8"/><circle cx="310.9" cy="818.4" r="1.8"/><circle cx="293.2" cy="820.9" r="1.8"/><circle cx="379.1" cy="827.6" r="1.8"/><circle cx="385.1" cy="828.1" r="1.8"/><circle cx="395.1" cy="831.9" r="1.8"/><circle cx="337.8" cy="834.4" r="1.8"/><circle cx="364.9" cy="836.9" r="1.8"/><circle cx="445.9" cy="838.9" r="1.8"/><circle cx="425.0" cy="842.6" r="1.8"/><circle cx="443.4" cy="844.3" r="1.8"/><circle cx="441.4" cy="846.3" r="1.8"/><circle cx="442.1" cy="854.3" r="1.8"/><circle cx="480.8" cy="846.3" r="1.8"/><circle cx="482.8" cy="862.0" r="1.8"/><circle cx="276.0" cy="849.6" r="1.8"/><circle cx="399.8" cy="860.8" r="1.8"/><circle cx="346.2" cy="863.8" r="1.8"/><circle cx="415.5" cy="873.0" r="1.8"/><circle cx="279.5" cy="875.7" r="1.8"/><circle cx="293.2" cy="881.2" r="1.8"/><circle cx="353.2" cy="877.7" r="1.8"/><circle cx="448.9" cy="889.2" r="1.8"/><circle cx="494.0" cy="712.7" r="1.8"/><circle cx="534.6" cy="707.7" r="1.8"/><circle cx="534.6" cy="710.0" r="1.8"/><circle cx="560.0" cy="705.2" r="1.8"/><circle cx="594.9" cy="713.2" r="1.8"/><circle cx="586.1" cy="720.9" r="1.8"/><circle cx="618.0" cy="720.4" r="1.8"/><circle cx="638.4" cy="709.5" r="1.8"/><circle cx="643.4" cy="705.2" r="1.8"/><circle cx="646.4" cy="714.7" r="1.8"/><circle cx="654.1" cy="709.5" r="1.8"/><circle cx="661.6" cy="711.5" r="1.8"/><circle cx="684.8" cy="706.5" r="1.8"/><circle cx="692.0" cy="717.0" r="1.8"/><circle cx="539.3" cy="723.9" r="1.8"/><circle cx="585.4" cy="730.2" r="1.8"/><circle cx="586.1" cy="731.9" r="1.8"/><circle cx="601.8" cy="733.9" r="1.8"/><circle cx="617.5" cy="731.4" r="1.8"/><circle cx="543.8" cy="739.4" r="1.8"/><circle cx="549.5" cy="740.6" r="1.8"/><circle cx="607.3" cy="740.6" r="1.8"/><circle cx="645.2" cy="740.1" r="1.8"/><circle cx="677.8" cy="728.4" r="1.8"/><circle cx="687.8" cy="746.8" r="1.8"/><circle cx="583.6" cy="756.3" r="1.8"/><circle cx="590.6" cy="757.6" r="1.8"/><circle cx="601.1" cy="760.8" r="1.8"/><circle cx="601.6" cy="763.3" r="1.8"/><circle cx="609.8" cy="757.6" r="1.8"/><circle cx="621.0" cy="763.8" r="1.8"/><circle cx="589.4" cy="781.7" r="1.8"/><circle cx="626.7" cy="786.2" r="1.8"/><circle cx="654.6" cy="780.7" r="1.8"/><circle cx="497.7" cy="791.2" r="1.8"/><circle cx="515.1" cy="791.2" r="1.8"/><circle cx="543.8" cy="792.7" r="1.8"/><circle cx="562.0" cy="795.2" r="1.8"/><circle cx="518.9" cy="796.7" r="1.8"/><circle cx="585.6" cy="803.2" r="1.8"/><circle cx="632.2" cy="812.0" r="1.8"/><circle cx="612.3" cy="817.2" r="1.8"/><circle cx="523.4" cy="816.9" r="1.8"/><circle cx="488.2" cy="820.2" r="1.8"/><circle cx="495.2" cy="823.9" r="1.8"/><circle cx="571.7" cy="823.9" r="1.8"/><circle cx="533.8" cy="832.9" r="1.8"/><circle cx="565.7" cy="834.6" r="1.8"/><circle cx="591.6" cy="835.1" r="1.8"/><circle cx="595.6" cy="831.9" r="1.8"/><circle cx="621.0" cy="832.6" r="1.8"/><circle cx="633.0" cy="835.9" r="1.8"/><circle cx="653.4" cy="835.9" r="1.8"/><circle cx="614.8" cy="845.6" r="1.8"/><circle cx="662.4" cy="844.1" r="1.8"/><circle cx="513.1" cy="852.6" r="1.8"/><circle cx="525.1" cy="850.6" r="1.8"/><circle cx="484.0" cy="862.5" r="1.8"/><circle cx="553.8" cy="861.8" r="1.8"/><circle cx="565.7" cy="867.5" r="1.8"/><circle cx="628.0" cy="859.5" r="1.8"/><circle cx="679.6" cy="868.8" r="1.8"/><circle cx="609.8" cy="881.2" r="1.8"/><circle cx="675.8" cy="880.2" r="1.8"/><circle cx="687.0" cy="879.2" r="1.8"/><circle cx="491.5" cy="884.4" r="1.8"/><circle cx="564.2" cy="885.2" r="1.8"/><circle cx="588.6" cy="887.7" r="1.8"/><circle cx="642.9" cy="885.7" r="1.8"/><circle cx="505.7" cy="891.7" r="1.8"/><circle cx="698.4" cy="715.2" r="1.8"/><circle cx="711.9" cy="724.7" r="1.8"/><circle cx="721.6" cy="723.4" r="1.8"/><circle cx="712.4" cy="744.4" r="1.8"/><circle cx="722.4" cy="740.1" r="1.8"/><circle cx="719.6" cy="752.6" r="1.8"/><circle cx="709.2" cy="764.5" r="1.8"/><circle cx="704.2" cy="768.3" r="1.8"/><circle cx="704.9" cy="773.3" r="1.8"/><circle cx="713.6" cy="783.7" r="1.8"/><circle cx="729.1" cy="785.7" r="1.8"/><circle cx="750.5" cy="789.9" r="1.8"/><circle cx="764.7" cy="796.7" r="1.8"/><circle cx="758.5" cy="781.2" r="1.8"/><circle cx="775.2" cy="783.7" r="1.8"/><circle cx="783.4" cy="776.2" r="1.8"/><circle cx="769.7" cy="736.9" r="1.8"/><circle cx="764.0" cy="725.2" r="1.8"/><circle cx="783.4" cy="728.9" r="1.8"/><circle cx="793.1" cy="728.4" r="1.8"/><circle cx="802.8" cy="713.2" r="1.8"/><circle cx="810.5" cy="713.5" r="1.8"/><circle cx="809.5" cy="726.4" r="1.8"/><circle cx="801.3" cy="756.3" r="1.8"/><circle cx="810.5" cy="758.1" r="1.8"/><circle cx="701.7" cy="816.4" r="1.8"/><circle cx="701.7" cy="827.6" r="1.8"/><circle cx="702.9" cy="845.3" r="1.8"/><circle cx="738.5" cy="844.8" r="1.8"/><circle cx="728.3" cy="864.8" r="1.8"/><circle cx="778.9" cy="802.0" r="1.8"/><circle cx="793.1" cy="812.0" r="1.8"/><circle cx="789.4" cy="817.7" r="1.8"/><circle cx="807.6" cy="824.4" r="1.8"/><circle cx="808.0" cy="839.4" r="1.8"/><circle cx="796.3" cy="854.3" r="1.8"/><circle cx="815.8" cy="853.3" r="1.8"/><circle cx="712.4" cy="878.7" r="1.8"/><circle cx="714.1" cy="877.7" r="1.8"/><circle cx="739.0" cy="881.2" r="1.8"/><circle cx="761.0" cy="882.0" r="1.8"/><circle cx="805.8" cy="883.7" r="1.8"/><circle cx="805.8" cy="889.2" r="1.8"/><circle cx="815.8" cy="886.2" r="1.8"/>
<line x1="64.00" y1="48.0" x2="64.00" y2="35.2" stroke="#333" stroke-width="1.1"/>
<line x1="64.00" y1="426.5" x2="64.00" y2="439.3" stroke="#333" stroke-width="1.1"/>
<line x1="85.04" y1="48.0" x2="85.04" y2="41.5" stroke="#333" stroke-width="1.1"/>
<line x1="85.04" y1="426.5" x2="85.04" y2="433.0" stroke="#333" stroke-width="1.1"/>
<line x1="106.09" y1="48.0" x2="106.09" y2="41.5" stroke="#333" stroke-width="1.1"/>
<line x1="106.09" y1="426.5" x2="106.09" y2="433.0" stroke="#333" stroke-width="1.1"/>
<line x1="127.13" y1="48.0" x2="127.13" y2="35.2" stroke="#333" stroke-width="1.1"/>
<line x1="127.13" y1="426.5" x2="127.13" y2="439.3" stroke="#333" stroke-width="1.1"/>
<line x1="148.18" y1="48.0" x2="148.18" y2="41.5" stroke="#333" stroke-width="1.1"/>
<line x1="148.18" y1="426.5" x2="148.18" y2="433.0" stroke="#333" stroke-width="1.1"/>
<line x1="169.22" y1="48.0" x2="169.22" y2="41.5" stroke="#333" stroke-width="1.1"/>
<line x1="169.22" y1="426.5" x2="169.22" y2="433.0" stroke="#333" stroke-width="1.1"/>
<line x1="190.27" y1="48.0" x2="190.27" y2="35.2" stroke="#333" stroke-width="1.1"/>
<line x1="190.27" y1="426.5" x2="190.27" y2="439.3" stroke="#333" stroke-width="1.1"/>
<line x1="211.31" y1="48.0" x2="211.31" y2="41.5" stroke="#333" stroke-width="1.1"/>
<line x1="211.31" y1="426.5" x2="211.31" y2="433.0" stroke="#333" stroke-width="1.1"/>
<line x1="232.36" y1="48.0" x2="232.36" y2="41.5" stroke="#333" stroke-width="1.1"/>
<line x1="232.36" y1="426.5" x2="232.36" y2="433.0" stroke="#333" stroke-width="1.1"/>
<line x1="253.40" y1="48.0" x2="253.40" y2="35.2" stroke="#333" stroke-width="1.1"/>
<line x1="253.40" y1="426.5" x2="253.40" y2="439.3" stroke="#333" stroke-width="1.1"/>
<line x1="274.44" y1="48.0" x2="274.44" y2="41.5" stroke="#333" stroke-width="1.1"/>
<line x1="274.44" y1="426.5" x2="274.44" y2="433.0" stroke="#333" stroke-width="1.1"/>
<line x1="295.49" y1="48.0" x2="295.49" y2="41.5" stroke="#333" stroke-width="1.1"/>
<line x1="295.49" y1="426.5" x2="295.49" y2="433.0" stroke="#333" stroke-width="1.1"/>
<line x1="316.53" y1="48.0" x2="316.53" y2="35.2" stroke="#333" stroke-width="1.1"/>
<line x1="316.53" y1="426.5" x2="316.53" y2="439.3" stroke="#333" stroke-width="1.1"/>
<line x1="337.58" y1="48.0" x2="337.58" y2="41.5" stroke="#333" stroke-width="1.1"/>
<line x1="337.58" y1="426.5" x2="337.58" y2="433.0" stroke="#333" stroke-width="1.1"/>
<line x1="358.62" y1="48.0" x2="358.62" y2="41.5" stroke="#333" stroke-width="1.1"/>
<line x1="358.62" y1="426.5" x2="358.62" y2="433.0" stroke="#333" stroke-width="1.1"/>
<line x1="379.67" y1="48.0" x2="379.67" y2="35.2" stroke="#333" stroke-width="1.1"/>
<line x1="379.67" y1="426.5" x2="379.67" y2="439.3" stroke="#333" stroke-width="1.1"/>
<line x1="400.71" y1="48.0" x2="400.71" y2="41.5" stroke="#333" stroke-width="1.1"/>
<line x1="400.71" y1="426.5" x2="400.71" y2="433.0" stroke="#333" stroke-width="1.1"/>
<line x1="421.76" y1="48.0" x2="421.76" y2="41.5" stroke="#333" stroke-width="1.1"/>
<line x1="421.76" y1="426.5" x2="421.76" y2="433.0" stroke="#333" stroke-width="1.1"/>
<line x1="442.80" y1="48.0" x2="442.80" y2="35.2" stroke="#333" stroke-width="1.1"/>
<line x1="442.80" y1="426.5" x2="442.80" y2="439.3" stroke="#333" stroke-width="1.1"/>
<line x1="463.84" y1="48.0" x2="463.84" y2="41.5" stroke="#333" stroke-width="1.1"/>
<line x1="463.84" y1="426.5" x2="463.84" y2="433.0" stroke="#333" stroke-width="1.1"/>
<line x1="484.89" y1="48.0" x2="484.89" y2="41.5" stroke="#333" stroke-width="1.1"/>
<line x1="484.89" y1="426.5" x2="484.89" y2="433.0" stroke="#333" stroke-width="1.1"/>
<line x1="505.93" y1="48.0" x2="505.93" y2="35.2" stroke="#333" stroke-width="1.1"/>
<line x1="505.93" y1="426.5" x2="505.93" y2="439.3" stroke="#333" stroke-width="1.1"/>
<line x1="526.98" y1="48.0" x2="526.98" y2="41.5" stroke="#333" stroke-width="1.1"/>
<line x1="526.98" y1="426.5" x2="526.98" y2="433.0" stroke="#333" stroke-width="1.1"/>
<line x1="548.02" y1="48.0" x2="548.02" y2="41.5" stroke="#333" stroke-width="1.1"/>
<line x1="548.02" y1="426.5" x2="548.02" y2="433.0" stroke="#333" stroke-width="1.1"/>
<line x1="569.07" y1="48.0" x2="569.07" y2="35.2" stroke="#333" stroke-width="1.1"/>
<line x1="569.07" y1="426.5" x2="569.07" y2="439.3" stroke="#333" stroke-width="1.1"/>
<line x1="590.11" y1="48.0" x2="590.11" y2="41.5" stroke="#333" stroke-width="1.1"/>
<line x1="590.11" y1="426.5" x2="590.11" y2="433.0" stroke="#333" stroke-width="1.1"/>
<line x1="611.16" y1="48.0" x2="611.16" y2="41.5" stroke="#333" stroke-width="1.1"/>
<line x1="611.16" y1="426.5" x2="611.16" y2="433.0" stroke="#333" stroke-width="1.1"/>
<line x1="632.20" y1="48.0" x2="632.20" y2="35.2" stroke="#333" stroke-width="1.1"/>
<line x1="632.20" y1="426.5" x2="632.20" y2="439.3" stroke="#333" stroke-width="1.1"/>
<line x1="653.24" y1="48.0" x2="653.24" y2="41.5" stroke="#333" stroke-width="1.1"/>
<line x1="653.24" y1="426.5" x2="653.24" y2="433.0" stroke="#333" stroke-width="1.1"/>
<line x1="674.29" y1="48.0" x2="674.29" y2="41.5" stroke="#333" stroke-width="1.1"/>
<line x1="674.29" y1="426.5" x2="674.29" y2="433.0" stroke="#333" stroke-width="1.1"/>
<line x1="695.33" y1="48.0" x2="695.33" y2="35.2" stroke="#333" stroke-width="1.1"/>
<line x1="695.33" y1="426.5" x2="695.33" y2="439.3" stroke="#333" stroke-width="1.1"/>
<line x1="716.38" y1="48.0" x2="716.38" y2="41.5" stroke="#333" stroke-width="1.1"/>
<line x1="716.38" y1="426.5" x2="716.38" y2="433.0" stroke="#333" stroke-width="1.1"/>
<line x1="737.42" y1="48.0" x2="737.42" y2="41.5" stroke="#333" stroke-width="1.1"/>
<line x1="737.42" y1="426.5" x2="737.42" y2="433.0" stroke="#333" stroke-width="1.1"/>
<line x1="758.47" y1="48.0" x2="758.47" y2="35.2" stroke="#333" stroke-width="1.1"/>
<line x1="758.47" y1="426.5" x2="758.47" y2="439.3" stroke="#333" stroke-width="1.1"/>
<line x1="779.51" y1="48.0" x2="779.51" y2="41.5" stroke="#333" stroke-width="1.1"/>
<line x1="779.51" y1="426.5" x2="779.51" y2="433.0" stroke="#333" stroke-width="1.1"/>
<line x1="800.56" y1="48.0" x2="800.56" y2="41.5" stroke="#333" stroke-width="1.1"/>
<line x1="800.56" y1="426.5" x2="800.56" y2="433.0" stroke="#333" stroke-width="1.1"/>
<line x1="821.60" y1="48.0" x2="821.60" y2="35.2" stroke="#333" stroke-width="1.1"/>
<line x1="821.60" y1="426.5" x2="821.60" y2="439.3" stroke="#333" stroke-width="1.1"/>
<line x1="64.0" y1="426.50" x2="51.2" y2="426.50" stroke="#333" stroke-width="1.1"/>
<line x1="821.6" y1="426.50" x2="834.4" y2="426.50" stroke="#333" stroke-width="1.1"/>
<line x1="64.0" y1="405.47" x2="57.5" y2="405.47" stroke="#333" stroke-width="1.1"/>
<line x1="821.6" y1="405.47" x2="828.1" y2="405.47" stroke="#333" stroke-width="1.1"/>
<line x1="64.0" y1="384.44" x2="57.5" y2="384.44" stroke="#333" stroke-width="1.1"/>
<line x1="821.6" y1="384.44" x2="828.1" y2="384.44" stroke="#333" stroke-width="1.1"/>
<line x1="64.0" y1="363.42" x2="51.2" y2="363.42" stroke="#333" stroke-width="1.1"/>
<line x1="821.6" y1="363.42" x2="834.4" y2="363.42" stroke="#333" stroke-width="1.1"/>
<line x1="64.0" y1="342.39" x2="57.5" y2="342.39" stroke="#333" stroke-width="1.1"/>
<line x1="821.6" y1="342.39" x2="828.1" y2="342.39" stroke="#333" stroke-width="1.1"/>
<line x1="64.0" y1="321.36" x2="57.5" y2="321.36" stroke="#333" stroke-width="1.1"/>
<line x1="821.6" y1="321.36" x2="828.1" y2="321.36" stroke="#333" stroke-width="1.1"/>
<line x1="64.0" y1="300.33" x2="51.2" y2="300.33" stroke="#333" stroke-width="1.1"/>
<line x1="821.6" y1="300.33" x2="834.4" y2="300.33" stroke="#333" stroke-width="1.1"/>
<line x1="64.0" y1="279.31" x2="57.5" y2="279.31" stroke="#333" stroke-width="1.1"/>
<line x1="821.6" y1="279.31" x2="828.1" y2="279.31" stroke="#333" stroke-width="1.1"/>
<line x1="64.0" y1="258.28" x2="57.5" y2="258.28" stroke="#333" stroke-width="1.1"/>
<line x1="821.6" y1="258.28" x2="828.1" y2="258.28" stroke="#333" stroke-width="1.1"/>
<line x1="64.0" y1="237.25" x2="51.2" y2="237.25" stroke="#333" stroke-width="1.1"/>
<line x1="821.6" y1="237.25" x2="834.4" y2="237.25" stroke="#333" stroke-width="1.1"/>
<line x1="64.0" y1="216.22" x2="57.5" y2="216.22" stroke="#333" stroke-width="1.1"/>
<line x1="821.6" y1="216.22" x2="828.1" y2="216.22" stroke="#333" stroke-width="1.1"/>
<line x1="64.0" y1="195.19" x2="57.5" y2="195.19" stroke="#333" stroke-width="1.1"/>
<line x1="821.6" y1="195.19" x2="828.1" y2="195.19" stroke="#333" stroke-width="1.1"/>
<line x1="64.0" y1="174.17" x2="51.2" y2="174.17" stroke="#333" stroke-width="1.1"/>
<line x1="821.6" y1="174.17" x2="834.4" y2="174.17" stroke="#333" stroke-width="1.1"/>
<line x1="64.0" y1="153.14" x2="57.5" y2="153.14" stroke="#333" stroke-width="1.1"/>
<line x1="821.6" y1="153.14" x2="828.1" y2="153.14" stroke="#333" stroke-width="1.1"/>
<line x1="64.0" y1="132.11" x2="57.5" y2="132.11" stroke="#333" stroke-width="1.1"/>
<line x1="821.6" y1="132.11" x2="828.1" y2="132.11" stroke="#333" stroke-width="1.1"/>
<line x1="64.0" y1="111.08" x2="51.2" y2="111.08" stroke="#333" stroke-width="1.1"/>
<line x1="821.6" y1="111.08" x2="834.4" y2="111.08" stroke="#333" stroke-width="1.1"/>
<line x1="64.0" y1="90.06" x2="57.5" y2="90.06" stroke="#333" stroke-width="1.1"/>
<line x1="821.6" y1="90.06" x2="828.1" y2="90.06" stroke="#333" stroke-width="1.1"/>
<line x1="64.0" y1="69.03" x2="57.5" y2="69.03" stroke="#333" stroke-width="1.1"/>
<line x1="821.6" y1="69.03" x2="828.1" y2="69.03" stroke="#333" stroke-width="1.1"/>
<line x1="64.0" y1="48.00" x2="51.2" y2="48.00" stroke="#333" stroke-width="1.1"/>
<line x1="821.6" y1="48.00" x2="834.4" y2="48.00" stroke="#333" stroke-width="1.1"/>
<rect x="64.0" y="48.0" width="757.60" height="378.50" fill="none" stroke="#111" stroke-width="1.5"/>
<text x="41" y="54.10" text-anchor="end" font-size="18.5">90N</text>
<text x="41" y="117.18" text-anchor="end" font-size="18.5">60N</text>
<text x="41" y="180.27" text-anchor="end" font-size="18.5">30N</text>
<text x="41" y="243.35" text-anchor="end" font-size="18.5">0</text>
<text x="41" y="306.43" text-anchor="end" font-size="18.5">30S</text>
<text x="41" y="369.52" text-anchor="end" font-size="18.5">60S</text>
<text x="41" y="432.60" text-anchor="end" font-size="18.5">90S</text>
<text x="64.00" y="465.10" text-anchor="middle" font-size="18.5">0</text>
<text x="127.13" y="465.10" text-anchor="middle" font-size="18.5">30E</text>
<text x="190.27" y="465.10" text-anchor="middle" font-size="18.5">60E</text>
<text x="253.40" y="465.10" text-anchor="middle" font-size="18.5">90E</text>
<text x="316.53" y="465.10" text-anchor="middle" font-size="18.5">120E</text>
<text x="379.67" y="465.10" text-anchor="middle" font-size="18.5">150E</text>
<text x="442.80" y="465.10" text-anchor="middle" font-size="18.5">180</text>
<text x="505.93" y="465.10" text-anchor="middle" font-size="18.5">150W</text>
<text x="569.07" y="465.10" text-anchor="middle" font-size="18.5">120W</text>
<text x="632.20" y="465.10" text-anchor="middle" font-size="18.5">90W</text>
<text x="695.33" y="465.10" text-anchor="middle" font-size="18.5">60W</text>
<text x="758.47" y="465.10" text-anchor="middle" font-size="18.5">30W</text>
<text x="821.60" y="465.10" text-anchor="middle" font-size="18.5">0</text>
<line x1="64.00" y1="514.0" x2="64.00" y2="501.2" stroke="#333" stroke-width="1.1"/>
<line x1="64.00" y1="892.4" x2="64.00" y2="905.1999999999999" stroke="#333" stroke-width="1.1"/>
<line x1="85.04" y1="514.0" x2="85.04" y2="507.5" stroke="#333" stroke-width="1.1"/>
<line x1="85.04" y1="892.4" x2="85.04" y2="898.9" stroke="#333" stroke-width="1.1"/>
<line x1="106.09" y1="514.0" x2="106.09" y2="507.5" stroke="#333" stroke-width="1.1"/>
<line x1="106.09" y1="892.4" x2="106.09" y2="898.9" stroke="#333" stroke-width="1.1"/>
<line x1="127.13" y1="514.0" x2="127.13" y2="501.2" stroke="#333" stroke-width="1.1"/>
<line x1="127.13" y1="892.4" x2="127.13" y2="905.1999999999999" stroke="#333" stroke-width="1.1"/>
<line x1="148.18" y1="514.0" x2="148.18" y2="507.5" stroke="#333" stroke-width="1.1"/>
<line x1="148.18" y1="892.4" x2="148.18" y2="898.9" stroke="#333" stroke-width="1.1"/>
<line x1="169.22" y1="514.0" x2="169.22" y2="507.5" stroke="#333" stroke-width="1.1"/>
<line x1="169.22" y1="892.4" x2="169.22" y2="898.9" stroke="#333" stroke-width="1.1"/>
<line x1="190.27" y1="514.0" x2="190.27" y2="501.2" stroke="#333" stroke-width="1.1"/>
<line x1="190.27" y1="892.4" x2="190.27" y2="905.1999999999999" stroke="#333" stroke-width="1.1"/>
<line x1="211.31" y1="514.0" x2="211.31" y2="507.5" stroke="#333" stroke-width="1.1"/>
<line x1="211.31" y1="892.4" x2="211.31" y2="898.9" stroke="#333" stroke-width="1.1"/>
<line x1="232.36" y1="514.0" x2="232.36" y2="507.5" stroke="#333" stroke-width="1.1"/>
<line x1="232.36" y1="892.4" x2="232.36" y2="898.9" stroke="#333" stroke-width="1.1"/>
<line x1="253.40" y1="514.0" x2="253.40" y2="501.2" stroke="#333" stroke-width="1.1"/>
<line x1="253.40" y1="892.4" x2="253.40" y2="905.1999999999999" stroke="#333" stroke-width="1.1"/>
<line x1="274.44" y1="514.0" x2="274.44" y2="507.5" stroke="#333" stroke-width="1.1"/>
<line x1="274.44" y1="892.4" x2="274.44" y2="898.9" stroke="#333" stroke-width="1.1"/>
<line x1="295.49" y1="514.0" x2="295.49" y2="507.5" stroke="#333" stroke-width="1.1"/>
<line x1="295.49" y1="892.4" x2="295.49" y2="898.9" stroke="#333" stroke-width="1.1"/>
<line x1="316.53" y1="514.0" x2="316.53" y2="501.2" stroke="#333" stroke-width="1.1"/>
<line x1="316.53" y1="892.4" x2="316.53" y2="905.1999999999999" stroke="#333" stroke-width="1.1"/>
<line x1="337.58" y1="514.0" x2="337.58" y2="507.5" stroke="#333" stroke-width="1.1"/>
<line x1="337.58" y1="892.4" x2="337.58" y2="898.9" stroke="#333" stroke-width="1.1"/>
<line x1="358.62" y1="514.0" x2="358.62" y2="507.5" stroke="#333" stroke-width="1.1"/>
<line x1="358.62" y1="892.4" x2="358.62" y2="898.9" stroke="#333" stroke-width="1.1"/>
<line x1="379.67" y1="514.0" x2="379.67" y2="501.2" stroke="#333" stroke-width="1.1"/>
<line x1="379.67" y1="892.4" x2="379.67" y2="905.1999999999999" stroke="#333" stroke-width="1.1"/>
<line x1="400.71" y1="514.0" x2="400.71" y2="507.5" stroke="#333" stroke-width="1.1"/>
<line x1="400.71" y1="892.4" x2="400.71" y2="898.9" stroke="#333" stroke-width="1.1"/>
<line x1="421.76" y1="514.0" x2="421.76" y2="507.5" stroke="#333" stroke-width="1.1"/>
<line x1="421.76" y1="892.4" x2="421.76" y2="898.9" stroke="#333" stroke-width="1.1"/>
<line x1="442.80" y1="514.0" x2="442.80" y2="501.2" stroke="#333" stroke-width="1.1"/>
<line x1="442.80" y1="892.4" x2="442.80" y2="905.1999999999999" stroke="#333" stroke-width="1.1"/>
<line x1="463.84" y1="514.0" x2="463.84" y2="507.5" stroke="#333" stroke-width="1.1"/>
<line x1="463.84" y1="892.4" x2="463.84" y2="898.9" stroke="#333" stroke-width="1.1"/>
<line x1="484.89" y1="514.0" x2="484.89" y2="507.5" stroke="#333" stroke-width="1.1"/>
<line x1="484.89" y1="892.4" x2="484.89" y2="898.9" stroke="#333" stroke-width="1.1"/>
<line x1="505.93" y1="514.0" x2="505.93" y2="501.2" stroke="#333" stroke-width="1.1"/>
<line x1="505.93" y1="892.4" x2="505.93" y2="905.1999999999999" stroke="#333" stroke-width="1.1"/>
<line x1="526.98" y1="514.0" x2="526.98" y2="507.5" stroke="#333" stroke-width="1.1"/>
<line x1="526.98" y1="892.4" x2="526.98" y2="898.9" stroke="#333" stroke-width="1.1"/>
<line x1="548.02" y1="514.0" x2="548.02" y2="507.5" stroke="#333" stroke-width="1.1"/>
<line x1="548.02" y1="892.4" x2="548.02" y2="898.9" stroke="#333" stroke-width="1.1"/>
<line x1="569.07" y1="514.0" x2="569.07" y2="501.2" stroke="#333" stroke-width="1.1"/>
<line x1="569.07" y1="892.4" x2="569.07" y2="905.1999999999999" stroke="#333" stroke-width="1.1"/>
<line x1="590.11" y1="514.0" x2="590.11" y2="507.5" stroke="#333" stroke-width="1.1"/>
<line x1="590.11" y1="892.4" x2="590.11" y2="898.9" stroke="#333" stroke-width="1.1"/>
<line x1="611.16" y1="514.0" x2="611.16" y2="507.5" stroke="#333" stroke-width="1.1"/>
<line x1="611.16" y1="892.4" x2="611.16" y2="898.9" stroke="#333" stroke-width="1.1"/>
<line x1="632.20" y1="514.0" x2="632.20" y2="501.2" stroke="#333" stroke-width="1.1"/>
<line x1="632.20" y1="892.4" x2="632.20" y2="905.1999999999999" stroke="#333" stroke-width="1.1"/>
<line x1="653.24" y1="514.0" x2="653.24" y2="507.5" stroke="#333" stroke-width="1.1"/>
<line x1="653.24" y1="892.4" x2="653.24" y2="898.9" stroke="#333" stroke-width="1.1"/>
<line x1="674.29" y1="514.0" x2="674.29" y2="507.5" stroke="#333" stroke-width="1.1"/>
<line x1="674.29" y1="892.4" x2="674.29" y2="898.9" stroke="#333" stroke-width="1.1"/>
<line x1="695.33" y1="514.0" x2="695.33" y2="501.2" stroke="#333" stroke-width="1.1"/>
<line x1="695.33" y1="892.4" x2="695.33" y2="905.1999999999999" stroke="#333" stroke-width="1.1"/>
<line x1="716.38" y1="514.0" x2="716.38" y2="507.5" stroke="#333" stroke-width="1.1"/>
<line x1="716.38" y1="892.4" x2="716.38" y2="898.9" stroke="#333" stroke-width="1.1"/>
<line x1="737.42" y1="514.0" x2="737.42" y2="507.5" stroke="#333" stroke-width="1.1"/>
<line x1="737.42" y1="892.4" x2="737.42" y2="898.9" stroke="#333" stroke-width="1.1"/>
<line x1="758.47" y1="514.0" x2="758.47" y2="501.2" stroke="#333" stroke-width="1.1"/>
<line x1="758.47" y1="892.4" x2="758.47" y2="905.1999999999999" stroke="#333" stroke-width="1.1"/>
<line x1="779.51" y1="514.0" x2="779.51" y2="507.5" stroke="#333" stroke-width="1.1"/>
<line x1="779.51" y1="892.4" x2="779.51" y2="898.9" stroke="#333" stroke-width="1.1"/>
<line x1="800.56" y1="514.0" x2="800.56" y2="507.5" stroke="#333" stroke-width="1.1"/>
<line x1="800.56" y1="892.4" x2="800.56" y2="898.9" stroke="#333" stroke-width="1.1"/>
<line x1="821.60" y1="514.0" x2="821.60" y2="501.2" stroke="#333" stroke-width="1.1"/>
<line x1="821.60" y1="892.4" x2="821.60" y2="905.1999999999999" stroke="#333" stroke-width="1.1"/>
<line x1="64.0" y1="892.50" x2="51.2" y2="892.50" stroke="#333" stroke-width="1.1"/>
<line x1="821.6" y1="892.50" x2="834.4" y2="892.50" stroke="#333" stroke-width="1.1"/>
<line x1="64.0" y1="871.47" x2="57.5" y2="871.47" stroke="#333" stroke-width="1.1"/>
<line x1="821.6" y1="871.47" x2="828.1" y2="871.47" stroke="#333" stroke-width="1.1"/>
<line x1="64.0" y1="850.44" x2="57.5" y2="850.44" stroke="#333" stroke-width="1.1"/>
<line x1="821.6" y1="850.44" x2="828.1" y2="850.44" stroke="#333" stroke-width="1.1"/>
<line x1="64.0" y1="829.42" x2="51.2" y2="829.42" stroke="#333" stroke-width="1.1"/>
<line x1="821.6" y1="829.42" x2="834.4" y2="829.42" stroke="#333" stroke-width="1.1"/>
<line x1="64.0" y1="808.39" x2="57.5" y2="808.39" stroke="#333" stroke-width="1.1"/>
<line x1="821.6" y1="808.39" x2="828.1" y2="808.39" stroke="#333" stroke-width="1.1"/>
<line x1="64.0" y1="787.36" x2="57.5" y2="787.36" stroke="#333" stroke-width="1.1"/>
<line x1="821.6" y1="787.36" x2="828.1" y2="787.36" stroke="#333" stroke-width="1.1"/>
<line x1="64.0" y1="766.33" x2="51.2" y2="766.33" stroke="#333" stroke-width="1.1"/>
<line x1="821.6" y1="766.33" x2="834.4" y2="766.33" stroke="#333" stroke-width="1.1"/>
<line x1="64.0" y1="745.31" x2="57.5" y2="745.31" stroke="#333" stroke-width="1.1"/>
<line x1="821.6" y1="745.31" x2="828.1" y2="745.31" stroke="#333" stroke-width="1.1"/>
<line x1="64.0" y1="724.28" x2="57.5" y2="724.28" stroke="#333" stroke-width="1.1"/>
<line x1="821.6" y1="724.28" x2="828.1" y2="724.28" stroke="#333" stroke-width="1.1"/>
<line x1="64.0" y1="703.25" x2="51.2" y2="703.25" stroke="#333" stroke-width="1.1"/>
<line x1="821.6" y1="703.25" x2="834.4" y2="703.25" stroke="#333" stroke-width="1.1"/>
<line x1="64.0" y1="682.22" x2="57.5" y2="682.22" stroke="#333" stroke-width="1.1"/>
<line x1="821.6" y1="682.22" x2="828.1" y2="682.22" stroke="#333" stroke-width="1.1"/>
<line x1="64.0" y1="661.19" x2="57.5" y2="661.19" stroke="#333" stroke-width="1.1"/>
<line x1="821.6" y1="661.19" x2="828.1" y2="661.19" stroke="#333" stroke-width="1.1"/>
<line x1="64.0" y1="640.17" x2="51.2" y2="640.17" stroke="#333" stroke-width="1.1"/>
<line x1="821.6" y1="640.17" x2="834.4" y2="640.17" stroke="#333" stroke-width="1.1"/>
<line x1="64.0" y1="619.14" x2="57.5" y2="619.14" stroke="#333" stroke-width="1.1"/>
<line x1="821.6" y1="619.14" x2="828.1" y2="619.14" stroke="#333" stroke-width="1.1"/>
<line x1="64.0" y1="598.11" x2="57.5" y2="598.11" stroke="#333" stroke-width="1.1"/>
<line x1="821.6" y1="598.11" x2="828.1" y2="598.11" stroke="#333" stroke-width="1.1"/>
<line x1="64.0" y1="577.08" x2="51.2" y2="577.08" stroke="#333" stroke-width="1.1"/>
<line x1="821.6" y1="577.08" x2="834.4" y2="577.08" stroke="#333" stroke-width="1.1"/>
<line x1="64.0" y1="556.06" x2="57.5" y2="556.06" stroke="#333" stroke-width="1.1"/>
<line x1="821.6" y1="556.06" x2="828.1" y2="556.06" stroke="#333" stroke-width="1.1"/>
<line x1="64.0" y1="535.03" x2="57.5" y2="535.03" stroke="#333" stroke-width="1.1"/>
<line x1="821.6" y1="535.03" x2="828.1" y2="535.03" stroke="#333" stroke-width="1.1"/>
<line x1="64.0" y1="514.00" x2="51.2" y2="514.00" stroke="#333" stroke-width="1.1"/>
<line x1="821.6" y1="514.00" x2="834.4" y2="514.00" stroke="#333" stroke-width="1.1"/>
<rect x="64.0" y="514.0" width="757.60" height="378.40" fill="none" stroke="#111" stroke-width="1.5"/>
<text x="41" y="520.10" text-anchor="end" font-size="18.5">90N</text>
<text x="41" y="583.18" text-anchor="end" font-size="18.5">60N</text>
<text x="41" y="646.27" text-anchor="end" font-size="18.5">30N</text>
<text x="41" y="709.35" text-anchor="end" font-size="18.5">0</text>
<text x="41" y="772.43" text-anchor="end" font-size="18.5">30S</text>
<text x="41" y="835.52" text-anchor="end" font-size="18.5">60S</text>
<text x="41" y="898.60" text-anchor="end" font-size="18.5">90S</text>
<text x="64.00" y="931.00" text-anchor="middle" font-size="18.5">0</text>
<text x="127.13" y="931.00" text-anchor="middle" font-size="18.5">30E</text>
<text x="190.27" y="931.00" text-anchor="middle" font-size="18.5">60E</text>
<text x="253.40" y="931.00" text-anchor="middle" font-size="18.5">90E</text>
<text x="316.53" y="931.00" text-anchor="middle" font-size="18.5">120E</text>
<text x="379.67" y="931.00" text-anchor="middle" font-size="18.5">150E</text>
<text x="442.80" y="931.00" text-anchor="middle" font-size="18.5">180</text>
<text x="505.93" y="931.00" text-anchor="middle" font-size="18.5">150W</text>
<text x="569.07" y="931.00" text-anchor="middle" font-size="18.5">120W</text>
<text x="632.20" y="931.00" text-anchor="middle" font-size="18.5">90W</text>
<text x="695.33" y="931.00" text-anchor="middle" font-size="18.5">60W</text>
<text x="758.47" y="931.00" text-anchor="middle" font-size="18.5">30W</text>
<text x="821.60" y="931.00" text-anchor="middle" font-size="18.5">0</text>
<text x="62.2" y="28.5" font-size="22">Sea Level Pressure</text>
<text x="442.8" y="24.3" text-anchor="middle" font-size="22">Original grid</text>
<text x="821.6" y="28.0" text-anchor="end" font-size="22">millibars</text>
<text x="442.8" y="494.4" text-anchor="middle" font-size="22">NATGRID: N=500</text>
<rect x="13.30" y="955.0" width="51.00" height="29.5" fill="#9370db" stroke="#333" stroke-width="0.8"/>
<rect x="64.30" y="955.0" width="51.00" height="29.5" fill="#0000c8" stroke="#333" stroke-width="0.8"/>
<rect x="115.30" y="955.0" width="51.00" height="29.5" fill="#3c64e6" stroke="#333" stroke-width="0.8"/>
<rect x="166.30" y="955.0" width="51.00" height="29.5" fill="#789bf2" stroke="#333" stroke-width="0.8"/>
<rect x="217.30" y="955.0" width="51.00" height="29.5" fill="#b0e0e6" stroke="#333" stroke-width="0.8"/>
<rect x="268.30" y="955.0" width="51.00" height="29.5" fill="#20b2aa" stroke="#333" stroke-width="0.8"/>
<rect x="319.30" y="955.0" width="51.00" height="29.5" fill="#9acd32" stroke="#333" stroke-width="0.8"/>
<rect x="370.30" y="955.0" width="51.00" height="29.5" fill="#2e8b57" stroke="#333" stroke-width="0.8"/>
<rect x="421.30" y="955.0" width="51.00" height="29.5" fill="#f3e4bc" stroke="#333" stroke-width="0.8"/>
<rect x="472.30" y="955.0" width="51.00" height="29.5" fill="#deb887" stroke="#333" stroke-width="0.8"/>
<rect x="523.30" y="955.0" width="51.00" height="29.5" fill="#ffe100" stroke="#333" stroke-width="0.8"/>
<rect x="574.30" y="955.0" width="51.00" height="29.5" fill="#ffa500" stroke="#333" stroke-width="0.8"/>
<rect x="625.30" y="955.0" width="51.00" height="29.5" fill="#ff4500" stroke="#333" stroke-width="0.8"/>
<rect x="676.30" y="955.0" width="51.00" height="29.5" fill="#b22222" stroke="#333" stroke-width="0.8"/>
<rect x="727.30" y="955.0" width="51.00" height="29.5" fill="#ffb6c1" stroke="#333" stroke-width="0.8"/>
<rect x="778.30" y="955.0" width="51.00" height="29.5" fill="#ff1493" stroke="#333" stroke-width="0.8"/>
<text x="64.30" y="1007.3" text-anchor="middle" font-size="18.5">975</text>
<text x="115.30" y="1007.3" text-anchor="middle" font-size="18.5">980</text>
<text x="166.30" y="1007.3" text-anchor="middle" font-size="18.5">985</text>
<text x="217.30" y="1007.3" text-anchor="middle" font-size="18.5">990</text>
<text x="268.30" y="1007.3" text-anchor="middle" font-size="18.5">995</text>
<text x="319.30" y="1007.3" text-anchor="middle" font-size="18.5">1000</text>
<text x="370.30" y="1007.3" text-anchor="middle" font-size="18.5">1005</text>
<text x="421.30" y="1007.3" text-anchor="middle" font-size="18.5">1010</text>
<text x="472.30" y="1007.3" text-anchor="middle" font-size="18.5">1015</text>
<text x="523.30" y="1007.3" text-anchor="middle" font-size="18.5">1020</text>
<text x="574.30" y="1007.3" text-anchor="middle" font-size="18.5">1025</text>
<text x="625.30" y="1007.3" text-anchor="middle" font-size="18.5">1030</text>
<text x="676.30" y="1007.3" text-anchor="middle" font-size="18.5">1035</text>
<text x="727.30" y="1007.3" text-anchor="middle" font-size="18.5">1040</text>
<text x="778.30" y="1007.3" text-anchor="middle" font-size="18.5">1045</text>
</svg></body></html>
